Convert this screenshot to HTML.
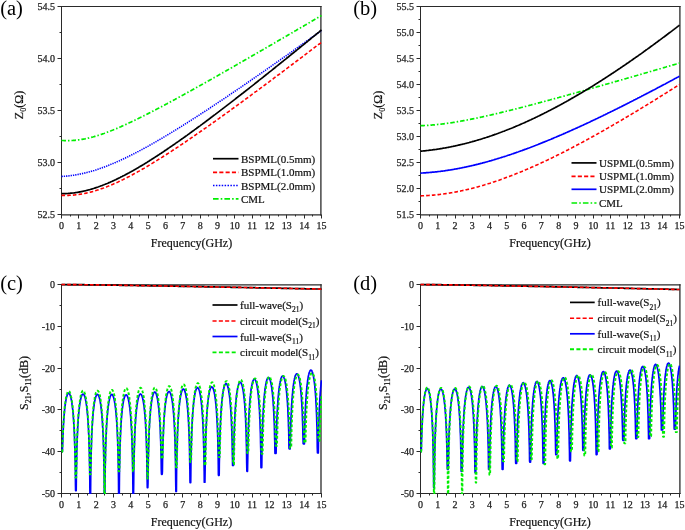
<!DOCTYPE html>
<html><head><meta charset="utf-8"><title>Figure</title><style>
html,body{margin:0;padding:0;background:#fff;}
body{width:685px;height:530px;overflow:hidden;}
svg{display:block;font-family:"Liberation Serif", serif;will-change:transform;}
.tk{font-size:10px;fill:#222;stroke:#222;stroke-width:0.25px;}
.ti{font-size:12px;fill:#111;stroke:#111;stroke-width:0.2px;}
.lg{font-size:11px;fill:#111;stroke:#111;stroke-width:0.2px;}
.pl{font-size:20.5px;fill:#000;}
</style></head><body>
<svg width="685" height="530" viewBox="0 0 685 530">
<rect width="685" height="530" fill="#fff"/>
<path d="M61.00,6.50H321.55" stroke="#2a2a2a" stroke-width="1"/>
<path d="M61.00,214.85H321.55" stroke="#2a2a2a" stroke-width="1.3"/>
<path d="M61.50,6.00V215.50" stroke="#2a2a2a" stroke-width="1"/>
<path d="M320.90,6.00V215.50" stroke="#2a2a2a" stroke-width="1.3"/>
<path d="M61.50,214.8V218.5M70.50,214.8V216.5M78.50,214.8V218.5M87.50,214.8V216.5M96.50,214.8V218.5M104.50,214.8V216.5M113.50,214.8V218.5M122.50,214.8V216.5M130.50,214.8V218.5M139.50,214.8V216.5M148.50,214.8V218.5M156.50,214.8V216.5M165.50,214.8V218.5M174.50,214.8V216.5M182.50,214.8V218.5M191.50,214.8V216.5M200.50,214.8V218.5M208.50,214.8V216.5M217.50,214.8V218.5M226.50,214.8V216.5M234.50,214.8V218.5M243.50,214.8V216.5M252.50,214.8V218.5M260.50,214.8V216.5M269.50,214.8V218.5M278.50,214.8V216.5M286.50,214.8V218.5M295.50,214.8V216.5M304.50,214.8V218.5M312.50,214.8V216.5M321.50,214.8V218.5M61.5,214.50h-4M61.5,188.50h-2M61.5,162.50h-4M61.5,136.50h-2M61.5,110.50h-4M61.5,84.50h-2M61.5,58.50h-4M61.5,32.50h-2M61.5,6.50h-4" stroke="#2a2a2a" stroke-width="1" fill="none"/>
<text x="61.50" y="229.3" text-anchor="middle" class="tk">0</text>
<text x="78.83" y="229.3" text-anchor="middle" class="tk">1</text>
<text x="96.17" y="229.3" text-anchor="middle" class="tk">2</text>
<text x="113.50" y="229.3" text-anchor="middle" class="tk">3</text>
<text x="130.83" y="229.3" text-anchor="middle" class="tk">4</text>
<text x="148.17" y="229.3" text-anchor="middle" class="tk">5</text>
<text x="165.50" y="229.3" text-anchor="middle" class="tk">6</text>
<text x="182.83" y="229.3" text-anchor="middle" class="tk">7</text>
<text x="200.17" y="229.3" text-anchor="middle" class="tk">8</text>
<text x="217.50" y="229.3" text-anchor="middle" class="tk">9</text>
<text x="234.83" y="229.3" text-anchor="middle" class="tk">10</text>
<text x="252.17" y="229.3" text-anchor="middle" class="tk">11</text>
<text x="269.50" y="229.3" text-anchor="middle" class="tk">12</text>
<text x="286.83" y="229.3" text-anchor="middle" class="tk">13</text>
<text x="304.17" y="229.3" text-anchor="middle" class="tk">14</text>
<text x="321.50" y="229.3" text-anchor="middle" class="tk">15</text>
<text x="55.0" y="218.00" text-anchor="end" class="tk">52.5</text>
<text x="55.0" y="166.00" text-anchor="end" class="tk">53.0</text>
<text x="55.0" y="114.00" text-anchor="end" class="tk">53.5</text>
<text x="55.0" y="62.00" text-anchor="end" class="tk">54.0</text>
<text x="55.0" y="10.00" text-anchor="end" class="tk">54.5</text>
<text x="191.5" y="246.8" text-anchor="middle" class="ti">Frequency(GHz)</text>
<polyline points="61.5,140.4 62.2,140.5 62.8,140.5 63.5,140.5 64.1,140.6 64.8,140.6 65.4,140.6 66.1,140.6 66.7,140.6 67.4,140.6 68.0,140.6 68.7,140.6 69.3,140.6 70.0,140.6 70.6,140.6 71.3,140.6 71.9,140.5 72.6,140.5 73.2,140.4 73.9,140.4 74.5,140.4 75.2,140.3 75.8,140.2 76.5,140.2 77.1,140.1 77.8,140.0 78.4,139.9 79.1,139.8 79.7,139.8 80.4,139.7 81.0,139.6 81.7,139.4 82.4,139.3 83.0,139.2 83.7,139.1 84.3,139.0 85.0,138.9 85.6,138.7 86.3,138.6 86.9,138.4 87.6,138.3 88.2,138.1 88.9,138.0 89.5,137.8 90.2,137.7 90.8,137.5 91.5,137.3 92.1,137.2 92.8,137.0 93.4,136.8 94.1,136.6 94.7,136.4 95.4,136.3 96.0,136.1 96.7,135.9 97.3,135.7 98.0,135.5 98.6,135.2 99.3,135.0 99.9,134.8 100.6,134.6 101.2,134.4 101.9,134.2 102.6,133.9 103.2,133.7 103.9,133.5 104.5,133.3 105.2,133.0 105.8,132.8 106.5,132.5 107.1,132.3 107.8,132.0 108.4,131.8 109.1,131.6 109.7,131.3 110.4,131.0 111.0,130.8 111.7,130.5 112.3,130.3 113.0,130.0 113.6,129.7 114.3,129.5 114.9,129.2 115.6,128.9 116.2,128.7 116.9,128.4 117.5,128.1 118.2,127.8 118.8,127.5 119.5,127.3 120.1,127.0 120.8,126.7 121.4,126.4 122.1,126.1 122.8,125.8 123.4,125.5 124.1,125.2 124.7,124.9 125.4,124.6 126.0,124.4 126.7,124.1 127.3,123.8 128.0,123.5 128.6,123.1 129.3,122.8 129.9,122.5 130.6,122.2 131.2,121.9 131.9,121.6 132.5,121.3 133.2,121.0 133.8,120.7 134.5,120.4 135.1,120.1 135.8,119.7 136.4,119.4 137.1,119.1 137.7,118.8 138.4,118.5 139.0,118.1 139.7,117.8 140.3,117.5 141.0,117.2 141.7,116.9 142.3,116.5 143.0,116.2 143.6,115.9 144.3,115.5 144.9,115.2 145.6,114.9 146.2,114.6 146.9,114.2 147.5,113.9 148.2,113.6 148.8,113.2 149.5,112.9 150.1,112.6 150.8,112.2 151.4,111.9 152.1,111.6 152.7,111.2 153.4,110.9 154.0,110.5 154.7,110.2 155.3,109.9 156.0,109.5 156.6,109.2 157.3,108.8 157.9,108.5 158.6,108.2 159.2,107.8 159.9,107.5 160.5,107.1 161.2,106.8 161.9,106.4 162.5,106.1 163.2,105.8 163.8,105.4 164.5,105.1 165.1,104.7 165.8,104.4 166.4,104.0 167.1,103.7 167.7,103.3 168.4,103.0 169.0,102.6 169.7,102.3 170.3,101.9 171.0,101.6 171.6,101.2 172.3,100.9 172.9,100.5 173.6,100.2 174.2,99.8 174.9,99.5 175.5,99.1 176.2,98.7 176.8,98.4 177.5,98.0 178.1,97.7 178.8,97.3 179.4,97.0 180.1,96.6 180.7,96.3 181.4,95.9 182.1,95.5 182.7,95.2 183.4,94.8 184.0,94.5 184.7,94.1 185.3,93.7 186.0,93.4 186.6,93.0 187.3,92.7 187.9,92.3 188.6,91.9 189.2,91.6 189.9,91.2 190.5,90.9 191.2,90.5 191.8,90.1 192.5,89.8 193.1,89.4 193.8,89.1 194.4,88.7 195.1,88.3 195.7,88.0 196.4,87.6 197.0,87.2 197.7,86.9 198.3,86.5 199.0,86.1 199.6,85.8 200.3,85.4 200.9,85.1 201.6,84.7 202.3,84.3 202.9,84.0 203.6,83.6 204.2,83.2 204.9,82.9 205.5,82.5 206.2,82.1 206.8,81.8 207.5,81.4 208.1,81.0 208.8,80.7 209.4,80.3 210.1,79.9 210.7,79.6 211.4,79.2 212.0,78.8 212.7,78.4 213.3,78.1 214.0,77.7 214.6,77.3 215.3,77.0 215.9,76.6 216.6,76.2 217.2,75.9 217.9,75.5 218.5,75.1 219.2,74.8 219.8,74.4 220.5,74.0 221.1,73.6 221.8,73.3 222.5,72.9 223.1,72.5 223.8,72.2 224.4,71.8 225.1,71.4 225.7,71.0 226.4,70.7 227.0,70.3 227.7,69.9 228.3,69.6 229.0,69.2 229.6,68.8 230.3,68.4 230.9,68.1 231.6,67.7 232.2,67.3 232.9,67.0 233.5,66.6 234.2,66.2 234.8,65.8 235.5,65.5 236.1,65.1 236.8,64.7 237.4,64.3 238.1,64.0 238.7,63.6 239.4,63.2 240.0,62.8 240.7,62.5 241.3,62.1 242.0,61.7 242.7,61.3 243.3,61.0 244.0,60.6 244.6,60.2 245.3,59.8 245.9,59.5 246.6,59.1 247.2,58.7 247.9,58.3 248.5,58.0 249.2,57.6 249.8,57.2 250.5,56.8 251.1,56.5 251.8,56.1 252.4,55.7 253.1,55.3 253.7,55.0 254.4,54.6 255.0,54.2 255.7,53.8 256.3,53.5 257.0,53.1 257.6,52.7 258.3,52.3 258.9,52.0 259.6,51.6 260.2,51.2 260.9,50.8 261.6,50.4 262.2,50.1 262.9,49.7 263.5,49.3 264.2,48.9 264.8,48.6 265.5,48.2 266.1,47.8 266.8,47.4 267.4,47.1 268.1,46.7 268.7,46.3 269.4,45.9 270.0,45.5 270.7,45.2 271.3,44.8 272.0,44.4 272.6,44.0 273.3,43.6 273.9,43.3 274.6,42.9 275.2,42.5 275.9,42.1 276.5,41.8 277.2,41.4 277.8,41.0 278.5,40.6 279.1,40.2 279.8,39.9 280.4,39.5 281.1,39.1 281.8,38.7 282.4,38.3 283.1,38.0 283.7,37.6 284.4,37.2 285.0,36.8 285.7,36.5 286.3,36.1 287.0,35.7 287.6,35.3 288.3,34.9 288.9,34.6 289.6,34.2 290.2,33.8 290.9,33.4 291.5,33.0 292.2,32.7 292.8,32.3 293.5,31.9 294.1,31.5 294.8,31.1 295.4,30.8 296.1,30.4 296.7,30.0 297.4,29.6 298.0,29.2 298.7,28.9 299.3,28.5 300.0,28.1 300.6,27.7 301.3,27.3 302.0,26.9 302.6,26.6 303.3,26.2 303.9,25.8 304.6,25.4 305.2,25.0 305.9,24.7 306.5,24.3 307.2,23.9 307.8,23.5 308.5,23.1 309.1,22.8 309.8,22.4 310.4,22.0 311.1,21.6 311.7,21.2 312.4,20.9 313.0,20.5 313.7,20.1 314.3,19.7 315.0,19.3 315.6,18.9 316.3,18.6 316.9,18.2 317.6,17.8 318.2,17.4 318.9,17.0 319.5,16.7 320.2,16.3 320.8,15.9 321.5,15.5" fill="none" stroke="#00ee00" stroke-width="1.7" stroke-dasharray="4.5,2,1.5,2" stroke-linejoin="round"/>
<polyline points="61.5,176.4 62.2,176.4 62.8,176.3 63.5,176.3 64.1,176.3 64.8,176.2 65.4,176.2 66.1,176.1 66.7,176.1 67.4,176.0 68.0,175.9 68.7,175.9 69.3,175.8 70.0,175.7 70.6,175.6 71.3,175.5 71.9,175.5 72.6,175.4 73.2,175.3 73.9,175.2 74.5,175.1 75.2,175.0 75.8,174.9 76.5,174.8 77.1,174.6 77.8,174.5 78.4,174.4 79.1,174.3 79.7,174.1 80.4,174.0 81.0,173.9 81.7,173.7 82.4,173.6 83.0,173.4 83.7,173.3 84.3,173.1 85.0,173.0 85.6,172.8 86.3,172.7 86.9,172.5 87.6,172.3 88.2,172.2 88.9,172.0 89.5,171.8 90.2,171.6 90.8,171.4 91.5,171.3 92.1,171.1 92.8,170.9 93.4,170.7 94.1,170.5 94.7,170.3 95.4,170.1 96.0,169.9 96.7,169.6 97.3,169.4 98.0,169.2 98.6,169.0 99.3,168.8 99.9,168.6 100.6,168.3 101.2,168.1 101.9,167.9 102.6,167.6 103.2,167.4 103.9,167.2 104.5,166.9 105.2,166.7 105.8,166.4 106.5,166.2 107.1,165.9 107.8,165.7 108.4,165.4 109.1,165.1 109.7,164.9 110.4,164.6 111.0,164.3 111.7,164.1 112.3,163.8 113.0,163.5 113.6,163.3 114.3,163.0 114.9,162.7 115.6,162.4 116.2,162.1 116.9,161.8 117.5,161.6 118.2,161.3 118.8,161.0 119.5,160.7 120.1,160.4 120.8,160.1 121.4,159.8 122.1,159.5 122.8,159.2 123.4,158.9 124.1,158.6 124.7,158.3 125.4,158.0 126.0,157.6 126.7,157.3 127.3,157.0 128.0,156.7 128.6,156.4 129.3,156.1 129.9,155.7 130.6,155.4 131.2,155.1 131.9,154.8 132.5,154.4 133.2,154.1 133.8,153.8 134.5,153.4 135.1,153.1 135.8,152.8 136.4,152.4 137.1,152.1 137.7,151.7 138.4,151.4 139.0,151.1 139.7,150.7 140.3,150.4 141.0,150.0 141.7,149.7 142.3,149.3 143.0,149.0 143.6,148.6 144.3,148.3 144.9,147.9 145.6,147.5 146.2,147.2 146.9,146.8 147.5,146.5 148.2,146.1 148.8,145.7 149.5,145.4 150.1,145.0 150.8,144.6 151.4,144.3 152.1,143.9 152.7,143.5 153.4,143.2 154.0,142.8 154.7,142.4 155.3,142.1 156.0,141.7 156.6,141.3 157.3,140.9 157.9,140.5 158.6,140.2 159.2,139.8 159.9,139.4 160.5,139.0 161.2,138.6 161.9,138.3 162.5,137.9 163.2,137.5 163.8,137.1 164.5,136.7 165.1,136.3 165.8,135.9 166.4,135.6 167.1,135.2 167.7,134.8 168.4,134.4 169.0,134.0 169.7,133.6 170.3,133.2 171.0,132.8 171.6,132.4 172.3,132.0 172.9,131.6 173.6,131.2 174.2,130.8 174.9,130.4 175.5,130.0 176.2,129.6 176.8,129.2 177.5,128.8 178.1,128.4 178.8,128.0 179.4,127.6 180.1,127.2 180.7,126.8 181.4,126.4 182.1,126.0 182.7,125.6 183.4,125.2 184.0,124.7 184.7,124.3 185.3,123.9 186.0,123.5 186.6,123.1 187.3,122.7 187.9,122.3 188.6,121.9 189.2,121.4 189.9,121.0 190.5,120.6 191.2,120.2 191.8,119.8 192.5,119.4 193.1,118.9 193.8,118.5 194.4,118.1 195.1,117.7 195.7,117.3 196.4,116.9 197.0,116.4 197.7,116.0 198.3,115.6 199.0,115.2 199.6,114.7 200.3,114.3 200.9,113.9 201.6,113.5 202.3,113.0 202.9,112.6 203.6,112.2 204.2,111.8 204.9,111.3 205.5,110.9 206.2,110.5 206.8,110.1 207.5,109.6 208.1,109.2 208.8,108.8 209.4,108.3 210.1,107.9 210.7,107.5 211.4,107.1 212.0,106.6 212.7,106.2 213.3,105.8 214.0,105.3 214.6,104.9 215.3,104.5 215.9,104.0 216.6,103.6 217.2,103.2 217.9,102.7 218.5,102.3 219.2,101.9 219.8,101.4 220.5,101.0 221.1,100.5 221.8,100.1 222.5,99.7 223.1,99.2 223.8,98.8 224.4,98.4 225.1,97.9 225.7,97.5 226.4,97.0 227.0,96.6 227.7,96.2 228.3,95.7 229.0,95.3 229.6,94.8 230.3,94.4 230.9,94.0 231.6,93.5 232.2,93.1 232.9,92.6 233.5,92.2 234.2,91.8 234.8,91.3 235.5,90.9 236.1,90.4 236.8,90.0 237.4,89.5 238.1,89.1 238.7,88.6 239.4,88.2 240.0,87.8 240.7,87.3 241.3,86.9 242.0,86.4 242.7,86.0 243.3,85.5 244.0,85.1 244.6,84.6 245.3,84.2 245.9,83.7 246.6,83.3 247.2,82.8 247.9,82.4 248.5,81.9 249.2,81.5 249.8,81.0 250.5,80.6 251.1,80.1 251.8,79.7 252.4,79.2 253.1,78.8 253.7,78.3 254.4,77.9 255.0,77.4 255.7,77.0 256.3,76.5 257.0,76.1 257.6,75.6 258.3,75.2 258.9,74.7 259.6,74.3 260.2,73.8 260.9,73.4 261.6,72.9 262.2,72.5 262.9,72.0 263.5,71.6 264.2,71.1 264.8,70.6 265.5,70.2 266.1,69.7 266.8,69.3 267.4,68.8 268.1,68.4 268.7,67.9 269.4,67.5 270.0,67.0 270.7,66.5 271.3,66.1 272.0,65.6 272.6,65.2 273.3,64.7 273.9,64.3 274.6,63.8 275.2,63.4 275.9,62.9 276.5,62.4 277.2,62.0 277.8,61.5 278.5,61.1 279.1,60.6 279.8,60.1 280.4,59.7 281.1,59.2 281.8,58.8 282.4,58.3 283.1,57.9 283.7,57.4 284.4,56.9 285.0,56.5 285.7,56.0 286.3,55.6 287.0,55.1 287.6,54.6 288.3,54.2 288.9,53.7 289.6,53.3 290.2,52.8 290.9,52.3 291.5,51.9 292.2,51.4 292.8,50.9 293.5,50.5 294.1,50.0 294.8,49.6 295.4,49.1 296.1,48.6 296.7,48.2 297.4,47.7 298.0,47.3 298.7,46.8 299.3,46.3 300.0,45.9 300.6,45.4 301.3,44.9 302.0,44.5 302.6,44.0 303.3,43.5 303.9,43.1 304.6,42.6 305.2,42.2 305.9,41.7 306.5,41.2 307.2,40.8 307.8,40.3 308.5,39.8 309.1,39.4 309.8,38.9 310.4,38.4 311.1,38.0 311.7,37.5 312.4,37.0 313.0,36.6 313.7,36.1 314.3,35.7 315.0,35.2 315.6,34.7 316.3,34.3 316.9,33.8 317.6,33.3 318.2,32.9 318.9,32.4 319.5,31.9 320.2,31.5 320.8,31.0 321.5,30.5" fill="none" stroke="#0000ff" stroke-width="1.6" stroke-dasharray="1.3,1.0" stroke-linejoin="round"/>
<polyline points="61.5,193.7 62.2,193.7 62.8,193.7 63.5,193.7 64.1,193.6 64.8,193.6 65.4,193.6 66.1,193.6 66.7,193.5 67.4,193.5 68.0,193.5 68.7,193.4 69.3,193.4 70.0,193.3 70.6,193.2 71.3,193.2 71.9,193.1 72.6,193.0 73.2,193.0 73.9,192.9 74.5,192.8 75.2,192.7 75.8,192.6 76.5,192.5 77.1,192.4 77.8,192.3 78.4,192.2 79.1,192.1 79.7,191.9 80.4,191.8 81.0,191.7 81.7,191.6 82.4,191.4 83.0,191.3 83.7,191.1 84.3,191.0 85.0,190.8 85.6,190.7 86.3,190.5 86.9,190.3 87.6,190.2 88.2,190.0 88.9,189.8 89.5,189.7 90.2,189.5 90.8,189.3 91.5,189.1 92.1,188.9 92.8,188.7 93.4,188.5 94.1,188.3 94.7,188.1 95.4,187.9 96.0,187.6 96.7,187.4 97.3,187.2 98.0,187.0 98.6,186.8 99.3,186.5 99.9,186.3 100.6,186.0 101.2,185.8 101.9,185.6 102.6,185.3 103.2,185.0 103.9,184.8 104.5,184.5 105.2,184.3 105.8,184.0 106.5,183.7 107.1,183.5 107.8,183.2 108.4,182.9 109.1,182.6 109.7,182.4 110.4,182.1 111.0,181.8 111.7,181.5 112.3,181.2 113.0,180.9 113.6,180.6 114.3,180.3 114.9,180.0 115.6,179.7 116.2,179.4 116.9,179.1 117.5,178.7 118.2,178.4 118.8,178.1 119.5,177.8 120.1,177.5 120.8,177.1 121.4,176.8 122.1,176.5 122.8,176.1 123.4,175.8 124.1,175.5 124.7,175.1 125.4,174.8 126.0,174.4 126.7,174.1 127.3,173.7 128.0,173.4 128.6,173.0 129.3,172.7 129.9,172.3 130.6,172.0 131.2,171.6 131.9,171.2 132.5,170.9 133.2,170.5 133.8,170.1 134.5,169.8 135.1,169.4 135.8,169.0 136.4,168.6 137.1,168.3 137.7,167.9 138.4,167.5 139.0,167.1 139.7,166.7 140.3,166.3 141.0,165.9 141.7,165.6 142.3,165.2 143.0,164.8 143.6,164.4 144.3,164.0 144.9,163.6 145.6,163.2 146.2,162.8 146.9,162.4 147.5,162.0 148.2,161.6 148.8,161.2 149.5,160.7 150.1,160.3 150.8,159.9 151.4,159.5 152.1,159.1 152.7,158.7 153.4,158.3 154.0,157.8 154.7,157.4 155.3,157.0 156.0,156.6 156.6,156.2 157.3,155.7 157.9,155.3 158.6,154.9 159.2,154.5 159.9,154.0 160.5,153.6 161.2,153.2 161.9,152.7 162.5,152.3 163.2,151.9 163.8,151.4 164.5,151.0 165.1,150.5 165.8,150.1 166.4,149.7 167.1,149.2 167.7,148.8 168.4,148.3 169.0,147.9 169.7,147.4 170.3,147.0 171.0,146.6 171.6,146.1 172.3,145.7 172.9,145.2 173.6,144.8 174.2,144.3 174.9,143.9 175.5,143.4 176.2,142.9 176.8,142.5 177.5,142.0 178.1,141.6 178.8,141.1 179.4,140.7 180.1,140.2 180.7,139.7 181.4,139.3 182.1,138.8 182.7,138.3 183.4,137.9 184.0,137.4 184.7,137.0 185.3,136.5 186.0,136.0 186.6,135.6 187.3,135.1 187.9,134.6 188.6,134.1 189.2,133.7 189.9,133.2 190.5,132.7 191.2,132.3 191.8,131.8 192.5,131.3 193.1,130.8 193.8,130.4 194.4,129.9 195.1,129.4 195.7,128.9 196.4,128.5 197.0,128.0 197.7,127.5 198.3,127.0 199.0,126.5 199.6,126.1 200.3,125.6 200.9,125.1 201.6,124.6 202.3,124.1 202.9,123.6 203.6,123.2 204.2,122.7 204.9,122.2 205.5,121.7 206.2,121.2 206.8,120.7 207.5,120.2 208.1,119.8 208.8,119.3 209.4,118.8 210.1,118.3 210.7,117.8 211.4,117.3 212.0,116.8 212.7,116.3 213.3,115.8 214.0,115.3 214.6,114.9 215.3,114.4 215.9,113.9 216.6,113.4 217.2,112.9 217.9,112.4 218.5,111.9 219.2,111.4 219.8,110.9 220.5,110.4 221.1,109.9 221.8,109.4 222.5,108.9 223.1,108.4 223.8,107.9 224.4,107.4 225.1,106.9 225.7,106.4 226.4,105.9 227.0,105.4 227.7,104.9 228.3,104.4 229.0,103.9 229.6,103.4 230.3,102.9 230.9,102.4 231.6,101.9 232.2,101.4 232.9,100.9 233.5,100.4 234.2,99.9 234.8,99.4 235.5,98.9 236.1,98.3 236.8,97.8 237.4,97.3 238.1,96.8 238.7,96.3 239.4,95.8 240.0,95.3 240.7,94.8 241.3,94.3 242.0,93.8 242.7,93.3 243.3,92.8 244.0,92.3 244.6,91.7 245.3,91.2 245.9,90.7 246.6,90.2 247.2,89.7 247.9,89.2 248.5,88.7 249.2,88.2 249.8,87.6 250.5,87.1 251.1,86.6 251.8,86.1 252.4,85.6 253.1,85.1 253.7,84.6 254.4,84.1 255.0,83.5 255.7,83.0 256.3,82.5 257.0,82.0 257.6,81.5 258.3,81.0 258.9,80.4 259.6,79.9 260.2,79.4 260.9,78.9 261.6,78.4 262.2,77.9 262.9,77.3 263.5,76.8 264.2,76.3 264.8,75.8 265.5,75.3 266.1,74.7 266.8,74.2 267.4,73.7 268.1,73.2 268.7,72.7 269.4,72.1 270.0,71.6 270.7,71.1 271.3,70.6 272.0,70.1 272.6,69.5 273.3,69.0 273.9,68.5 274.6,68.0 275.2,67.5 275.9,66.9 276.5,66.4 277.2,65.9 277.8,65.4 278.5,64.8 279.1,64.3 279.8,63.8 280.4,63.3 281.1,62.8 281.8,62.2 282.4,61.7 283.1,61.2 283.7,60.7 284.4,60.1 285.0,59.6 285.7,59.1 286.3,58.6 287.0,58.0 287.6,57.5 288.3,57.0 288.9,56.5 289.6,55.9 290.2,55.4 290.9,54.9 291.5,54.3 292.2,53.8 292.8,53.3 293.5,52.8 294.1,52.2 294.8,51.7 295.4,51.2 296.1,50.7 296.7,50.1 297.4,49.6 298.0,49.1 298.7,48.5 299.3,48.0 300.0,47.5 300.6,47.0 301.3,46.4 302.0,45.9 302.6,45.4 303.3,44.8 303.9,44.3 304.6,43.8 305.2,43.3 305.9,42.7 306.5,42.2 307.2,41.7 307.8,41.1 308.5,40.6 309.1,40.1 309.8,39.5 310.4,39.0 311.1,38.5 311.7,37.9 312.4,37.4 313.0,36.9 313.7,36.3 314.3,35.8 315.0,35.3 315.6,34.8 316.3,34.2 316.9,33.7 317.6,33.2 318.2,32.6 318.9,32.1 319.5,31.6 320.2,31.0 320.8,30.5 321.5,30.0" fill="none" stroke="#000000" stroke-width="1.7" stroke-linejoin="round"/>
<polyline points="61.5,195.3 62.2,195.4 62.8,195.4 63.5,195.4 64.1,195.4 64.8,195.4 65.4,195.4 66.1,195.4 66.7,195.4 67.4,195.4 68.0,195.4 68.7,195.4 69.3,195.3 70.0,195.3 70.6,195.3 71.3,195.2 71.9,195.2 72.6,195.2 73.2,195.1 73.9,195.0 74.5,195.0 75.2,194.9 75.8,194.8 76.5,194.8 77.1,194.7 77.8,194.6 78.4,194.5 79.1,194.4 79.7,194.3 80.4,194.2 81.0,194.1 81.7,194.0 82.4,193.9 83.0,193.8 83.7,193.7 84.3,193.5 85.0,193.4 85.6,193.3 86.3,193.1 86.9,193.0 87.6,192.8 88.2,192.7 88.9,192.5 89.5,192.4 90.2,192.2 90.8,192.0 91.5,191.9 92.1,191.7 92.8,191.5 93.4,191.3 94.1,191.1 94.7,190.9 95.4,190.7 96.0,190.5 96.7,190.3 97.3,190.1 98.0,189.9 98.6,189.7 99.3,189.5 99.9,189.3 100.6,189.1 101.2,188.8 101.9,188.6 102.6,188.4 103.2,188.1 103.9,187.9 104.5,187.6 105.2,187.4 105.8,187.1 106.5,186.9 107.1,186.6 107.8,186.4 108.4,186.1 109.1,185.9 109.7,185.6 110.4,185.3 111.0,185.0 111.7,184.8 112.3,184.5 113.0,184.2 113.6,183.9 114.3,183.6 114.9,183.4 115.6,183.1 116.2,182.8 116.9,182.5 117.5,182.2 118.2,181.9 118.8,181.6 119.5,181.3 120.1,180.9 120.8,180.6 121.4,180.3 122.1,180.0 122.8,179.7 123.4,179.4 124.1,179.0 124.7,178.7 125.4,178.4 126.0,178.1 126.7,177.7 127.3,177.4 128.0,177.1 128.6,176.7 129.3,176.4 129.9,176.0 130.6,175.7 131.2,175.3 131.9,175.0 132.5,174.7 133.2,174.3 133.8,173.9 134.5,173.6 135.1,173.2 135.8,172.9 136.4,172.5 137.1,172.2 137.7,171.8 138.4,171.4 139.0,171.1 139.7,170.7 140.3,170.3 141.0,170.0 141.7,169.6 142.3,169.2 143.0,168.8 143.6,168.5 144.3,168.1 144.9,167.7 145.6,167.3 146.2,166.9 146.9,166.5 147.5,166.2 148.2,165.8 148.8,165.4 149.5,165.0 150.1,164.6 150.8,164.2 151.4,163.8 152.1,163.4 152.7,163.0 153.4,162.6 154.0,162.2 154.7,161.8 155.3,161.4 156.0,161.0 156.6,160.6 157.3,160.2 157.9,159.8 158.6,159.4 159.2,159.0 159.9,158.6 160.5,158.2 161.2,157.8 161.9,157.4 162.5,157.0 163.2,156.5 163.8,156.1 164.5,155.7 165.1,155.3 165.8,154.9 166.4,154.5 167.1,154.0 167.7,153.6 168.4,153.2 169.0,152.8 169.7,152.3 170.3,151.9 171.0,151.5 171.6,151.1 172.3,150.6 172.9,150.2 173.6,149.8 174.2,149.4 174.9,148.9 175.5,148.5 176.2,148.1 176.8,147.6 177.5,147.2 178.1,146.8 178.8,146.3 179.4,145.9 180.1,145.5 180.7,145.0 181.4,144.6 182.1,144.2 182.7,143.7 183.4,143.3 184.0,142.8 184.7,142.4 185.3,142.0 186.0,141.5 186.6,141.1 187.3,140.6 187.9,140.2 188.6,139.8 189.2,139.3 189.9,138.9 190.5,138.4 191.2,138.0 191.8,137.5 192.5,137.1 193.1,136.6 193.8,136.2 194.4,135.7 195.1,135.3 195.7,134.8 196.4,134.4 197.0,133.9 197.7,133.5 198.3,133.0 199.0,132.6 199.6,132.1 200.3,131.7 200.9,131.2 201.6,130.8 202.3,130.3 202.9,129.8 203.6,129.4 204.2,128.9 204.9,128.5 205.5,128.0 206.2,127.6 206.8,127.1 207.5,126.6 208.1,126.2 208.8,125.7 209.4,125.3 210.1,124.8 210.7,124.3 211.4,123.9 212.0,123.4 212.7,123.0 213.3,122.5 214.0,122.0 214.6,121.6 215.3,121.1 215.9,120.6 216.6,120.2 217.2,119.7 217.9,119.2 218.5,118.8 219.2,118.3 219.8,117.8 220.5,117.4 221.1,116.9 221.8,116.4 222.5,116.0 223.1,115.5 223.8,115.0 224.4,114.6 225.1,114.1 225.7,113.6 226.4,113.2 227.0,112.7 227.7,112.2 228.3,111.8 229.0,111.3 229.6,110.8 230.3,110.3 230.9,109.9 231.6,109.4 232.2,108.9 232.9,108.4 233.5,108.0 234.2,107.5 234.8,107.0 235.5,106.6 236.1,106.1 236.8,105.6 237.4,105.1 238.1,104.7 238.7,104.2 239.4,103.7 240.0,103.2 240.7,102.8 241.3,102.3 242.0,101.8 242.7,101.3 243.3,100.8 244.0,100.4 244.6,99.9 245.3,99.4 245.9,98.9 246.6,98.5 247.2,98.0 247.9,97.5 248.5,97.0 249.2,96.5 249.8,96.1 250.5,95.6 251.1,95.1 251.8,94.6 252.4,94.1 253.1,93.7 253.7,93.2 254.4,92.7 255.0,92.2 255.7,91.7 256.3,91.3 257.0,90.8 257.6,90.3 258.3,89.8 258.9,89.3 259.6,88.8 260.2,88.4 260.9,87.9 261.6,87.4 262.2,86.9 262.9,86.4 263.5,85.9 264.2,85.5 264.8,85.0 265.5,84.5 266.1,84.0 266.8,83.5 267.4,83.0 268.1,82.5 268.7,82.1 269.4,81.6 270.0,81.1 270.7,80.6 271.3,80.1 272.0,79.6 272.6,79.1 273.3,78.7 273.9,78.2 274.6,77.7 275.2,77.2 275.9,76.7 276.5,76.2 277.2,75.7 277.8,75.2 278.5,74.8 279.1,74.3 279.8,73.8 280.4,73.3 281.1,72.8 281.8,72.3 282.4,71.8 283.1,71.3 283.7,70.9 284.4,70.4 285.0,69.9 285.7,69.4 286.3,68.9 287.0,68.4 287.6,67.9 288.3,67.4 288.9,66.9 289.6,66.4 290.2,66.0 290.9,65.5 291.5,65.0 292.2,64.5 292.8,64.0 293.5,63.5 294.1,63.0 294.8,62.5 295.4,62.0 296.1,61.5 296.7,61.0 297.4,60.5 298.0,60.1 298.7,59.6 299.3,59.1 300.0,58.6 300.6,58.1 301.3,57.6 302.0,57.1 302.6,56.6 303.3,56.1 303.9,55.6 304.6,55.1 305.2,54.6 305.9,54.1 306.5,53.7 307.2,53.2 307.8,52.7 308.5,52.2 309.1,51.7 309.8,51.2 310.4,50.7 311.1,50.2 311.7,49.7 312.4,49.2 313.0,48.7 313.7,48.2 314.3,47.7 315.0,47.2 315.6,46.7 316.3,46.2 316.9,45.7 317.6,45.2 318.2,44.7 318.9,44.3 319.5,43.8 320.2,43.3 320.8,42.8 321.5,42.3" fill="none" stroke="#ff0000" stroke-width="1.6" stroke-dasharray="3.6,2.1" stroke-linejoin="round"/>
<path d="M420.00,6.50H680.55" stroke="#2a2a2a" stroke-width="1"/>
<path d="M420.00,214.85H680.55" stroke="#2a2a2a" stroke-width="1.3"/>
<path d="M420.50,6.00V215.50" stroke="#2a2a2a" stroke-width="1"/>
<path d="M679.90,6.00V215.50" stroke="#2a2a2a" stroke-width="1.3"/>
<path d="M420.50,214.8V218.5M429.50,214.8V216.5M437.50,214.8V218.5M446.50,214.8V216.5M455.50,214.8V218.5M463.50,214.8V216.5M472.50,214.8V218.5M480.50,214.8V216.5M489.50,214.8V218.5M498.50,214.8V216.5M506.50,214.8V218.5M515.50,214.8V216.5M524.50,214.8V218.5M532.50,214.8V216.5M541.50,214.8V218.5M550.50,214.8V216.5M558.50,214.8V218.5M567.50,214.8V216.5M575.50,214.8V218.5M584.50,214.8V216.5M593.50,214.8V218.5M601.50,214.8V216.5M610.50,214.8V218.5M619.50,214.8V216.5M627.50,214.8V218.5M636.50,214.8V216.5M644.50,214.8V218.5M653.50,214.8V216.5M662.50,214.8V218.5M670.50,214.8V216.5M679.50,214.8V218.5M420.5,214.50h-4M420.5,201.50h-2M420.5,188.50h-4M420.5,175.50h-2M420.5,162.50h-4M420.5,149.50h-2M420.5,136.50h-4M420.5,123.50h-2M420.5,110.50h-4M420.5,97.50h-2M420.5,84.50h-4M420.5,71.50h-2M420.5,58.50h-4M420.5,45.50h-2M420.5,32.50h-4M420.5,19.50h-2M420.5,6.50h-4" stroke="#2a2a2a" stroke-width="1" fill="none"/>
<text x="420.50" y="229.3" text-anchor="middle" class="tk">0</text>
<text x="437.77" y="229.3" text-anchor="middle" class="tk">1</text>
<text x="455.03" y="229.3" text-anchor="middle" class="tk">2</text>
<text x="472.30" y="229.3" text-anchor="middle" class="tk">3</text>
<text x="489.57" y="229.3" text-anchor="middle" class="tk">4</text>
<text x="506.83" y="229.3" text-anchor="middle" class="tk">5</text>
<text x="524.10" y="229.3" text-anchor="middle" class="tk">6</text>
<text x="541.37" y="229.3" text-anchor="middle" class="tk">7</text>
<text x="558.63" y="229.3" text-anchor="middle" class="tk">8</text>
<text x="575.90" y="229.3" text-anchor="middle" class="tk">9</text>
<text x="593.17" y="229.3" text-anchor="middle" class="tk">10</text>
<text x="610.43" y="229.3" text-anchor="middle" class="tk">11</text>
<text x="627.70" y="229.3" text-anchor="middle" class="tk">12</text>
<text x="644.97" y="229.3" text-anchor="middle" class="tk">13</text>
<text x="662.23" y="229.3" text-anchor="middle" class="tk">14</text>
<text x="679.50" y="229.3" text-anchor="middle" class="tk">15</text>
<text x="414.0" y="218.00" text-anchor="end" class="tk">51.5</text>
<text x="414.0" y="192.00" text-anchor="end" class="tk">52.0</text>
<text x="414.0" y="166.00" text-anchor="end" class="tk">52.5</text>
<text x="414.0" y="140.00" text-anchor="end" class="tk">53.0</text>
<text x="414.0" y="114.00" text-anchor="end" class="tk">53.5</text>
<text x="414.0" y="88.00" text-anchor="end" class="tk">54.0</text>
<text x="414.0" y="62.00" text-anchor="end" class="tk">54.5</text>
<text x="414.0" y="36.00" text-anchor="end" class="tk">55.0</text>
<text x="414.0" y="10.00" text-anchor="end" class="tk">55.5</text>
<text x="550.0" y="246.8" text-anchor="middle" class="ti">Frequency(GHz)</text>
<polyline points="420.5,125.7 421.1,125.7 421.8,125.6 422.4,125.6 423.1,125.6 423.7,125.6 424.4,125.5 425.0,125.5 425.7,125.5 426.3,125.4 427.0,125.4 427.6,125.3 428.3,125.3 428.9,125.2 429.6,125.2 430.2,125.2 430.9,125.1 431.5,125.1 432.2,125.0 432.8,124.9 433.5,124.9 434.1,124.8 434.8,124.8 435.4,124.7 436.1,124.6 436.7,124.6 437.4,124.5 438.0,124.4 438.7,124.4 439.3,124.3 440.0,124.2 440.6,124.2 441.3,124.1 441.9,124.0 442.6,123.9 443.2,123.8 443.9,123.8 444.5,123.7 445.2,123.6 445.8,123.5 446.5,123.4 447.1,123.3 447.8,123.2 448.4,123.1 449.1,123.0 449.7,123.0 450.4,122.9 451.0,122.8 451.7,122.7 452.3,122.6 453.0,122.5 453.6,122.4 454.3,122.3 454.9,122.2 455.6,122.0 456.2,121.9 456.9,121.8 457.5,121.7 458.1,121.6 458.8,121.5 459.4,121.4 460.1,121.3 460.7,121.2 461.4,121.0 462.0,120.9 462.7,120.8 463.3,120.7 464.0,120.6 464.6,120.5 465.3,120.3 465.9,120.2 466.6,120.1 467.2,120.0 467.9,119.8 468.5,119.7 469.2,119.6 469.8,119.5 470.5,119.3 471.1,119.2 471.8,119.1 472.4,118.9 473.1,118.8 473.7,118.7 474.4,118.5 475.0,118.4 475.7,118.3 476.3,118.1 477.0,118.0 477.6,117.9 478.3,117.7 478.9,117.6 479.6,117.5 480.2,117.3 480.9,117.2 481.5,117.0 482.2,116.9 482.8,116.8 483.5,116.6 484.1,116.5 484.8,116.3 485.4,116.2 486.1,116.0 486.7,115.9 487.4,115.7 488.0,115.6 488.7,115.4 489.3,115.3 490.0,115.2 490.6,115.0 491.3,114.9 491.9,114.7 492.6,114.6 493.2,114.4 493.9,114.3 494.5,114.1 495.1,113.9 495.8,113.8 496.4,113.6 497.1,113.5 497.7,113.3 498.4,113.2 499.0,113.0 499.7,112.9 500.3,112.7 501.0,112.6 501.6,112.4 502.3,112.2 502.9,112.1 503.6,111.9 504.2,111.8 504.9,111.6 505.5,111.5 506.2,111.3 506.8,111.1 507.5,111.0 508.1,110.8 508.8,110.7 509.4,110.5 510.1,110.3 510.7,110.2 511.4,110.0 512.0,109.8 512.7,109.7 513.3,109.5 514.0,109.4 514.6,109.2 515.3,109.0 515.9,108.9 516.6,108.7 517.2,108.5 517.9,108.4 518.5,108.2 519.2,108.0 519.8,107.9 520.5,107.7 521.1,107.5 521.8,107.4 522.4,107.2 523.1,107.0 523.7,106.9 524.4,106.7 525.0,106.5 525.7,106.4 526.3,106.2 527.0,106.0 527.6,105.9 528.3,105.7 528.9,105.5 529.6,105.3 530.2,105.2 530.9,105.0 531.5,104.8 532.1,104.7 532.8,104.5 533.4,104.3 534.1,104.1 534.7,104.0 535.4,103.8 536.0,103.6 536.7,103.5 537.3,103.3 538.0,103.1 538.6,102.9 539.3,102.8 539.9,102.6 540.6,102.4 541.2,102.2 541.9,102.1 542.5,101.9 543.2,101.7 543.8,101.6 544.5,101.4 545.1,101.2 545.8,101.0 546.4,100.9 547.1,100.7 547.7,100.5 548.4,100.3 549.0,100.2 549.7,100.0 550.3,99.8 551.0,99.6 551.6,99.4 552.3,99.3 552.9,99.1 553.6,98.9 554.2,98.7 554.9,98.6 555.5,98.4 556.2,98.2 556.8,98.0 557.5,97.9 558.1,97.7 558.8,97.5 559.4,97.3 560.1,97.1 560.7,97.0 561.4,96.8 562.0,96.6 562.7,96.4 563.3,96.2 564.0,96.1 564.6,95.9 565.3,95.7 565.9,95.5 566.6,95.4 567.2,95.2 567.9,95.0 568.5,94.8 569.1,94.6 569.8,94.5 570.4,94.3 571.1,94.1 571.7,93.9 572.4,93.7 573.0,93.6 573.7,93.4 574.3,93.2 575.0,93.0 575.6,92.8 576.3,92.6 576.9,92.5 577.6,92.3 578.2,92.1 578.9,91.9 579.5,91.7 580.2,91.6 580.8,91.4 581.5,91.2 582.1,91.0 582.8,90.8 583.4,90.7 584.1,90.5 584.7,90.3 585.4,90.1 586.0,89.9 586.7,89.7 587.3,89.6 588.0,89.4 588.6,89.2 589.3,89.0 589.9,88.8 590.6,88.6 591.2,88.5 591.9,88.3 592.5,88.1 593.2,87.9 593.8,87.7 594.5,87.5 595.1,87.4 595.8,87.2 596.4,87.0 597.1,86.8 597.7,86.6 598.4,86.4 599.0,86.3 599.7,86.1 600.3,85.9 601.0,85.7 601.6,85.5 602.3,85.3 602.9,85.2 603.6,85.0 604.2,84.8 604.9,84.6 605.5,84.4 606.1,84.2 606.8,84.0 607.4,83.9 608.1,83.7 608.7,83.5 609.4,83.3 610.0,83.1 610.7,82.9 611.3,82.7 612.0,82.6 612.6,82.4 613.3,82.2 613.9,82.0 614.6,81.8 615.2,81.6 615.9,81.4 616.5,81.3 617.2,81.1 617.8,80.9 618.5,80.7 619.1,80.5 619.8,80.3 620.4,80.1 621.1,80.0 621.7,79.8 622.4,79.6 623.0,79.4 623.7,79.2 624.3,79.0 625.0,78.8 625.6,78.7 626.3,78.5 626.9,78.3 627.6,78.1 628.2,77.9 628.9,77.7 629.5,77.5 630.2,77.4 630.8,77.2 631.5,77.0 632.1,76.8 632.8,76.6 633.4,76.4 634.1,76.2 634.7,76.0 635.4,75.9 636.0,75.7 636.7,75.5 637.3,75.3 638.0,75.1 638.6,74.9 639.3,74.7 639.9,74.5 640.6,74.4 641.2,74.2 641.9,74.0 642.5,73.8 643.1,73.6 643.8,73.4 644.4,73.2 645.1,73.0 645.7,72.9 646.4,72.7 647.0,72.5 647.7,72.3 648.3,72.1 649.0,71.9 649.6,71.7 650.3,71.5 650.9,71.4 651.6,71.2 652.2,71.0 652.9,70.8 653.5,70.6 654.2,70.4 654.8,70.2 655.5,70.0 656.1,69.8 656.8,69.7 657.4,69.5 658.1,69.3 658.7,69.1 659.4,68.9 660.0,68.7 660.7,68.5 661.3,68.3 662.0,68.2 662.6,68.0 663.3,67.8 663.9,67.6 664.6,67.4 665.2,67.2 665.9,67.0 666.5,66.8 667.2,66.6 667.8,66.5 668.5,66.3 669.1,66.1 669.8,65.9 670.4,65.7 671.1,65.5 671.7,65.3 672.4,65.1 673.0,64.9 673.7,64.8 674.3,64.6 675.0,64.4 675.6,64.2 676.3,64.0 676.9,63.8 677.6,63.6 678.2,63.4 678.9,63.2 679.5,63.0" fill="none" stroke="#00ee00" stroke-width="1.7" stroke-dasharray="4.5,2,1.5,2" stroke-linejoin="round"/>
<polyline points="420.5,173.1 421.1,173.1 421.8,173.0 422.4,173.0 423.1,173.0 423.7,172.9 424.4,172.9 425.0,172.8 425.7,172.8 426.3,172.7 427.0,172.7 427.6,172.6 428.3,172.6 428.9,172.5 429.6,172.5 430.2,172.4 430.9,172.4 431.5,172.3 432.2,172.2 432.8,172.2 433.5,172.1 434.1,172.1 434.8,172.0 435.4,171.9 436.1,171.8 436.7,171.8 437.4,171.7 438.0,171.6 438.7,171.5 439.3,171.5 440.0,171.4 440.6,171.3 441.3,171.2 441.9,171.1 442.6,171.1 443.2,171.0 443.9,170.9 444.5,170.8 445.2,170.7 445.8,170.6 446.5,170.5 447.1,170.4 447.8,170.3 448.4,170.2 449.1,170.1 449.7,170.0 450.4,169.9 451.0,169.8 451.7,169.7 452.3,169.6 453.0,169.5 453.6,169.4 454.3,169.2 454.9,169.1 455.6,169.0 456.2,168.9 456.9,168.8 457.5,168.7 458.1,168.5 458.8,168.4 459.4,168.3 460.1,168.2 460.7,168.0 461.4,167.9 462.0,167.8 462.7,167.6 463.3,167.5 464.0,167.4 464.6,167.2 465.3,167.1 465.9,167.0 466.6,166.8 467.2,166.7 467.9,166.5 468.5,166.4 469.2,166.3 469.8,166.1 470.5,166.0 471.1,165.8 471.8,165.7 472.4,165.5 473.1,165.4 473.7,165.2 474.4,165.1 475.0,164.9 475.7,164.7 476.3,164.6 477.0,164.4 477.6,164.3 478.3,164.1 478.9,163.9 479.6,163.8 480.2,163.6 480.9,163.4 481.5,163.3 482.2,163.1 482.8,162.9 483.5,162.7 484.1,162.6 484.8,162.4 485.4,162.2 486.1,162.0 486.7,161.9 487.4,161.7 488.0,161.5 488.7,161.3 489.3,161.1 490.0,160.9 490.6,160.8 491.3,160.6 491.9,160.4 492.6,160.2 493.2,160.0 493.9,159.8 494.5,159.6 495.1,159.4 495.8,159.2 496.4,159.0 497.1,158.8 497.7,158.6 498.4,158.4 499.0,158.2 499.7,158.0 500.3,157.8 501.0,157.6 501.6,157.4 502.3,157.2 502.9,157.0 503.6,156.8 504.2,156.6 504.9,156.4 505.5,156.2 506.2,156.0 506.8,155.8 507.5,155.5 508.1,155.3 508.8,155.1 509.4,154.9 510.1,154.7 510.7,154.5 511.4,154.2 512.0,154.0 512.7,153.8 513.3,153.6 514.0,153.4 514.6,153.1 515.3,152.9 515.9,152.7 516.6,152.4 517.2,152.2 517.9,152.0 518.5,151.8 519.2,151.5 519.8,151.3 520.5,151.1 521.1,150.8 521.8,150.6 522.4,150.4 523.1,150.1 523.7,149.9 524.4,149.6 525.0,149.4 525.7,149.2 526.3,148.9 527.0,148.7 527.6,148.4 528.3,148.2 528.9,148.0 529.6,147.7 530.2,147.5 530.9,147.2 531.5,147.0 532.1,146.7 532.8,146.5 533.4,146.2 534.1,146.0 534.7,145.7 535.4,145.5 536.0,145.2 536.7,145.0 537.3,144.7 538.0,144.5 538.6,144.2 539.3,143.9 539.9,143.7 540.6,143.4 541.2,143.2 541.9,142.9 542.5,142.6 543.2,142.4 543.8,142.1 544.5,141.9 545.1,141.6 545.8,141.3 546.4,141.1 547.1,140.8 547.7,140.5 548.4,140.3 549.0,140.0 549.7,139.7 550.3,139.5 551.0,139.2 551.6,138.9 552.3,138.6 552.9,138.4 553.6,138.1 554.2,137.8 554.9,137.5 555.5,137.3 556.2,137.0 556.8,136.7 557.5,136.4 558.1,136.2 558.8,135.9 559.4,135.6 560.1,135.3 560.7,135.1 561.4,134.8 562.0,134.5 562.7,134.2 563.3,133.9 564.0,133.6 564.6,133.4 565.3,133.1 565.9,132.8 566.6,132.5 567.2,132.2 567.9,131.9 568.5,131.6 569.1,131.4 569.8,131.1 570.4,130.8 571.1,130.5 571.7,130.2 572.4,129.9 573.0,129.6 573.7,129.3 574.3,129.0 575.0,128.7 575.6,128.4 576.3,128.2 576.9,127.9 577.6,127.6 578.2,127.3 578.9,127.0 579.5,126.7 580.2,126.4 580.8,126.1 581.5,125.8 582.1,125.5 582.8,125.2 583.4,124.9 584.1,124.6 584.7,124.3 585.4,124.0 586.0,123.7 586.7,123.4 587.3,123.1 588.0,122.8 588.6,122.5 589.3,122.2 589.9,121.9 590.6,121.5 591.2,121.2 591.9,120.9 592.5,120.6 593.2,120.3 593.8,120.0 594.5,119.7 595.1,119.4 595.8,119.1 596.4,118.8 597.1,118.5 597.7,118.2 598.4,117.8 599.0,117.5 599.7,117.2 600.3,116.9 601.0,116.6 601.6,116.3 602.3,116.0 602.9,115.7 603.6,115.3 604.2,115.0 604.9,114.7 605.5,114.4 606.1,114.1 606.8,113.8 607.4,113.5 608.1,113.1 608.7,112.8 609.4,112.5 610.0,112.2 610.7,111.9 611.3,111.5 612.0,111.2 612.6,110.9 613.3,110.6 613.9,110.3 614.6,109.9 615.2,109.6 615.9,109.3 616.5,109.0 617.2,108.7 617.8,108.3 618.5,108.0 619.1,107.7 619.8,107.4 620.4,107.0 621.1,106.7 621.7,106.4 622.4,106.1 623.0,105.7 623.7,105.4 624.3,105.1 625.0,104.8 625.6,104.4 626.3,104.1 626.9,103.8 627.6,103.4 628.2,103.1 628.9,102.8 629.5,102.5 630.2,102.1 630.8,101.8 631.5,101.5 632.1,101.1 632.8,100.8 633.4,100.5 634.1,100.1 634.7,99.8 635.4,99.5 636.0,99.1 636.7,98.8 637.3,98.5 638.0,98.1 638.6,97.8 639.3,97.5 639.9,97.1 640.6,96.8 641.2,96.5 641.9,96.1 642.5,95.8 643.1,95.5 643.8,95.1 644.4,94.8 645.1,94.4 645.7,94.1 646.4,93.8 647.0,93.4 647.7,93.1 648.3,92.8 649.0,92.4 649.6,92.1 650.3,91.7 650.9,91.4 651.6,91.1 652.2,90.7 652.9,90.4 653.5,90.0 654.2,89.7 654.8,89.4 655.5,89.0 656.1,88.7 656.8,88.3 657.4,88.0 658.1,87.6 658.7,87.3 659.4,87.0 660.0,86.6 660.7,86.3 661.3,85.9 662.0,85.6 662.6,85.2 663.3,84.9 663.9,84.5 664.6,84.2 665.2,83.9 665.9,83.5 666.5,83.2 667.2,82.8 667.8,82.5 668.5,82.1 669.1,81.8 669.8,81.4 670.4,81.1 671.1,80.7 671.7,80.4 672.4,80.0 673.0,79.7 673.7,79.3 674.3,79.0 675.0,78.6 675.6,78.3 676.3,77.9 676.9,77.6 677.6,77.2 678.2,76.9 678.9,76.5 679.5,76.2" fill="none" stroke="#0000ff" stroke-width="1.7" stroke-linejoin="round"/>
<polyline points="420.5,151.2 421.1,151.1 421.8,151.1 422.4,151.0 423.1,151.0 423.7,150.9 424.4,150.8 425.0,150.8 425.7,150.7 426.3,150.6 427.0,150.5 427.6,150.5 428.3,150.4 428.9,150.3 429.6,150.2 430.2,150.2 430.9,150.1 431.5,150.0 432.2,149.9 432.8,149.8 433.5,149.7 434.1,149.7 434.8,149.6 435.4,149.5 436.1,149.4 436.7,149.3 437.4,149.2 438.0,149.1 438.7,149.0 439.3,148.9 440.0,148.8 440.6,148.7 441.3,148.6 441.9,148.5 442.6,148.3 443.2,148.2 443.9,148.1 444.5,148.0 445.2,147.9 445.8,147.8 446.5,147.7 447.1,147.5 447.8,147.4 448.4,147.3 449.1,147.2 449.7,147.0 450.4,146.9 451.0,146.8 451.7,146.6 452.3,146.5 453.0,146.4 453.6,146.2 454.3,146.1 454.9,146.0 455.6,145.8 456.2,145.7 456.9,145.5 457.5,145.4 458.1,145.2 458.8,145.1 459.4,144.9 460.1,144.8 460.7,144.6 461.4,144.5 462.0,144.3 462.7,144.2 463.3,144.0 464.0,143.9 464.6,143.7 465.3,143.5 465.9,143.4 466.6,143.2 467.2,143.0 467.9,142.9 468.5,142.7 469.2,142.5 469.8,142.3 470.5,142.2 471.1,142.0 471.8,141.8 472.4,141.6 473.1,141.4 473.7,141.3 474.4,141.1 475.0,140.9 475.7,140.7 476.3,140.5 477.0,140.3 477.6,140.1 478.3,139.9 478.9,139.7 479.6,139.5 480.2,139.4 480.9,139.2 481.5,139.0 482.2,138.7 482.8,138.5 483.5,138.3 484.1,138.1 484.8,137.9 485.4,137.7 486.1,137.5 486.7,137.3 487.4,137.1 488.0,136.9 488.7,136.7 489.3,136.4 490.0,136.2 490.6,136.0 491.3,135.8 491.9,135.6 492.6,135.3 493.2,135.1 493.9,134.9 494.5,134.6 495.1,134.4 495.8,134.2 496.4,134.0 497.1,133.7 497.7,133.5 498.4,133.2 499.0,133.0 499.7,132.8 500.3,132.5 501.0,132.3 501.6,132.0 502.3,131.8 502.9,131.5 503.6,131.3 504.2,131.1 504.9,130.8 505.5,130.5 506.2,130.3 506.8,130.0 507.5,129.8 508.1,129.5 508.8,129.3 509.4,129.0 510.1,128.7 510.7,128.5 511.4,128.2 512.0,128.0 512.7,127.7 513.3,127.4 514.0,127.2 514.6,126.9 515.3,126.6 515.9,126.3 516.6,126.1 517.2,125.8 517.9,125.5 518.5,125.2 519.2,125.0 519.8,124.7 520.5,124.4 521.1,124.1 521.8,123.8 522.4,123.5 523.1,123.3 523.7,123.0 524.4,122.7 525.0,122.4 525.7,122.1 526.3,121.8 527.0,121.5 527.6,121.2 528.3,120.9 528.9,120.6 529.6,120.3 530.2,120.0 530.9,119.7 531.5,119.4 532.1,119.1 532.8,118.8 533.4,118.5 534.1,118.2 534.7,117.9 535.4,117.6 536.0,117.3 536.7,117.0 537.3,116.6 538.0,116.3 538.6,116.0 539.3,115.7 539.9,115.4 540.6,115.1 541.2,114.7 541.9,114.4 542.5,114.1 543.2,113.8 543.8,113.5 544.5,113.1 545.1,112.8 545.8,112.5 546.4,112.1 547.1,111.8 547.7,111.5 548.4,111.1 549.0,110.8 549.7,110.5 550.3,110.1 551.0,109.8 551.6,109.5 552.3,109.1 552.9,108.8 553.6,108.4 554.2,108.1 554.9,107.8 555.5,107.4 556.2,107.1 556.8,106.7 557.5,106.4 558.1,106.0 558.8,105.7 559.4,105.3 560.1,105.0 560.7,104.6 561.4,104.3 562.0,103.9 562.7,103.5 563.3,103.2 564.0,102.8 564.6,102.5 565.3,102.1 565.9,101.8 566.6,101.4 567.2,101.0 567.9,100.7 568.5,100.3 569.1,99.9 569.8,99.6 570.4,99.2 571.1,98.8 571.7,98.4 572.4,98.1 573.0,97.7 573.7,97.3 574.3,97.0 575.0,96.6 575.6,96.2 576.3,95.8 576.9,95.4 577.6,95.1 578.2,94.7 578.9,94.3 579.5,93.9 580.2,93.5 580.8,93.2 581.5,92.8 582.1,92.4 582.8,92.0 583.4,91.6 584.1,91.2 584.7,90.8 585.4,90.4 586.0,90.0 586.7,89.6 587.3,89.3 588.0,88.9 588.6,88.5 589.3,88.1 589.9,87.7 590.6,87.3 591.2,86.9 591.9,86.5 592.5,86.1 593.2,85.7 593.8,85.3 594.5,84.9 595.1,84.4 595.8,84.0 596.4,83.6 597.1,83.2 597.7,82.8 598.4,82.4 599.0,82.0 599.7,81.6 600.3,81.2 601.0,80.8 601.6,80.3 602.3,79.9 602.9,79.5 603.6,79.1 604.2,78.7 604.9,78.3 605.5,77.8 606.1,77.4 606.8,77.0 607.4,76.6 608.1,76.2 608.7,75.7 609.4,75.3 610.0,74.9 610.7,74.5 611.3,74.0 612.0,73.6 612.6,73.2 613.3,72.7 613.9,72.3 614.6,71.9 615.2,71.5 615.9,71.0 616.5,70.6 617.2,70.2 617.8,69.7 618.5,69.3 619.1,68.8 619.8,68.4 620.4,68.0 621.1,67.5 621.7,67.1 622.4,66.7 623.0,66.2 623.7,65.8 624.3,65.3 625.0,64.9 625.6,64.4 626.3,64.0 626.9,63.5 627.6,63.1 628.2,62.7 628.9,62.2 629.5,61.8 630.2,61.3 630.8,60.9 631.5,60.4 632.1,60.0 632.8,59.5 633.4,59.0 634.1,58.6 634.7,58.1 635.4,57.7 636.0,57.2 636.7,56.8 637.3,56.3 638.0,55.9 638.6,55.4 639.3,54.9 639.9,54.5 640.6,54.0 641.2,53.6 641.9,53.1 642.5,52.6 643.1,52.2 643.8,51.7 644.4,51.2 645.1,50.8 645.7,50.3 646.4,49.8 647.0,49.4 647.7,48.9 648.3,48.4 649.0,48.0 649.6,47.5 650.3,47.0 650.9,46.5 651.6,46.1 652.2,45.6 652.9,45.1 653.5,44.6 654.2,44.2 654.8,43.7 655.5,43.2 656.1,42.7 656.8,42.3 657.4,41.8 658.1,41.3 658.7,40.8 659.4,40.3 660.0,39.9 660.7,39.4 661.3,38.9 662.0,38.4 662.6,37.9 663.3,37.4 663.9,37.0 664.6,36.5 665.2,36.0 665.9,35.5 666.5,35.0 667.2,34.5 667.8,34.0 668.5,33.5 669.1,33.0 669.8,32.6 670.4,32.1 671.1,31.6 671.7,31.1 672.4,30.6 673.0,30.1 673.7,29.6 674.3,29.1 675.0,28.6 675.6,28.1 676.3,27.6 676.9,27.1 677.6,26.6 678.2,26.1 678.9,25.6 679.5,25.1" fill="none" stroke="#000000" stroke-width="1.7" stroke-linejoin="round"/>
<polyline points="420.5,195.9 421.1,195.9 421.8,195.8 422.4,195.8 423.1,195.8 423.7,195.8 424.4,195.7 425.0,195.7 425.7,195.7 426.3,195.6 427.0,195.6 427.6,195.5 428.3,195.5 428.9,195.5 429.6,195.4 430.2,195.4 430.9,195.3 431.5,195.3 432.2,195.2 432.8,195.1 433.5,195.1 434.1,195.0 434.8,195.0 435.4,194.9 436.1,194.8 436.7,194.8 437.4,194.7 438.0,194.6 438.7,194.6 439.3,194.5 440.0,194.4 440.6,194.3 441.3,194.2 441.9,194.2 442.6,194.1 443.2,194.0 443.9,193.9 444.5,193.8 445.2,193.7 445.8,193.6 446.5,193.5 447.1,193.4 447.8,193.3 448.4,193.2 449.1,193.1 449.7,193.0 450.4,192.9 451.0,192.8 451.7,192.7 452.3,192.6 453.0,192.5 453.6,192.3 454.3,192.2 454.9,192.1 455.6,192.0 456.2,191.9 456.9,191.7 457.5,191.6 458.1,191.5 458.8,191.4 459.4,191.2 460.1,191.1 460.7,191.0 461.4,190.8 462.0,190.7 462.7,190.5 463.3,190.4 464.0,190.3 464.6,190.1 465.3,190.0 465.9,189.8 466.6,189.7 467.2,189.5 467.9,189.4 468.5,189.2 469.2,189.0 469.8,188.9 470.5,188.7 471.1,188.6 471.8,188.4 472.4,188.2 473.1,188.1 473.7,187.9 474.4,187.7 475.0,187.6 475.7,187.4 476.3,187.2 477.0,187.0 477.6,186.9 478.3,186.7 478.9,186.5 479.6,186.3 480.2,186.1 480.9,185.9 481.5,185.8 482.2,185.6 482.8,185.4 483.5,185.2 484.1,185.0 484.8,184.8 485.4,184.6 486.1,184.4 486.7,184.2 487.4,184.0 488.0,183.8 488.7,183.6 489.3,183.4 490.0,183.2 490.6,183.0 491.3,182.8 491.9,182.6 492.6,182.4 493.2,182.1 493.9,181.9 494.5,181.7 495.1,181.5 495.8,181.3 496.4,181.1 497.1,180.8 497.7,180.6 498.4,180.4 499.0,180.2 499.7,179.9 500.3,179.7 501.0,179.5 501.6,179.2 502.3,179.0 502.9,178.8 503.6,178.5 504.2,178.3 504.9,178.1 505.5,177.8 506.2,177.6 506.8,177.3 507.5,177.1 508.1,176.9 508.8,176.6 509.4,176.4 510.1,176.1 510.7,175.9 511.4,175.6 512.0,175.4 512.7,175.1 513.3,174.9 514.0,174.6 514.6,174.4 515.3,174.1 515.9,173.8 516.6,173.6 517.2,173.3 517.9,173.1 518.5,172.8 519.2,172.5 519.8,172.3 520.5,172.0 521.1,171.7 521.8,171.5 522.4,171.2 523.1,170.9 523.7,170.6 524.4,170.4 525.0,170.1 525.7,169.8 526.3,169.5 527.0,169.3 527.6,169.0 528.3,168.7 528.9,168.4 529.6,168.1 530.2,167.9 530.9,167.6 531.5,167.3 532.1,167.0 532.8,166.7 533.4,166.4 534.1,166.1 534.7,165.9 535.4,165.6 536.0,165.3 536.7,165.0 537.3,164.7 538.0,164.4 538.6,164.1 539.3,163.8 539.9,163.5 540.6,163.2 541.2,162.9 541.9,162.6 542.5,162.3 543.2,162.0 543.8,161.7 544.5,161.4 545.1,161.1 545.8,160.8 546.4,160.5 547.1,160.2 547.7,159.9 548.4,159.6 549.0,159.2 549.7,158.9 550.3,158.6 551.0,158.3 551.6,158.0 552.3,157.7 552.9,157.4 553.6,157.0 554.2,156.7 554.9,156.4 555.5,156.1 556.2,155.8 556.8,155.4 557.5,155.1 558.1,154.8 558.8,154.5 559.4,154.2 560.1,153.8 560.7,153.5 561.4,153.2 562.0,152.9 562.7,152.5 563.3,152.2 564.0,151.9 564.6,151.5 565.3,151.2 565.9,150.9 566.6,150.5 567.2,150.2 567.9,149.9 568.5,149.5 569.1,149.2 569.8,148.9 570.4,148.5 571.1,148.2 571.7,147.9 572.4,147.5 573.0,147.2 573.7,146.8 574.3,146.5 575.0,146.2 575.6,145.8 576.3,145.5 576.9,145.1 577.6,144.8 578.2,144.4 578.9,144.1 579.5,143.7 580.2,143.4 580.8,143.1 581.5,142.7 582.1,142.4 582.8,142.0 583.4,141.7 584.1,141.3 584.7,141.0 585.4,140.6 586.0,140.2 586.7,139.9 587.3,139.5 588.0,139.2 588.6,138.8 589.3,138.5 589.9,138.1 590.6,137.8 591.2,137.4 591.9,137.0 592.5,136.7 593.2,136.3 593.8,136.0 594.5,135.6 595.1,135.2 595.8,134.9 596.4,134.5 597.1,134.2 597.7,133.8 598.4,133.4 599.0,133.1 599.7,132.7 600.3,132.3 601.0,132.0 601.6,131.6 602.3,131.2 602.9,130.9 603.6,130.5 604.2,130.1 604.9,129.8 605.5,129.4 606.1,129.0 606.8,128.6 607.4,128.3 608.1,127.9 608.7,127.5 609.4,127.2 610.0,126.8 610.7,126.4 611.3,126.0 612.0,125.7 612.6,125.3 613.3,124.9 613.9,124.5 614.6,124.2 615.2,123.8 615.9,123.4 616.5,123.0 617.2,122.6 617.8,122.3 618.5,121.9 619.1,121.5 619.8,121.1 620.4,120.7 621.1,120.4 621.7,120.0 622.4,119.6 623.0,119.2 623.7,118.8 624.3,118.4 625.0,118.1 625.6,117.7 626.3,117.3 626.9,116.9 627.6,116.5 628.2,116.1 628.9,115.8 629.5,115.4 630.2,115.0 630.8,114.6 631.5,114.2 632.1,113.8 632.8,113.4 633.4,113.0 634.1,112.6 634.7,112.3 635.4,111.9 636.0,111.5 636.7,111.1 637.3,110.7 638.0,110.3 638.6,109.9 639.3,109.5 639.9,109.1 640.6,108.7 641.2,108.3 641.9,107.9 642.5,107.5 643.1,107.1 643.8,106.7 644.4,106.3 645.1,106.0 645.7,105.6 646.4,105.2 647.0,104.8 647.7,104.4 648.3,104.0 649.0,103.6 649.6,103.2 650.3,102.8 650.9,102.4 651.6,102.0 652.2,101.6 652.9,101.2 653.5,100.8 654.2,100.4 654.8,100.0 655.5,99.6 656.1,99.2 656.8,98.8 657.4,98.4 658.1,97.9 658.7,97.5 659.4,97.1 660.0,96.7 660.7,96.3 661.3,95.9 662.0,95.5 662.6,95.1 663.3,94.7 663.9,94.3 664.6,93.9 665.2,93.5 665.9,93.1 666.5,92.7 667.2,92.3 667.8,91.9 668.5,91.4 669.1,91.0 669.8,90.6 670.4,90.2 671.1,89.8 671.7,89.4 672.4,89.0 673.0,88.6 673.7,88.2 674.3,87.8 675.0,87.3 675.6,86.9 676.3,86.5 676.9,86.1 677.6,85.7 678.2,85.3 678.9,84.9 679.5,84.5" fill="none" stroke="#ff0000" stroke-width="1.6" stroke-dasharray="3.6,2.1" stroke-linejoin="round"/>
<path d="M61.00,284.80H321.65" stroke="#2a2a2a" stroke-width="1.3"/>
<path d="M61.00,493.50H321.65" stroke="#2a2a2a" stroke-width="1"/>
<path d="M61.50,284.15V494.00" stroke="#2a2a2a" stroke-width="1"/>
<path d="M321.00,284.15V494.00" stroke="#2a2a2a" stroke-width="1.3"/>
<path d="M61.50,493.5V497.5M70.50,493.5V495.5M78.50,493.5V497.5M87.50,493.5V495.5M96.50,493.5V497.5M104.50,493.5V495.5M113.50,493.5V497.5M122.50,493.5V495.5M130.50,493.5V497.5M139.50,493.5V495.5M148.50,493.5V497.5M156.50,493.5V495.5M165.50,493.5V497.5M174.50,493.5V495.5M182.50,493.5V497.5M191.50,493.5V495.5M200.50,493.5V497.5M208.50,493.5V495.5M217.50,493.5V497.5M226.50,493.5V495.5M234.50,493.5V497.5M243.50,493.5V495.5M252.50,493.5V497.5M260.50,493.5V495.5M269.50,493.5V497.5M278.50,493.5V495.5M286.50,493.5V497.5M295.50,493.5V495.5M304.50,493.5V497.5M312.50,493.5V495.5M321.50,493.5V497.5M61.5,493.50h-4M61.5,472.50h-2M61.5,451.50h-4M61.5,430.50h-2M61.5,409.50h-4M61.5,389.50h-2M61.5,368.50h-4M61.5,347.50h-2M61.5,326.50h-4M61.5,305.50h-2M61.5,284.50h-4" stroke="#2a2a2a" stroke-width="1" fill="none"/>
<text x="61.50" y="508.3" text-anchor="middle" class="tk">0</text>
<text x="78.83" y="508.3" text-anchor="middle" class="tk">1</text>
<text x="96.17" y="508.3" text-anchor="middle" class="tk">2</text>
<text x="113.50" y="508.3" text-anchor="middle" class="tk">3</text>
<text x="130.83" y="508.3" text-anchor="middle" class="tk">4</text>
<text x="148.17" y="508.3" text-anchor="middle" class="tk">5</text>
<text x="165.50" y="508.3" text-anchor="middle" class="tk">6</text>
<text x="182.83" y="508.3" text-anchor="middle" class="tk">7</text>
<text x="200.17" y="508.3" text-anchor="middle" class="tk">8</text>
<text x="217.50" y="508.3" text-anchor="middle" class="tk">9</text>
<text x="234.83" y="508.3" text-anchor="middle" class="tk">10</text>
<text x="252.17" y="508.3" text-anchor="middle" class="tk">11</text>
<text x="269.50" y="508.3" text-anchor="middle" class="tk">12</text>
<text x="286.83" y="508.3" text-anchor="middle" class="tk">13</text>
<text x="304.17" y="508.3" text-anchor="middle" class="tk">14</text>
<text x="321.50" y="508.3" text-anchor="middle" class="tk">15</text>
<text x="55.0" y="497.00" text-anchor="end" class="tk">-50</text>
<text x="55.0" y="455.20" text-anchor="end" class="tk">-40</text>
<text x="55.0" y="413.40" text-anchor="end" class="tk">-30</text>
<text x="55.0" y="371.60" text-anchor="end" class="tk">-20</text>
<text x="55.0" y="329.80" text-anchor="end" class="tk">-10</text>
<text x="55.0" y="288.00" text-anchor="end" class="tk">0</text>
<text x="191.5" y="525.8" text-anchor="middle" class="ti">Frequency(GHz)</text>
<clipPath id="cpc"><rect x="61.0" y="284.0" width="261.0" height="210.0"/></clipPath>
<g clip-path="url(#cpc)">
<polyline points="62.0,451.7 62.1,451.7 62.3,451.7 62.4,451.7 62.5,447.3 62.7,443.1 62.8,439.4 62.9,436.1 63.1,433.0 63.2,430.2 63.3,427.7 63.4,425.3 63.6,423.1 63.7,421.1 63.8,419.2 64.0,417.4 64.1,415.7 64.2,414.2 64.4,412.7 64.5,411.3 64.6,410.0 64.7,408.8 64.9,407.6 65.0,406.5 65.1,405.5 65.3,404.5 65.4,403.5 65.5,402.7 65.7,401.8 65.8,401.1 65.9,400.3 66.0,399.6 66.2,399.0 66.3,398.4 66.4,397.8 66.6,397.3 66.7,396.8 66.8,396.3 67.0,395.9 67.1,395.5 67.2,395.1 67.3,394.8 67.5,394.5 67.6,394.2 67.7,394.0 67.9,393.8 68.0,393.6 68.1,393.5 68.3,393.3 68.4,393.3 68.5,393.2 68.6,393.2 68.8,393.2 68.9,393.3 69.0,393.3 69.2,393.4 69.3,393.5 69.4,393.7 69.5,393.9 69.7,394.1 69.8,394.4 69.9,394.6 70.1,394.9 70.2,395.3 70.3,395.7 70.5,396.1 70.6,396.5 70.7,397.0 70.8,397.5 71.0,398.0 71.1,398.6 71.2,399.3 71.4,399.9 71.5,400.6 71.6,401.4 71.8,402.2 71.9,403.0 72.0,403.9 72.1,404.9 72.3,405.9 72.4,406.9 72.5,408.1 72.7,409.2 72.8,410.5 72.9,411.8 73.1,413.2 73.2,414.7 73.3,416.3 73.4,418.0 73.6,419.8 73.7,421.8 73.8,423.8 74.0,426.1 74.1,428.5 74.2,431.1 74.4,433.9 74.5,437.0 74.6,440.4 74.7,444.2 74.9,448.5 75.0,453.4 75.1,459.1 75.3,465.9 75.4,474.3 75.5,485.3 75.6,490.6 75.8,490.6 75.9,490.6 76.0,490.6 76.2,490.6 76.3,481.1 76.4,471.2 76.6,463.5 76.7,457.1 76.8,451.7 76.9,447.1 77.1,443.0 77.2,439.3 77.3,436.0 77.5,433.0 77.6,430.3 77.7,427.8 77.9,425.5 78.0,423.3 78.1,421.3 78.2,419.4 78.4,417.7 78.5,416.0 78.6,414.5 78.8,413.0 78.9,411.7 79.0,410.4 79.2,409.2 79.3,408.0 79.4,406.9 79.5,405.9 79.7,404.9 79.8,404.0 79.9,403.2 80.1,402.4 80.2,401.6 80.3,400.9 80.5,400.2 80.6,399.6 80.7,399.0 80.8,398.4 81.0,397.9 81.1,397.4 81.2,396.9 81.4,396.5 81.5,396.2 81.6,395.8 81.8,395.5 81.9,395.2 82.0,395.0 82.1,394.7 82.3,394.5 82.4,394.4 82.5,394.3 82.7,394.2 82.8,394.1 82.9,394.0 83.0,394.0 83.2,394.0 83.3,394.1 83.4,394.2 83.6,394.3 83.7,394.4 83.8,394.5 84.0,394.7 84.1,395.0 84.2,395.2 84.3,395.5 84.5,395.8 84.6,396.1 84.7,396.5 84.9,396.9 85.0,397.4 85.1,397.9 85.3,398.4 85.4,398.9 85.5,399.5 85.6,400.2 85.8,400.8 85.9,401.6 86.0,402.3 86.2,403.1 86.3,404.0 86.4,404.9 86.6,405.8 86.7,406.9 86.8,407.9 86.9,409.1 87.1,410.3 87.2,411.5 87.3,412.9 87.5,414.3 87.6,415.8 87.7,417.5 87.9,419.2 88.0,421.0 88.1,423.0 88.2,425.1 88.4,427.4 88.5,429.8 88.6,432.5 88.8,435.4 88.9,438.6 89.0,442.1 89.1,446.1 89.3,450.5 89.4,455.6 89.5,461.6 89.7,468.8 89.8,477.8 89.9,489.9 90.1,501.9 90.2,501.9 90.3,501.9 90.4,501.9 90.6,490.8 90.7,478.4 90.8,469.3 91.0,462.0 91.1,456.0 91.2,450.8 91.4,446.3 91.5,442.4 91.6,438.8 91.7,435.6 91.9,432.7 92.0,430.1 92.1,427.6 92.3,425.3 92.4,423.2 92.5,421.2 92.7,419.4 92.8,417.7 92.9,416.1 93.0,414.5 93.2,413.1 93.3,411.8 93.4,410.5 93.6,409.3 93.7,408.2 93.8,407.1 94.0,406.1 94.1,405.1 94.2,404.2 94.3,403.4 94.5,402.6 94.6,401.8 94.7,401.1 94.9,400.5 95.0,399.8 95.1,399.2 95.3,398.7 95.4,398.2 95.5,397.7 95.6,397.3 95.8,396.9 95.9,396.5 96.0,396.1 96.2,395.8 96.3,395.6 96.4,395.3 96.5,395.1 96.7,394.9 96.8,394.8 96.9,394.6 97.1,394.5 97.2,394.5 97.3,394.4 97.5,394.4 97.6,394.5 97.7,394.5 97.8,394.6 98.0,394.7 98.1,394.8 98.2,395.0 98.4,395.2 98.5,395.4 98.6,395.7 98.8,396.0 98.9,396.3 99.0,396.7 99.1,397.0 99.3,397.5 99.4,397.9 99.5,398.4 99.7,398.9 99.8,399.5 99.9,400.1 100.1,400.8 100.2,401.4 100.3,402.2 100.4,403.0 100.6,403.8 100.7,404.6 100.8,405.6 101.0,406.5 101.1,407.6 101.2,408.7 101.4,409.8 101.5,411.1 101.6,412.4 101.7,413.7 101.9,415.2 102.0,416.8 102.1,418.4 102.3,420.2 102.4,422.1 102.5,424.1 102.6,426.3 102.8,428.6 102.9,431.1 103.0,433.9 103.2,436.9 103.3,440.2 103.4,443.9 103.6,448.1 103.7,452.8 103.8,458.2 103.9,464.7 104.1,472.5 104.2,482.6 104.3,496.7 104.5,501.9 104.6,501.9 104.7,501.9 104.9,500.5 105.0,485.1 105.1,474.4 105.2,466.1 105.4,459.4 105.5,453.8 105.6,449.0 105.8,444.7 105.9,440.9 106.0,437.5 106.2,434.5 106.3,431.7 106.4,429.1 106.5,426.7 106.7,424.5 106.8,422.4 106.9,420.5 107.1,418.7 107.2,417.1 107.3,415.5 107.5,414.0 107.6,412.6 107.7,411.3 107.8,410.0 108.0,408.9 108.1,407.8 108.2,406.7 108.4,405.7 108.5,404.8 108.6,403.9 108.7,403.1 108.9,402.3 109.0,401.6 109.1,400.9 109.3,400.2 109.4,399.6 109.5,399.0 109.7,398.5 109.8,398.0 109.9,397.5 110.0,397.1 110.2,396.7 110.3,396.4 110.4,396.0 110.6,395.7 110.7,395.5 110.8,395.2 111.0,395.0 111.1,394.9 111.2,394.7 111.3,394.6 111.5,394.5 111.6,394.5 111.7,394.4 111.9,394.4 112.0,394.5 112.1,394.5 112.3,394.6 112.4,394.8 112.5,394.9 112.6,395.1 112.8,395.3 112.9,395.6 113.0,395.9 113.2,396.2 113.3,396.5 113.4,396.9 113.6,397.3 113.7,397.7 113.8,398.2 113.9,398.7 114.1,399.3 114.2,399.9 114.3,400.5 114.5,401.2 114.6,401.9 114.7,402.7 114.9,403.5 115.0,404.3 115.1,405.2 115.2,406.2 115.4,407.2 115.5,408.3 115.6,409.4 115.8,410.6 115.9,411.9 116.0,413.2 116.1,414.6 116.3,416.2 116.4,417.8 116.5,419.5 116.7,421.3 116.8,423.3 116.9,425.4 117.1,427.7 117.2,430.1 117.3,432.8 117.4,435.7 117.6,438.9 117.7,442.4 117.8,446.3 118.0,450.8 118.1,455.9 118.2,461.8 118.4,469.0 118.5,478.0 118.6,490.0 118.7,501.9 118.9,501.9 119.0,501.9 119.1,501.9 119.3,491.3 119.4,478.9 119.5,469.7 119.7,462.4 119.8,456.4 119.9,451.2 120.0,446.7 120.2,442.8 120.3,439.2 120.4,436.0 120.6,433.1 120.7,430.4 120.8,428.0 121.0,425.7 121.1,423.6 121.2,421.6 121.3,419.8 121.5,418.0 121.6,416.4 121.7,414.9 121.9,413.5 122.0,412.1 122.1,410.9 122.2,409.7 122.4,408.5 122.5,407.5 122.6,406.5 122.8,405.5 122.9,404.6 123.0,403.8 123.2,403.0 123.3,402.2 123.4,401.5 123.5,400.8 123.7,400.2 123.8,399.6 123.9,399.1 124.1,398.6 124.2,398.1 124.3,397.6 124.5,397.2 124.6,396.9 124.7,396.5 124.8,396.2 125.0,396.0 125.1,395.7 125.2,395.5 125.4,395.3 125.5,395.2 125.6,395.0 125.8,395.0 125.9,394.9 126.0,394.8 126.1,394.8 126.3,394.9 126.4,394.9 126.5,395.0 126.7,395.1 126.8,395.2 126.9,395.4 127.1,395.6 127.2,395.8 127.3,396.1 127.4,396.3 127.6,396.7 127.7,397.0 127.8,397.4 128.0,397.8 128.1,398.3 128.2,398.8 128.4,399.3 128.5,399.9 128.6,400.5 128.7,401.1 128.9,401.8 129.0,402.5 129.1,403.3 129.3,404.1 129.4,405.0 129.5,406.0 129.6,406.9 129.8,408.0 129.9,409.1 130.0,410.2 130.2,411.5 130.3,412.8 130.4,414.2 130.6,415.7 130.7,417.2 130.8,418.9 130.9,420.7 131.1,422.6 131.2,424.7 131.3,426.9 131.5,429.2 131.6,431.8 131.7,434.6 131.9,437.7 132.0,441.1 132.1,444.9 132.2,449.2 132.4,454.0 132.5,459.7 132.6,466.4 132.8,474.7 132.9,485.6 133.0,501.2 133.2,501.9 133.3,501.9 133.4,501.9 133.5,495.9 133.7,482.0 133.8,472.0 133.9,464.2 134.1,457.8 134.2,452.4 134.3,447.7 134.5,443.6 134.6,439.9 134.7,436.6 134.8,433.6 135.0,430.8 135.1,428.3 135.2,426.0 135.4,423.8 135.5,421.8 135.6,419.9 135.7,418.1 135.9,416.4 136.0,414.9 136.1,413.4 136.3,412.0 136.4,410.7 136.5,409.5 136.7,408.3 136.8,407.2 136.9,406.2 137.0,405.2 137.2,404.3 137.3,403.4 137.4,402.6 137.6,401.8 137.7,401.1 137.8,400.4 138.0,399.7 138.1,399.1 138.2,398.6 138.3,398.0 138.5,397.5 138.6,397.1 138.7,396.7 138.9,396.3 139.0,395.9 139.1,395.6 139.3,395.3 139.4,395.0 139.5,394.8 139.6,394.6 139.8,394.4 139.9,394.3 140.0,394.2 140.2,394.1 140.3,394.1 140.4,394.0 140.6,394.0 140.7,394.1 140.8,394.1 140.9,394.2 141.1,394.3 141.2,394.5 141.3,394.7 141.5,394.9 141.6,395.1 141.7,395.4 141.9,395.7 142.0,396.0 142.1,396.4 142.2,396.8 142.4,397.2 142.5,397.7 142.6,398.2 142.8,398.8 142.9,399.3 143.0,400.0 143.1,400.6 143.3,401.3 143.4,402.1 143.5,402.9 143.7,403.8 143.8,404.7 143.9,405.6 144.1,406.6 144.2,407.7 144.3,408.9 144.4,410.1 144.6,411.4 144.7,412.7 144.8,414.2 145.0,415.7 145.1,417.4 145.2,419.1 145.4,421.0 145.5,423.0 145.6,425.2 145.7,427.5 145.9,430.0 146.0,432.8 146.1,435.8 146.3,439.1 146.4,442.8 146.5,447.0 146.7,451.7 146.8,457.2 146.9,463.7 147.0,471.7 147.2,481.9 147.3,487.6 147.4,487.6 147.6,487.6 147.7,487.6 147.8,487.6 148.0,482.7 148.1,472.1 148.2,464.0 148.3,457.4 148.5,451.8 148.6,447.0 148.7,442.7 148.9,439.0 149.0,435.6 149.1,432.5 149.2,429.7 149.4,427.1 149.5,424.7 149.6,422.5 149.8,420.4 149.9,418.5 150.0,416.7 150.2,415.0 150.3,413.4 150.4,411.9 150.5,410.5 150.7,409.2 150.8,408.0 150.9,406.8 151.1,405.7 151.2,404.6 151.3,403.6 151.5,402.6 151.6,401.8 151.7,400.9 151.8,400.1 152.0,399.4 152.1,398.7 152.2,398.0 152.4,397.4 152.5,396.8 152.6,396.2 152.8,395.7 152.9,395.2 153.0,394.8 153.1,394.4 153.3,394.0 153.4,393.7 153.5,393.4 153.7,393.1 153.8,392.8 153.9,392.6 154.1,392.4 154.2,392.3 154.3,392.2 154.4,392.1 154.6,392.0 154.7,392.0 154.8,392.0 155.0,392.0 155.1,392.0 155.2,392.1 155.3,392.3 155.5,392.4 155.6,392.6 155.7,392.8 155.9,393.1 156.0,393.4 156.1,393.7 156.3,394.0 156.4,394.4 156.5,394.8 156.6,395.3 156.8,395.8 156.9,396.3 157.0,396.8 157.2,397.4 157.3,398.1 157.4,398.8 157.6,399.5 157.7,400.3 157.8,401.1 157.9,401.9 158.1,402.9 158.2,403.8 158.3,404.9 158.5,405.9 158.6,407.1 158.7,408.3 158.9,409.6 159.0,411.0 159.1,412.5 159.2,414.0 159.4,415.7 159.5,417.4 159.6,419.3 159.8,421.3 159.9,423.5 160.0,425.8 160.2,428.4 160.3,431.1 160.4,434.1 160.5,437.5 160.7,441.2 160.8,445.3 160.9,450.0 161.1,455.5 161.2,461.9 161.3,469.8 161.5,474.3 161.6,474.3 161.7,474.3 161.8,474.3 162.0,474.3 162.1,474.3 162.2,474.3 162.4,471.3 162.5,463.1 162.6,456.4 162.7,450.8 162.9,446.0 163.0,441.7 163.1,438.0 163.3,434.6 163.4,431.5 163.5,428.7 163.7,426.1 163.8,423.7 163.9,421.5 164.0,419.5 164.2,417.6 164.3,415.8 164.4,414.1 164.6,412.5 164.7,411.0 164.8,409.6 165.0,408.3 165.1,407.1 165.2,405.9 165.3,404.8 165.5,403.8 165.6,402.8 165.7,401.8 165.9,401.0 166.0,400.1 166.1,399.3 166.3,398.6 166.4,397.9 166.5,397.3 166.6,396.6 166.8,396.1 166.9,395.5 167.0,395.0 167.2,394.6 167.3,394.2 167.4,393.8 167.6,393.4 167.7,393.1 167.8,392.8 167.9,392.5 168.1,392.3 168.2,392.1 168.3,391.9 168.5,391.8 168.6,391.7 168.7,391.6 168.8,391.5 169.0,391.5 169.1,391.5 169.2,391.6 169.4,391.6 169.5,391.7 169.6,391.8 169.8,392.0 169.9,392.1 170.0,392.3 170.1,392.6 170.3,392.8 170.4,393.1 170.5,393.5 170.7,393.8 170.8,394.2 170.9,394.6 171.1,395.1 171.2,395.6 171.3,396.2 171.4,396.7 171.6,397.4 171.7,398.0 171.8,398.7 172.0,399.5 172.1,400.3 172.2,401.1 172.4,402.0 172.5,403.0 172.6,404.0 172.7,405.1 172.9,406.2 173.0,407.4 173.1,408.7 173.3,410.1 173.4,411.5 173.5,413.1 173.7,414.7 173.8,416.5 173.9,418.3 174.0,420.3 174.2,422.5 174.3,424.8 174.4,427.4 174.6,430.1 174.7,433.2 174.8,436.5 175.0,440.2 175.1,444.4 175.2,449.1 175.3,454.6 175.5,461.2 175.6,469.2 175.7,479.6 175.9,491.4 176.0,491.4 176.1,491.4 176.2,491.4 176.4,491.4 176.5,479.5 176.6,469.0 176.8,460.9 176.9,454.4 177.0,448.8 177.2,444.0 177.3,439.8 177.4,436.0 177.5,432.6 177.7,429.6 177.8,426.8 177.9,424.2 178.1,421.8 178.2,419.6 178.3,417.5 178.5,415.6 178.6,413.8 178.7,412.1 178.8,410.5 179.0,409.0 179.1,407.6 179.2,406.3 179.4,405.1 179.5,403.9 179.6,402.7 179.8,401.7 179.9,400.7 180.0,399.7 180.1,398.8 180.3,398.0 180.4,397.2 180.5,396.4 180.7,395.7 180.8,395.1 180.9,394.4 181.1,393.9 181.2,393.3 181.3,392.8 181.4,392.3 181.6,391.9 181.7,391.5 181.8,391.1 182.0,390.8 182.1,390.4 182.2,390.2 182.3,389.9 182.5,389.7 182.6,389.5 182.7,389.4 182.9,389.2 183.0,389.1 183.1,389.1 183.3,389.0 183.4,389.0 183.5,389.1 183.6,389.1 183.8,389.2 183.9,389.4 184.0,389.5 184.2,389.7 184.3,389.9 184.4,390.2 184.6,390.4 184.7,390.8 184.8,391.1 184.9,391.5 185.1,391.9 185.2,392.3 185.3,392.8 185.5,393.4 185.6,393.9 185.7,394.5 185.9,395.2 186.0,395.8 186.1,396.6 186.2,397.3 186.4,398.2 186.5,399.0 186.6,399.9 186.8,400.9 186.9,402.0 187.0,403.1 187.2,404.2 187.3,405.5 187.4,406.8 187.5,408.2 187.7,409.6 187.8,411.2 187.9,412.9 188.1,414.7 188.2,416.6 188.3,418.6 188.4,420.8 188.6,423.2 188.7,425.8 188.8,428.6 189.0,431.7 189.1,435.1 189.2,439.0 189.4,443.2 189.5,448.1 189.6,453.9 189.7,460.7 189.9,469.1 190.0,480.2 190.1,482.6 190.3,482.6 190.4,482.6 190.5,482.6 190.7,482.6 190.8,475.0 190.9,465.2 191.0,457.5 191.2,451.2 191.3,445.8 191.4,441.1 191.6,437.0 191.7,433.4 191.8,430.1 192.0,427.1 192.1,424.3 192.2,421.8 192.3,419.5 192.5,417.3 192.6,415.3 192.7,413.4 192.9,411.7 193.0,410.0 193.1,408.5 193.3,407.0 193.4,405.6 193.5,404.3 193.6,403.1 193.8,401.9 193.9,400.8 194.0,399.8 194.2,398.8 194.3,397.9 194.4,397.0 194.6,396.2 194.7,395.4 194.8,394.7 194.9,394.0 195.1,393.3 195.2,392.7 195.3,392.2 195.5,391.6 195.6,391.1 195.7,390.7 195.8,390.3 196.0,389.9 196.1,389.5 196.2,389.2 196.4,388.9 196.5,388.7 196.6,388.4 196.8,388.2 196.9,388.1 197.0,387.9 197.1,387.8 197.3,387.8 197.4,387.7 197.5,387.7 197.7,387.7 197.8,387.8 197.9,387.9 198.1,388.0 198.2,388.1 198.3,388.3 198.4,388.5 198.6,388.7 198.7,389.0 198.8,389.3 199.0,389.6 199.1,390.0 199.2,390.3 199.4,390.8 199.5,391.2 199.6,391.7 199.7,392.3 199.9,392.9 200.0,393.5 200.1,394.1 200.3,394.8 200.4,395.6 200.5,396.4 200.7,397.2 200.8,398.1 200.9,399.1 201.0,400.1 201.2,401.1 201.3,402.2 201.4,403.4 201.6,404.7 201.7,406.0 201.8,407.5 201.9,409.0 202.1,410.6 202.2,412.3 202.3,414.1 202.5,416.1 202.6,418.2 202.7,420.5 202.9,422.9 203.0,425.6 203.1,428.5 203.2,431.7 203.4,435.3 203.5,439.2 203.6,443.7 203.8,448.9 203.9,454.9 204.0,462.2 204.2,471.4 204.3,482.2 204.4,482.2 204.5,482.2 204.7,482.2 204.8,482.2 204.9,482.2 205.1,470.3 205.2,461.3 205.3,454.1 205.5,448.2 205.6,443.1 205.7,438.6 205.8,434.7 206.0,431.2 206.1,428.0 206.2,425.1 206.4,422.4 206.5,420.0 206.6,417.7 206.8,415.6 206.9,413.6 207.0,411.8 207.1,410.1 207.3,408.5 207.4,407.0 207.5,405.5 207.7,404.2 207.8,402.9 207.9,401.7 208.1,400.6 208.2,399.5 208.3,398.5 208.4,397.6 208.6,396.7 208.7,395.8 208.8,395.0 209.0,394.2 209.1,393.5 209.2,392.9 209.3,392.2 209.5,391.7 209.6,391.1 209.7,390.6 209.9,390.1 210.0,389.7 210.1,389.3 210.3,388.9 210.4,388.6 210.5,388.3 210.6,388.0 210.8,387.7 210.9,387.5 211.0,387.4 211.2,387.2 211.3,387.1 211.4,387.0 211.6,386.9 211.7,386.9 211.8,386.9 211.9,386.9 212.1,387.0 212.2,387.0 212.3,387.1 212.5,387.3 212.6,387.4 212.7,387.6 212.9,387.8 213.0,388.1 213.1,388.4 213.2,388.7 213.4,389.0 213.5,389.4 213.6,389.9 213.8,390.3 213.9,390.8 214.0,391.3 214.2,391.9 214.3,392.5 214.4,393.2 214.5,393.9 214.7,394.6 214.8,395.4 214.9,396.3 215.1,397.2 215.2,398.1 215.3,399.1 215.4,400.2 215.6,401.3 215.7,402.5 215.8,403.8 216.0,405.2 216.1,406.6 216.2,408.1 216.4,409.8 216.5,411.5 216.6,413.4 216.7,415.4 216.9,417.6 217.0,419.9 217.1,422.4 217.3,425.2 217.4,428.2 217.5,431.5 217.7,435.2 217.8,439.4 217.9,444.2 218.0,449.7 218.2,456.3 218.3,464.4 218.4,474.8 218.6,475.5 218.7,475.5 218.8,475.5 219.0,475.5 219.1,475.5 219.2,474.0 219.3,463.6 219.5,455.6 219.6,449.0 219.7,443.5 219.9,438.7 220.0,434.5 220.1,430.7 220.3,427.3 220.4,424.3 220.5,421.5 220.6,418.9 220.8,416.5 220.9,414.3 221.0,412.2 221.2,410.3 221.3,408.5 221.4,406.8 221.6,405.2 221.7,403.7 221.8,402.3 221.9,401.0 222.1,399.7 222.2,398.6 222.3,397.4 222.5,396.4 222.6,395.4 222.7,394.4 222.8,393.5 223.0,392.7 223.1,391.9 223.2,391.1 223.4,390.4 223.5,389.7 223.6,389.1 223.8,388.5 223.9,388.0 224.0,387.5 224.1,387.0 224.3,386.5 224.4,386.1 224.5,385.7 224.7,385.4 224.8,385.1 224.9,384.8 225.1,384.6 225.2,384.4 225.3,384.2 225.4,384.0 225.6,383.9 225.7,383.8 225.8,383.7 226.0,383.7 226.1,383.7 226.2,383.7 226.4,383.8 226.5,383.9 226.6,384.0 226.7,384.1 226.9,384.3 227.0,384.6 227.1,384.8 227.3,385.1 227.4,385.4 227.5,385.8 227.7,386.2 227.8,386.6 227.9,387.1 228.0,387.6 228.2,388.1 228.3,388.7 228.4,389.3 228.6,390.0 228.7,390.7 228.8,391.4 228.9,392.2 229.1,393.0 229.2,393.9 229.3,394.9 229.5,395.9 229.6,396.9 229.7,398.1 229.9,399.2 230.0,400.5 230.1,401.8 230.2,403.3 230.4,404.8 230.5,406.4 230.6,408.1 230.8,410.0 230.9,411.9 231.0,414.0 231.2,416.3 231.3,418.8 231.4,421.5 231.5,424.4 231.7,427.6 231.8,431.2 231.9,435.2 232.1,439.7 232.2,444.9 232.3,451.1 232.5,458.5 232.6,465.5 232.7,465.5 232.8,465.5 233.0,465.5 233.1,465.5 233.2,465.5 233.4,465.5 233.5,465.1 233.6,456.3 233.8,449.2 233.9,443.3 234.0,438.3 234.1,433.9 234.3,430.0 234.4,426.5 234.5,423.3 234.7,420.4 234.8,417.8 234.9,415.3 235.0,413.1 235.2,411.0 235.3,409.0 235.4,407.2 235.6,405.5 235.7,403.9 235.8,402.4 236.0,400.9 236.1,399.6 236.2,398.3 236.3,397.1 236.5,396.0 236.6,394.9 236.7,393.9 236.9,393.0 237.0,392.1 237.1,391.2 237.3,390.4 237.4,389.7 237.5,389.0 237.6,388.3 237.8,387.7 237.9,387.1 238.0,386.5 238.2,386.0 238.3,385.6 238.4,385.1 238.6,384.7 238.7,384.3 238.8,384.0 238.9,383.7 239.1,383.4 239.2,383.2 239.3,383.0 239.5,382.8 239.6,382.7 239.7,382.5 239.9,382.4 240.0,382.4 240.1,382.4 240.2,382.4 240.4,382.4 240.5,382.5 240.6,382.6 240.8,382.7 240.9,382.8 241.0,383.0 241.2,383.2 241.3,383.4 241.4,383.7 241.5,384.0 241.7,384.3 241.8,384.7 241.9,385.0 242.1,385.5 242.2,385.9 242.3,386.4 242.4,387.0 242.6,387.6 242.7,388.2 242.8,388.9 243.0,389.6 243.1,390.3 243.2,391.1 243.4,392.0 243.5,392.9 243.6,393.9 243.7,394.9 243.9,396.0 244.0,397.1 244.1,398.4 244.3,399.7 244.4,401.0 244.5,402.5 244.7,404.1 244.8,405.7 244.9,407.5 245.0,409.4 245.2,411.5 245.3,413.7 245.4,416.1 245.6,418.7 245.7,421.6 245.8,424.7 246.0,428.1 246.1,432.0 246.2,436.3 246.3,441.3 246.5,447.2 246.6,454.2 246.7,462.9 246.9,471.3 247.0,471.3 247.1,471.3 247.3,471.3 247.4,471.3 247.5,471.3 247.6,465.4 247.8,456.0 247.9,448.5 248.0,442.4 248.2,437.1 248.3,432.5 248.4,428.5 248.5,424.9 248.7,421.6 248.8,418.6 248.9,415.9 249.1,413.4 249.2,411.1 249.3,408.9 249.5,406.9 249.6,405.0 249.7,403.3 249.8,401.6 250.0,400.0 250.1,398.6 250.2,397.2 250.4,395.9 250.5,394.7 250.6,393.5 250.8,392.4 250.9,391.3 251.0,390.4 251.1,389.4 251.3,388.5 251.4,387.7 251.5,386.9 251.7,386.2 251.8,385.5 251.9,384.8 252.1,384.2 252.2,383.6 252.3,383.1 252.4,382.6 252.6,382.1 252.7,381.7 252.8,381.3 253.0,380.9 253.1,380.6 253.2,380.3 253.4,380.1 253.5,379.8 253.6,379.6 253.7,379.4 253.9,379.3 254.0,379.2 254.1,379.1 254.3,379.0 254.4,379.0 254.5,379.0 254.7,379.1 254.8,379.2 254.9,379.3 255.0,379.4 255.2,379.6 255.3,379.8 255.4,380.1 255.6,380.3 255.7,380.6 255.8,381.0 255.9,381.4 256.1,381.8 256.2,382.2 256.3,382.7 256.5,383.2 256.6,383.8 256.7,384.3 256.9,385.0 257.0,385.7 257.1,386.4 257.2,387.2 257.4,388.0 257.5,388.8 257.6,389.8 257.8,390.7 257.9,391.8 258.0,392.9 258.2,394.0 258.3,395.2 258.4,396.6 258.5,397.9 258.7,399.4 258.8,401.0 258.9,402.7 259.1,404.5 259.2,406.4 259.3,408.4 259.5,410.6 259.6,413.0 259.7,415.6 259.8,418.4 260.0,421.5 260.1,425.0 260.2,428.8 260.4,433.1 260.5,438.0 260.6,443.7 260.8,450.6 260.9,459.1 261.0,467.6 261.1,467.6 261.3,467.6 261.4,467.6 261.5,467.6 261.7,467.6 261.8,464.4 261.9,454.7 262.0,447.0 262.2,440.7 262.3,435.4 262.4,430.7 262.6,426.6 262.7,423.0 262.8,419.7 263.0,416.7 263.1,414.0 263.2,411.5 263.3,409.1 263.5,407.0 263.6,405.0 263.7,403.1 263.9,401.3 264.0,399.7 264.1,398.1 264.3,396.7 264.4,395.3 264.5,394.0 264.6,392.8 264.8,391.6 264.9,390.5 265.0,389.5 265.2,388.5 265.3,387.6 265.4,386.7 265.6,385.9 265.7,385.1 265.8,384.4 265.9,383.7 266.1,383.1 266.2,382.5 266.3,381.9 266.5,381.4 266.6,380.9 266.7,380.4 266.9,380.0 267.0,379.6 267.1,379.3 267.2,379.0 267.4,378.7 267.5,378.4 267.6,378.2 267.8,378.0 267.9,377.9 268.0,377.7 268.2,377.7 268.3,377.6 268.4,377.5 268.5,377.5 268.7,377.6 268.8,377.6 268.9,377.7 269.1,377.8 269.2,378.0 269.3,378.1 269.4,378.3 269.6,378.6 269.7,378.9 269.8,379.2 270.0,379.5 270.1,379.9 270.2,380.3 270.4,380.7 270.5,381.2 270.6,381.7 270.7,382.3 270.9,382.9 271.0,383.5 271.1,384.2 271.3,384.9 271.4,385.7 271.5,386.5 271.7,387.3 271.8,388.3 271.9,389.2 272.0,390.3 272.2,391.4 272.3,392.5 272.4,393.7 272.6,395.0 272.7,396.4 272.8,397.9 273.0,399.5 273.1,401.2 273.2,402.9 273.3,404.9 273.5,406.9 273.6,409.1 273.7,411.5 273.9,414.1 274.0,416.9 274.1,420.0 274.3,423.4 274.4,427.2 274.5,431.5 274.6,436.5 274.8,442.2 274.9,449.0 275.0,453.4 275.2,453.4 275.3,453.4 275.4,453.4 275.5,453.4 275.7,453.4 275.8,453.4 275.9,453.4 276.1,453.2 276.2,445.5 276.3,439.2 276.5,433.9 276.6,429.2 276.7,425.1 276.8,421.5 277.0,418.2 277.1,415.2 277.2,412.5 277.4,409.9 277.5,407.6 277.6,405.4 277.8,403.4 277.9,401.6 278.0,399.8 278.1,398.1 278.3,396.6 278.4,395.1 278.5,393.8 278.7,392.5 278.8,391.2 278.9,390.1 279.1,389.0 279.2,388.0 279.3,387.0 279.4,386.1 279.6,385.2 279.7,384.4 279.8,383.6 280.0,382.9 280.1,382.2 280.2,381.6 280.4,381.0 280.5,380.4 280.6,379.9 280.7,379.4 280.9,378.9 281.0,378.5 281.1,378.1 281.3,377.8 281.4,377.5 281.5,377.2 281.6,376.9 281.8,376.7 281.9,376.5 282.0,376.4 282.2,376.3 282.3,376.2 282.4,376.1 282.6,376.1 282.7,376.0 282.8,376.1 282.9,376.1 283.1,376.2 283.2,376.3 283.3,376.5 283.5,376.6 283.6,376.8 283.7,377.1 283.9,377.3 284.0,377.6 284.1,378.0 284.2,378.3 284.4,378.7 284.5,379.2 284.6,379.7 284.8,380.2 284.9,380.7 285.0,381.3 285.2,381.9 285.3,382.6 285.4,383.3 285.5,384.1 285.7,384.9 285.8,385.8 285.9,386.7 286.1,387.7 286.2,388.7 286.3,389.8 286.5,391.0 286.6,392.2 286.7,393.5 286.8,394.9 287.0,396.4 287.1,397.9 287.2,399.6 287.4,401.4 287.5,403.3 287.6,405.4 287.8,407.6 287.9,410.0 288.0,412.7 288.1,415.5 288.3,418.6 288.4,422.1 288.5,426.0 288.7,430.3 288.8,435.3 288.9,441.2 289.0,448.2 289.2,448.8 289.3,448.8 289.4,448.8 289.6,448.8 289.7,448.8 289.8,448.8 290.0,448.8 290.1,448.8 290.2,448.8 290.3,442.7 290.5,436.6 290.6,431.3 290.7,426.7 290.9,422.7 291.0,419.1 291.1,415.9 291.3,412.9 291.4,410.2 291.5,407.7 291.6,405.4 291.8,403.2 291.9,401.2 292.0,399.4 292.2,397.6 292.3,396.0 292.4,394.4 292.6,393.0 292.7,391.6 292.8,390.3 292.9,389.1 293.1,387.9 293.2,386.8 293.3,385.8 293.5,384.8 293.6,383.9 293.7,383.0 293.9,382.2 294.0,381.5 294.1,380.7 294.2,380.1 294.4,379.4 294.5,378.8 294.6,378.2 294.8,377.7 294.9,377.2 295.0,376.8 295.1,376.4 295.3,376.0 295.4,375.6 295.5,375.3 295.7,375.0 295.8,374.8 295.9,374.6 296.1,374.4 296.2,374.2 296.3,374.1 296.4,374.0 296.6,373.9 296.7,373.9 296.8,373.8 297.0,373.8 297.1,373.9 297.2,374.0 297.4,374.1 297.5,374.2 297.6,374.4 297.7,374.6 297.9,374.8 298.0,375.0 298.1,375.3 298.3,375.7 298.4,376.0 298.5,376.4 298.7,376.8 298.8,377.3 298.9,377.8 299.0,378.4 299.2,379.0 299.3,379.6 299.4,380.3 299.6,381.0 299.7,381.7 299.8,382.5 300.0,383.4 300.1,384.3 300.2,385.3 300.3,386.3 300.5,387.4 300.6,388.6 300.7,389.8 300.9,391.1 301.0,392.5 301.1,394.0 301.3,395.6 301.4,397.3 301.5,399.1 301.6,401.1 301.8,403.1 301.9,405.4 302.0,407.8 302.2,410.5 302.3,413.4 302.4,416.6 302.5,420.1 302.7,424.1 302.8,428.6 302.9,433.8 303.1,439.9 303.2,443.8 303.3,443.8 303.5,443.8 303.6,443.8 303.7,443.8 303.8,443.8 304.0,443.8 304.1,443.8 304.2,443.8 304.4,443.8 304.5,437.9 304.6,431.9 304.8,426.9 304.9,422.4 305.0,418.5 305.1,415.0 305.3,411.8 305.4,408.9 305.5,406.2 305.7,403.8 305.8,401.5 305.9,399.4 306.1,397.4 306.2,395.5 306.3,393.8 306.4,392.2 306.6,390.6 306.7,389.2 306.8,387.8 307.0,386.5 307.1,385.3 307.2,384.2 307.4,383.1 307.5,382.0 307.6,381.1 307.7,380.2 307.9,379.3 308.0,378.5 308.1,377.7 308.3,377.0 308.4,376.3 308.5,375.6 308.6,375.0 308.8,374.5 308.9,373.9 309.0,373.4 309.2,373.0 309.3,372.6 309.4,372.2 309.6,371.8 309.7,371.5 309.8,371.2 309.9,371.0 310.1,370.7 310.2,370.5 310.3,370.4 310.5,370.3 310.6,370.2 310.7,370.1 310.9,370.1 311.0,370.1 311.1,370.1 311.2,370.2 311.4,370.3 311.5,370.4 311.6,370.6 311.8,370.8 311.9,371.0 312.0,371.3 312.2,371.6 312.3,371.9 312.4,372.2 312.5,372.6 312.7,373.0 312.8,373.5 312.9,374.0 313.1,374.5 313.2,375.1 313.3,375.7 313.5,376.4 313.6,377.1 313.7,377.9 313.8,378.6 314.0,379.5 314.1,380.4 314.2,381.3 314.4,382.4 314.5,383.4 314.6,384.6 314.8,385.8 314.9,387.1 315.0,388.4 315.1,389.9 315.3,391.4 315.4,393.1 315.5,394.8 315.7,396.7 315.8,398.7 315.9,400.9 316.0,403.2 316.2,405.7 316.3,408.5 316.4,411.5 316.6,414.9 316.7,418.6 316.8,422.8 317.0,427.5 317.1,433.0 317.2,439.6 317.3,447.7 317.5,453.0 317.6,453.0 317.7,453.0 317.9,453.0 318.0,453.0 318.1,453.0 318.3,453.0 318.4,447.3 318.5,439.3 318.6,432.7 318.8,427.2 318.9,422.4 319.0,418.2 319.2,414.4 319.3,411.1 319.4,408.0 319.6,405.2 319.7,402.6 319.8,400.3 319.9,398.1 320.1,396.0 320.2,394.1 320.3,392.3 320.5,390.6 320.6,389.1 320.7,387.6 320.9,386.2 321.0,384.9 321.1,383.6 321.2,382.5 321.4,381.3 321.5,380.3" fill="none" stroke="#0000ff" stroke-width="1.7" stroke-linejoin="round"/>
<polyline points="62.0,451.7 62.1,451.7 62.3,451.7 62.4,450.0 62.5,445.3 62.7,441.1 62.8,437.3 62.9,434.0 63.1,430.9 63.2,428.2 63.3,425.6 63.4,423.2 63.6,421.0 63.7,419.0 63.8,417.1 64.0,415.3 64.1,413.7 64.2,412.1 64.4,410.6 64.5,409.2 64.6,407.9 64.7,406.7 64.9,405.5 65.0,404.4 65.1,403.4 65.3,402.4 65.4,401.5 65.5,400.6 65.7,399.8 65.8,399.0 65.9,398.2 66.0,397.5 66.2,396.9 66.3,396.3 66.4,395.7 66.6,395.2 66.7,394.7 66.8,394.2 67.0,393.8 67.1,393.4 67.2,393.0 67.3,392.7 67.5,392.4 67.6,392.1 67.7,391.9 67.9,391.7 68.0,391.5 68.1,391.4 68.3,391.3 68.4,391.2 68.5,391.1 68.6,391.1 68.8,391.1 68.9,391.1 69.0,391.2 69.2,391.3 69.3,391.4 69.4,391.5 69.5,391.7 69.7,391.9 69.8,392.1 69.9,392.4 70.1,392.7 70.2,393.0 70.3,393.4 70.5,393.8 70.6,394.2 70.7,394.7 70.8,395.2 71.0,395.7 71.1,396.3 71.2,396.9 71.4,397.6 71.5,398.3 71.6,399.0 71.8,399.8 71.9,400.6 72.0,401.5 72.1,402.4 72.3,403.4 72.4,404.5 72.5,405.6 72.7,406.7 72.8,408.0 72.9,409.3 73.1,410.7 73.2,412.2 73.3,413.8 73.4,415.4 73.6,417.2 73.7,419.1 73.8,421.2 74.0,423.4 74.1,425.8 74.2,428.4 74.4,431.2 74.5,434.3 74.6,437.7 74.7,441.5 74.9,445.7 75.0,450.6 75.1,456.3 75.3,463.0 75.4,471.3 75.5,477.6 75.6,477.6 75.8,477.6 75.9,477.6 76.0,477.6 76.2,477.6 76.3,477.6 76.4,468.7 76.6,460.9 76.7,454.5 76.8,449.1 76.9,444.4 77.1,440.3 77.2,436.6 77.3,433.3 77.5,430.3 77.6,427.5 77.7,425.0 77.9,422.6 78.0,420.5 78.1,418.4 78.2,416.6 78.4,414.8 78.5,413.1 78.6,411.6 78.8,410.1 78.9,408.7 79.0,407.4 79.2,406.2 79.3,405.0 79.4,403.9 79.5,402.9 79.7,401.9 79.8,401.0 79.9,400.1 80.1,399.3 80.2,398.5 80.3,397.8 80.5,397.1 80.6,396.4 80.7,395.8 80.8,395.3 81.0,394.7 81.1,394.2 81.2,393.8 81.4,393.3 81.5,392.9 81.6,392.6 81.8,392.3 81.9,392.0 82.0,391.7 82.1,391.5 82.3,391.3 82.4,391.1 82.5,390.9 82.7,390.8 82.8,390.7 82.9,390.7 83.0,390.7 83.2,390.7 83.3,390.7 83.4,390.8 83.6,390.9 83.7,391.0 83.8,391.2 84.0,391.3 84.1,391.6 84.2,391.8 84.3,392.1 84.5,392.4 84.6,392.7 84.7,393.1 84.9,393.5 85.0,393.9 85.1,394.4 85.3,394.9 85.4,395.5 85.5,396.1 85.6,396.7 85.8,397.4 85.9,398.1 86.0,398.8 86.2,399.6 86.3,400.5 86.4,401.4 86.6,402.3 86.7,403.3 86.8,404.4 86.9,405.5 87.1,406.7 87.2,407.9 87.3,409.3 87.5,410.7 87.6,412.2 87.7,413.8 87.9,415.5 88.0,417.3 88.1,419.3 88.2,421.4 88.4,423.6 88.5,426.1 88.6,428.7 88.8,431.6 88.9,434.7 89.0,438.2 89.1,442.1 89.3,446.5 89.4,451.5 89.5,457.3 89.7,464.4 89.8,473.1 89.9,474.3 90.1,474.3 90.2,474.3 90.3,474.3 90.4,474.3 90.6,474.3 90.7,474.3 90.8,466.7 91.0,459.2 91.1,453.1 91.2,447.8 91.4,443.3 91.5,439.3 91.6,435.7 91.7,432.4 91.9,429.5 92.0,426.8 92.1,424.3 92.3,422.0 92.4,419.9 92.5,417.9 92.7,416.0 92.8,414.3 92.9,412.6 93.0,411.1 93.2,409.7 93.3,408.3 93.4,407.0 93.6,405.8 93.7,404.7 93.8,403.6 94.0,402.6 94.1,401.6 94.2,400.7 94.3,399.8 94.5,399.0 94.6,398.3 94.7,397.5 94.9,396.9 95.0,396.2 95.1,395.6 95.3,395.1 95.4,394.6 95.5,394.1 95.6,393.6 95.8,393.2 95.9,392.8 96.0,392.5 96.2,392.2 96.3,391.9 96.4,391.6 96.5,391.4 96.7,391.2 96.8,391.0 96.9,390.9 97.1,390.8 97.2,390.7 97.3,390.7 97.5,390.7 97.6,390.7 97.7,390.7 97.8,390.8 98.0,390.9 98.1,391.0 98.2,391.1 98.4,391.3 98.5,391.5 98.6,391.8 98.8,392.1 98.9,392.4 99.0,392.7 99.1,393.1 99.3,393.5 99.4,393.9 99.5,394.4 99.7,394.9 99.8,395.5 99.9,396.1 100.1,396.7 100.2,397.4 100.3,398.1 100.4,398.8 100.6,399.6 100.7,400.5 100.8,401.4 101.0,402.4 101.1,403.4 101.2,404.4 101.4,405.6 101.5,406.8 101.6,408.0 101.7,409.4 101.9,410.8 102.0,412.4 102.1,414.0 102.3,415.7 102.4,417.6 102.5,419.5 102.6,421.7 102.8,424.0 102.9,426.4 103.0,429.1 103.2,432.1 103.3,435.3 103.4,438.9 103.6,442.9 103.7,447.4 103.8,452.6 103.9,458.8 104.1,466.2 104.2,475.6 104.3,488.4 104.5,501.9 104.6,501.9 104.7,501.9 104.9,501.7 105.0,484.4 105.1,472.7 105.2,463.9 105.4,456.9 105.5,451.0 105.6,446.0 105.8,441.6 105.9,437.7 106.0,434.2 106.2,431.0 106.3,428.2 106.4,425.5 106.5,423.1 106.7,420.8 106.8,418.7 106.9,416.8 107.1,414.9 107.2,413.2 107.3,411.6 107.5,410.1 107.6,408.7 107.7,407.3 107.8,406.1 108.0,404.9 108.1,403.7 108.2,402.7 108.4,401.7 108.5,400.7 108.6,399.8 108.7,398.9 108.9,398.1 109.0,397.4 109.1,396.7 109.3,396.0 109.4,395.4 109.5,394.8 109.7,394.2 109.8,393.7 109.9,393.2 110.0,392.8 110.2,392.4 110.3,392.0 110.4,391.6 110.6,391.3 110.7,391.0 110.8,390.8 111.0,390.6 111.1,390.4 111.2,390.2 111.3,390.1 111.5,390.0 111.6,389.9 111.7,389.9 111.9,389.9 112.0,389.9 112.1,389.9 112.3,390.0 112.4,390.1 112.5,390.2 112.6,390.4 112.8,390.5 112.9,390.8 113.0,391.0 113.2,391.3 113.3,391.6 113.4,391.9 113.6,392.3 113.7,392.7 113.8,393.2 113.9,393.7 114.1,394.2 114.2,394.7 114.3,395.3 114.5,396.0 114.6,396.6 114.7,397.4 114.9,398.1 115.0,398.9 115.1,399.8 115.2,400.7 115.4,401.7 115.5,402.7 115.6,403.8 115.8,404.9 115.9,406.1 116.0,407.4 116.1,408.8 116.3,410.3 116.4,411.8 116.5,413.5 116.7,415.2 116.8,417.1 116.9,419.1 117.1,421.3 117.2,423.7 117.3,426.2 117.4,429.0 117.6,432.0 117.7,435.3 117.8,439.0 118.0,443.2 118.1,448.0 118.2,453.5 118.4,460.0 118.5,468.0 118.6,471.3 118.7,471.3 118.9,471.3 119.0,471.3 119.1,471.3 119.3,471.3 119.4,471.3 119.5,468.0 119.7,459.9 119.8,453.4 119.9,447.8 120.0,443.0 120.2,438.8 120.3,435.0 120.4,431.7 120.6,428.6 120.7,425.8 120.8,423.2 121.0,420.8 121.1,418.6 121.2,416.6 121.3,414.7 121.5,412.9 121.6,411.2 121.7,409.6 121.9,408.1 122.0,406.7 122.1,405.4 122.2,404.1 122.4,403.0 122.5,401.8 122.6,400.8 122.8,399.8 122.9,398.8 123.0,397.9 123.2,397.1 123.3,396.3 123.4,395.5 123.5,394.8 123.7,394.2 123.8,393.6 123.9,393.0 124.1,392.4 124.2,391.9 124.3,391.4 124.5,391.0 124.6,390.6 124.7,390.2 124.8,389.9 125.0,389.5 125.1,389.3 125.2,389.0 125.4,388.8 125.5,388.6 125.6,388.5 125.8,388.3 125.9,388.2 126.0,388.2 126.1,388.2 126.3,388.2 126.4,388.2 126.5,388.3 126.7,388.3 126.8,388.5 126.9,388.6 127.1,388.8 127.2,389.0 127.3,389.2 127.4,389.5 127.6,389.8 127.7,390.2 127.8,390.5 128.0,390.9 128.1,391.4 128.2,391.8 128.4,392.3 128.5,392.9 128.6,393.5 128.7,394.1 128.9,394.8 129.0,395.5 129.1,396.2 129.3,397.0 129.4,397.9 129.5,398.8 129.6,399.7 129.8,400.7 129.9,401.8 130.0,402.9 130.2,404.1 130.3,405.3 130.4,406.7 130.6,408.1 130.7,409.6 130.8,411.2 130.9,412.9 131.1,414.7 131.2,416.7 131.3,418.8 131.5,421.1 131.6,423.5 131.7,426.1 131.9,429.0 132.0,432.2 132.1,435.7 132.2,439.6 132.4,444.0 132.5,449.1 132.6,455.0 132.8,462.1 132.9,471.0 133.0,471.3 133.2,471.3 133.3,471.3 133.4,471.3 133.5,471.3 133.7,471.3 133.8,471.3 133.9,463.3 134.1,456.0 134.2,449.9 134.3,444.7 134.5,440.2 134.6,436.2 134.7,432.6 134.8,429.4 135.0,426.5 135.1,423.8 135.2,421.3 135.4,419.0 135.5,416.9 135.6,414.9 135.7,413.0 135.9,411.3 136.0,409.7 136.1,408.2 136.3,406.7 136.4,405.4 136.5,404.1 136.7,402.9 136.8,401.7 136.9,400.6 137.0,399.6 137.2,398.7 137.3,397.8 137.4,396.9 137.6,396.1 137.7,395.3 137.8,394.6 138.0,393.9 138.1,393.3 138.2,392.7 138.3,392.1 138.5,391.6 138.6,391.1 138.7,390.7 138.9,390.3 139.0,389.9 139.1,389.5 139.3,389.2 139.4,388.9 139.5,388.7 139.6,388.5 139.8,388.3 139.9,388.1 140.0,388.0 140.2,387.9 140.3,387.8 140.4,387.8 140.6,387.8 140.7,387.8 140.8,387.8 140.9,387.9 141.1,388.0 141.2,388.1 141.3,388.3 141.5,388.5 141.6,388.7 141.7,389.0 141.9,389.3 142.0,389.6 142.1,390.0 142.2,390.4 142.4,390.8 142.5,391.2 142.6,391.7 142.8,392.3 142.9,392.8 143.0,393.4 143.1,394.1 143.3,394.8 143.4,395.5 143.5,396.3 143.7,397.1 143.8,398.0 143.9,398.9 144.1,399.9 144.2,400.9 144.3,402.0 144.4,403.2 144.6,404.4 144.7,405.7 144.8,407.1 145.0,408.5 145.1,410.1 145.2,411.8 145.4,413.5 145.5,415.4 145.6,417.4 145.7,419.6 145.9,422.0 146.0,424.5 146.1,427.3 146.3,430.3 146.4,433.6 146.5,437.3 146.7,441.5 146.8,446.2 146.9,451.7 147.0,458.2 147.2,466.1 147.3,476.3 147.4,478.5 147.6,478.5 147.7,478.5 147.8,478.5 148.0,478.5 148.1,478.1 148.2,467.4 148.3,459.2 148.5,452.6 148.6,447.0 148.7,442.1 148.9,437.9 149.0,434.1 149.1,430.8 149.2,427.7 149.4,424.9 149.5,422.3 149.6,419.9 149.8,417.7 149.9,415.7 150.0,413.8 150.2,412.0 150.3,410.3 150.4,408.7 150.5,407.3 150.7,405.9 150.8,404.6 150.9,403.3 151.1,402.2 151.2,401.0 151.3,400.0 151.5,399.0 151.6,398.1 151.7,397.2 151.8,396.4 152.0,395.6 152.1,394.9 152.2,394.2 152.4,393.5 152.5,392.9 152.6,392.3 152.8,391.8 152.9,391.3 153.0,390.8 153.1,390.4 153.3,390.0 153.4,389.7 153.5,389.3 153.7,389.0 153.8,388.8 153.9,388.5 154.1,388.3 154.2,388.2 154.3,388.0 154.4,387.9 154.6,387.8 154.7,387.8 154.8,387.7 155.0,387.7 155.1,387.8 155.2,387.8 155.3,387.9 155.5,388.0 155.6,388.1 155.7,388.3 155.9,388.5 156.0,388.7 156.1,389.0 156.3,389.3 156.4,389.6 156.5,390.0 156.6,390.4 156.8,390.8 156.9,391.3 157.0,391.8 157.2,392.3 157.3,392.9 157.4,393.5 157.6,394.1 157.7,394.8 157.8,395.6 157.9,396.4 158.1,397.2 158.2,398.1 158.3,399.0 158.5,400.0 158.6,401.1 158.7,402.2 158.9,403.4 159.0,404.6 159.1,406.0 159.2,407.4 159.4,408.9 159.5,410.5 159.6,412.2 159.8,414.0 159.9,416.0 160.0,418.1 160.2,420.3 160.3,422.8 160.4,425.4 160.5,428.3 160.7,431.5 160.8,435.0 160.9,438.9 161.1,443.4 161.2,448.5 161.3,454.5 161.5,458.8 161.6,458.8 161.7,458.8 161.8,458.8 162.0,458.8 162.1,458.8 162.2,458.8 162.4,458.8 162.5,458.8 162.6,458.8 162.7,454.3 162.9,448.3 163.0,443.1 163.1,438.7 163.3,434.7 163.4,431.1 163.5,427.9 163.7,425.0 163.8,422.3 163.9,419.9 164.0,417.6 164.2,415.4 164.3,413.5 164.4,411.6 164.6,409.9 164.7,408.2 164.8,406.7 165.0,405.3 165.1,403.9 165.2,402.6 165.3,401.4 165.5,400.3 165.6,399.2 165.7,398.2 165.9,397.2 166.0,396.3 166.1,395.4 166.3,394.6 166.4,393.8 166.5,393.1 166.6,392.4 166.8,391.8 166.9,391.2 167.0,390.6 167.2,390.1 167.3,389.6 167.4,389.1 167.6,388.7 167.7,388.3 167.8,388.0 167.9,387.6 168.1,387.3 168.2,387.1 168.3,386.8 168.5,386.6 168.6,386.5 168.7,386.3 168.8,386.2 169.0,386.2 169.1,386.1 169.2,386.1 169.4,386.1 169.5,386.1 169.6,386.2 169.8,386.3 169.9,386.4 170.0,386.6 170.1,386.8 170.3,387.0 170.4,387.2 170.5,387.5 170.7,387.8 170.8,388.2 170.9,388.6 171.1,389.0 171.2,389.4 171.3,389.9 171.4,390.4 171.6,391.0 171.7,391.6 171.8,392.2 172.0,392.9 172.1,393.6 172.2,394.4 172.4,395.2 172.5,396.1 172.6,397.0 172.7,398.0 172.9,399.0 173.0,400.1 173.1,401.3 173.3,402.5 173.4,403.8 173.5,405.2 173.7,406.7 173.8,408.2 173.9,409.9 174.0,411.7 174.2,413.6 174.3,415.6 174.4,417.8 174.6,420.2 174.7,422.8 174.8,425.6 175.0,428.6 175.1,432.0 175.2,435.8 175.3,440.1 175.5,444.9 175.6,450.6 175.7,457.3 175.9,465.6 176.0,467.2 176.1,467.2 176.2,467.2 176.4,467.2 176.5,467.2 176.6,467.2 176.8,467.2 176.9,462.8 177.0,455.0 177.2,448.6 177.3,443.2 177.4,438.5 177.5,434.3 177.7,430.7 177.8,427.3 177.9,424.3 178.1,421.5 178.2,419.0 178.3,416.7 178.5,414.5 178.6,412.4 178.7,410.6 178.8,408.8 179.0,407.1 179.1,405.5 179.2,404.1 179.4,402.7 179.5,401.4 179.6,400.1 179.8,399.0 179.9,397.9 180.0,396.8 180.1,395.8 180.3,394.9 180.4,394.0 180.5,393.2 180.7,392.4 180.8,391.6 180.9,390.9 181.1,390.3 181.2,389.7 181.3,389.1 181.4,388.6 181.6,388.0 181.7,387.6 181.8,387.1 182.0,386.7 182.1,386.4 182.2,386.0 182.3,385.7 182.5,385.5 182.6,385.2 182.7,385.0 182.9,384.8 183.0,384.7 183.1,384.6 183.3,384.5 183.4,384.4 183.5,384.4 183.6,384.4 183.8,384.4 183.9,384.5 184.0,384.6 184.2,384.7 184.3,384.9 184.4,385.0 184.6,385.3 184.7,385.5 184.8,385.8 184.9,386.1 185.1,386.4 185.2,386.8 185.3,387.2 185.5,387.6 185.6,388.1 185.7,388.6 185.9,389.2 186.0,389.8 186.1,390.4 186.2,391.1 186.4,391.8 186.5,392.6 186.6,393.4 186.8,394.2 186.9,395.1 187.0,396.1 187.2,397.1 187.3,398.2 187.4,399.3 187.5,400.5 187.7,401.8 187.8,403.2 187.9,404.6 188.1,406.2 188.2,407.8 188.3,409.6 188.4,411.4 188.6,413.4 188.7,415.6 188.8,417.9 189.0,420.4 189.1,423.2 189.2,426.2 189.4,429.5 189.5,433.2 189.6,437.3 189.7,441.9 189.9,447.4 190.0,453.8 190.1,461.6 190.3,462.1 190.4,462.1 190.5,462.1 190.7,462.1 190.8,462.1 190.9,462.1 191.0,462.1 191.2,462.1 191.3,455.5 191.4,448.7 191.6,443.1 191.7,438.2 191.8,433.9 192.0,430.1 192.1,426.7 192.2,423.6 192.3,420.8 192.5,418.2 192.6,415.8 192.7,413.6 192.9,411.5 193.0,409.6 193.1,407.8 193.3,406.1 193.4,404.5 193.5,403.0 193.6,401.6 193.8,400.3 193.9,399.0 194.0,397.8 194.2,396.7 194.3,395.6 194.4,394.6 194.6,393.7 194.7,392.8 194.8,392.0 194.9,391.2 195.1,390.4 195.2,389.7 195.3,389.0 195.5,388.4 195.6,387.8 195.7,387.3 195.8,386.8 196.0,386.3 196.1,385.9 196.2,385.5 196.4,385.1 196.5,384.7 196.6,384.4 196.8,384.2 196.9,383.9 197.0,383.7 197.1,383.5 197.3,383.4 197.4,383.3 197.5,383.2 197.7,383.1 197.8,383.1 197.9,383.1 198.1,383.1 198.2,383.2 198.3,383.3 198.4,383.4 198.6,383.5 198.7,383.7 198.8,383.9 199.0,384.2 199.1,384.4 199.2,384.8 199.4,385.1 199.5,385.5 199.6,385.9 199.7,386.3 199.9,386.8 200.0,387.3 200.1,387.8 200.3,388.4 200.4,389.0 200.5,389.7 200.7,390.4 200.8,391.2 200.9,392.0 201.0,392.8 201.2,393.7 201.3,394.7 201.4,395.7 201.6,396.8 201.7,397.9 201.8,399.1 201.9,400.4 202.1,401.7 202.2,403.2 202.3,404.7 202.5,406.3 202.6,408.1 202.7,409.9 202.9,411.9 203.0,414.0 203.1,416.3 203.2,418.8 203.4,421.5 203.5,424.4 203.6,427.7 203.8,431.3 203.9,435.3 204.0,439.8 204.2,445.1 204.3,451.3 204.4,458.7 204.5,465.5 204.7,465.5 204.8,465.5 204.9,465.5 205.1,465.5 205.2,465.5 205.3,465.5 205.5,464.7 205.6,456.0 205.7,449.0 205.8,443.1 206.0,438.1 206.1,433.7 206.2,429.9 206.4,426.4 206.5,423.2 206.6,420.4 206.8,417.7 206.9,415.3 207.0,413.0 207.1,410.9 207.3,409.0 207.4,407.2 207.5,405.5 207.7,403.9 207.8,402.3 207.9,400.9 208.1,399.6 208.2,398.3 208.3,397.1 208.4,396.0 208.6,394.9 208.7,393.9 208.8,393.0 209.0,392.1 209.1,391.2 209.2,390.4 209.3,389.7 209.5,389.0 209.6,388.3 209.7,387.7 209.9,387.1 210.0,386.5 210.1,386.0 210.3,385.6 210.4,385.1 210.5,384.7 210.6,384.3 210.8,384.0 210.9,383.7 211.0,383.4 211.2,383.2 211.3,382.9 211.4,382.8 211.6,382.6 211.7,382.5 211.8,382.4 211.9,382.3 212.1,382.3 212.2,382.3 212.3,382.3 212.5,382.4 212.6,382.4 212.7,382.5 212.9,382.7 213.0,382.9 213.1,383.1 213.2,383.3 213.4,383.6 213.5,383.9 213.6,384.2 213.8,384.5 213.9,384.9 214.0,385.4 214.2,385.8 214.3,386.3 214.4,386.9 214.5,387.4 214.7,388.1 214.8,388.7 214.9,389.4 215.1,390.2 215.2,391.0 215.3,391.8 215.4,392.7 215.6,393.6 215.7,394.6 215.8,395.7 216.0,396.8 216.1,398.0 216.2,399.3 216.4,400.6 216.5,402.0 216.6,403.5 216.7,405.1 216.9,406.8 217.0,408.7 217.1,410.6 217.3,412.7 217.4,415.0 217.5,417.5 217.7,420.1 217.8,423.0 217.9,426.2 218.0,429.8 218.2,433.7 218.3,438.2 218.4,443.3 218.6,449.4 218.7,456.6 218.8,457.1 219.0,457.1 219.1,457.1 219.2,457.1 219.3,457.1 219.5,457.1 219.6,457.1 219.7,457.1 219.9,456.0 220.0,448.8 220.1,442.8 220.3,437.7 220.4,433.2 220.5,429.3 220.6,425.7 220.8,422.5 220.9,419.6 221.0,417.0 221.2,414.5 221.3,412.2 221.4,410.1 221.6,408.1 221.7,406.3 221.8,404.6 221.9,402.9 222.1,401.4 222.2,400.0 222.3,398.6 222.5,397.4 222.6,396.1 222.7,395.0 222.8,393.9 223.0,392.9 223.1,392.0 223.2,391.0 223.4,390.2 223.5,389.4 223.6,388.6 223.8,387.9 223.9,387.2 224.0,386.6 224.1,386.0 224.3,385.4 224.4,384.9 224.5,384.4 224.7,384.0 224.8,383.6 224.9,383.2 225.1,382.8 225.2,382.5 225.3,382.2 225.4,382.0 225.6,381.8 225.7,381.6 225.8,381.4 226.0,381.3 226.1,381.2 226.2,381.1 226.4,381.1 226.5,381.1 226.6,381.1 226.7,381.1 226.9,381.2 227.0,381.3 227.1,381.5 227.3,381.6 227.4,381.8 227.5,382.0 227.7,382.3 227.8,382.6 227.9,382.9 228.0,383.3 228.2,383.7 228.3,384.1 228.4,384.6 228.6,385.1 228.7,385.6 228.8,386.2 228.9,386.8 229.1,387.4 229.2,388.1 229.3,388.9 229.5,389.7 229.6,390.5 229.7,391.4 229.9,392.3 230.0,393.3 230.1,394.4 230.2,395.5 230.4,396.7 230.5,397.9 230.6,399.3 230.8,400.7 230.9,402.2 231.0,403.8 231.2,405.5 231.3,407.3 231.4,409.3 231.5,411.4 231.7,413.6 231.8,416.1 231.9,418.7 232.1,421.6 232.2,424.8 232.3,428.3 232.5,432.2 232.6,436.7 232.7,441.7 232.8,447.7 233.0,454.9 233.1,463.9 233.2,464.2 233.4,464.2 233.5,464.2 233.6,464.2 233.8,464.2 233.9,464.2 234.0,464.2 234.1,455.2 234.3,447.9 234.4,441.8 234.5,436.7 234.7,432.2 234.8,428.2 234.9,424.7 235.0,421.5 235.2,418.5 235.3,415.8 235.4,413.4 235.6,411.1 235.7,409.0 235.8,407.0 236.0,405.1 236.1,403.4 236.2,401.8 236.3,400.2 236.5,398.8 236.6,397.4 236.7,396.2 236.9,394.9 237.0,393.8 237.1,392.7 237.3,391.7 237.4,390.7 237.5,389.8 237.6,389.0 237.8,388.2 237.9,387.4 238.0,386.7 238.2,386.0 238.3,385.4 238.4,384.8 238.6,384.2 238.7,383.7 238.8,383.2 238.9,382.7 239.1,382.3 239.2,381.9 239.3,381.6 239.5,381.3 239.6,381.0 239.7,380.7 239.9,380.5 240.0,380.3 240.1,380.2 240.2,380.0 240.4,379.9 240.5,379.9 240.6,379.8 240.8,379.8 240.9,379.8 241.0,379.9 241.2,379.9 241.3,380.1 241.4,380.2 241.5,380.4 241.7,380.6 241.8,380.8 241.9,381.0 242.1,381.3 242.2,381.7 242.3,382.0 242.4,382.4 242.6,382.8 242.7,383.3 242.8,383.8 243.0,384.3 243.1,384.9 243.2,385.5 243.4,386.2 243.5,386.9 243.6,387.6 243.7,388.4 243.9,389.2 244.0,390.1 244.1,391.1 244.3,392.1 244.4,393.1 244.5,394.2 244.7,395.4 244.8,396.7 244.9,398.0 245.0,399.4 245.2,400.9 245.3,402.5 245.4,404.2 245.6,406.1 245.7,408.0 245.8,410.1 246.0,412.4 246.1,414.8 246.2,417.5 246.3,420.3 246.5,423.5 246.6,427.0 246.7,431.0 246.9,435.4 247.0,440.5 247.1,446.5 247.3,453.0 247.4,453.0 247.5,453.0 247.6,453.0 247.8,453.0 247.9,453.0 248.0,453.0 248.2,453.0 248.3,453.0 248.4,453.0 248.5,446.5 248.7,440.5 248.8,435.3 248.9,430.8 249.1,426.9 249.2,423.3 249.3,420.1 249.5,417.2 249.6,414.5 249.7,412.0 249.8,409.8 250.0,407.6 250.1,405.7 250.2,403.8 250.4,402.1 250.5,400.4 250.6,398.9 250.8,397.5 250.9,396.1 251.0,394.8 251.1,393.6 251.3,392.5 251.4,391.4 251.5,390.4 251.7,389.4 251.8,388.5 251.9,387.7 252.1,386.8 252.2,386.1 252.3,385.4 252.4,384.7 252.6,384.0 252.7,383.4 252.8,382.9 253.0,382.4 253.1,381.9 253.2,381.4 253.4,381.0 253.5,380.6 253.6,380.3 253.7,380.0 253.9,379.7 254.0,379.4 254.1,379.2 254.3,379.0 254.4,378.9 254.5,378.7 254.7,378.6 254.8,378.6 254.9,378.5 255.0,378.5 255.2,378.5 255.3,378.6 255.4,378.6 255.6,378.7 255.7,378.9 255.8,379.0 255.9,379.2 256.1,379.5 256.2,379.7 256.3,380.0 256.5,380.3 256.6,380.7 256.7,381.1 256.9,381.5 257.0,382.0 257.1,382.5 257.2,383.0 257.4,383.6 257.5,384.2 257.6,384.8 257.8,385.5 257.9,386.3 258.0,387.1 258.2,387.9 258.3,388.8 258.4,389.7 258.5,390.7 258.7,391.8 258.8,392.9 258.9,394.1 259.1,395.3 259.2,396.7 259.3,398.1 259.5,399.6 259.6,401.2 259.7,402.9 259.8,404.8 260.0,406.7 260.1,408.8 260.2,411.1 260.4,413.6 260.5,416.2 260.6,419.1 260.8,422.3 260.9,425.9 261.0,429.9 261.1,434.4 261.3,439.5 261.4,445.6 261.5,452.9 261.7,453.8 261.8,453.8 261.9,453.8 262.0,453.8 262.2,453.8 262.3,453.8 262.4,453.8 262.6,453.8 262.7,451.5 262.8,444.4 263.0,438.4 263.1,433.3 263.2,428.9 263.3,425.0 263.5,421.5 263.6,418.3 263.7,415.4 263.9,412.7 264.0,410.3 264.1,408.0 264.3,405.9 264.4,403.9 264.5,402.1 264.6,400.3 264.8,398.7 264.9,397.2 265.0,395.8 265.2,394.4 265.3,393.1 265.4,391.9 265.6,390.8 265.7,389.7 265.8,388.7 265.9,387.7 266.1,386.8 266.2,386.0 266.3,385.1 266.5,384.4 266.6,383.7 266.7,383.0 266.9,382.4 267.0,381.8 267.1,381.2 267.2,380.7 267.4,380.2 267.5,379.7 267.6,379.3 267.8,378.9 267.9,378.6 268.0,378.3 268.2,378.0 268.3,377.7 268.4,377.5 268.5,377.3 268.7,377.2 268.8,377.0 268.9,377.0 269.1,376.9 269.2,376.9 269.3,376.9 269.4,376.9 269.6,376.9 269.7,377.0 269.8,377.1 270.0,377.3 270.1,377.5 270.2,377.7 270.4,377.9 270.5,378.2 270.6,378.5 270.7,378.8 270.9,379.2 271.0,379.6 271.1,380.0 271.3,380.5 271.4,381.0 271.5,381.6 271.7,382.1 271.8,382.8 271.9,383.4 272.0,384.1 272.2,384.9 272.3,385.7 272.4,386.6 272.6,387.5 272.7,388.4 272.8,389.4 273.0,390.5 273.1,391.6 273.2,392.8 273.3,394.1 273.5,395.5 273.6,396.9 273.7,398.4 273.9,400.1 274.0,401.8 274.1,403.7 274.3,405.7 274.4,407.8 274.5,410.1 274.6,412.6 274.8,415.3 274.9,418.3 275.0,421.5 275.2,425.2 275.3,429.2 275.4,433.8 275.5,439.1 275.7,445.4 275.8,445.8 275.9,445.8 276.1,445.8 276.2,445.8 276.3,445.8 276.5,445.8 276.6,445.8 276.7,445.8 276.8,445.8 277.0,445.8 277.1,442.1 277.2,436.3 277.4,431.4 277.5,427.0 277.6,423.2 277.8,419.7 277.9,416.6 278.0,413.8 278.1,411.1 278.3,408.7 278.4,406.5 278.5,404.4 278.7,402.5 278.8,400.7 278.9,399.0 279.1,397.4 279.2,395.9 279.3,394.4 279.4,393.1 279.6,391.8 279.7,390.7 279.8,389.5 280.0,388.5 280.1,387.5 280.2,386.5 280.4,385.6 280.5,384.8 280.6,384.0 280.7,383.3 280.9,382.6 281.0,381.9 281.1,381.3 281.3,380.7 281.4,380.1 281.5,379.6 281.6,379.2 281.8,378.7 281.9,378.3 282.0,378.0 282.2,377.6 282.3,377.3 282.4,377.1 282.6,376.8 282.7,376.6 282.8,376.4 282.9,376.3 283.1,376.2 283.2,376.1 283.3,376.0 283.5,376.0 283.6,376.0 283.7,376.0 283.9,376.1 284.0,376.1 284.1,376.3 284.2,376.4 284.4,376.6 284.5,376.8 284.6,377.0 284.8,377.3 284.9,377.6 285.0,378.0 285.2,378.3 285.3,378.7 285.4,379.2 285.5,379.7 285.7,380.2 285.8,380.7 285.9,381.3 286.1,381.9 286.2,382.6 286.3,383.3 286.5,384.1 286.6,384.9 286.7,385.8 286.8,386.7 287.0,387.6 287.1,388.7 287.2,389.7 287.4,390.9 287.5,392.1 287.6,393.4 287.8,394.8 287.9,396.2 288.0,397.8 288.1,399.4 288.3,401.2 288.4,403.1 288.5,405.1 288.7,407.3 288.8,409.6 288.9,412.1 289.0,414.9 289.2,417.9 289.3,421.3 289.4,425.0 289.6,429.1 289.7,433.9 289.8,439.4 290.0,445.9 290.1,447.9 290.2,447.9 290.3,447.9 290.5,447.9 290.6,447.9 290.7,447.9 290.9,447.9 291.0,447.9 291.1,447.9 291.3,446.1 291.4,439.5 291.5,434.0 291.6,429.2 291.8,424.9 291.9,421.2 292.0,417.8 292.2,414.7 292.3,411.9 292.4,409.4 292.6,407.0 292.7,404.8 292.8,402.7 292.9,400.8 293.1,399.0 293.2,397.4 293.3,395.8 293.5,394.3 293.6,392.9 293.7,391.6 293.9,390.3 294.0,389.2 294.1,388.1 294.2,387.0 294.4,386.0 294.5,385.1 294.6,384.2 294.8,383.4 294.9,382.6 295.0,381.8 295.1,381.1 295.3,380.5 295.4,379.9 295.5,379.3 295.7,378.7 295.8,378.2 295.9,377.8 296.1,377.3 296.2,376.9 296.3,376.6 296.4,376.2 296.6,375.9 296.7,375.7 296.8,375.4 297.0,375.2 297.1,375.1 297.2,374.9 297.4,374.8 297.5,374.7 297.6,374.6 297.7,374.6 297.9,374.6 298.0,374.7 298.1,374.7 298.3,374.8 298.4,374.9 298.5,375.1 298.7,375.3 298.8,375.5 298.9,375.7 299.0,376.0 299.2,376.3 299.3,376.7 299.4,377.0 299.6,377.5 299.7,377.9 299.8,378.4 300.0,378.9 300.1,379.5 300.2,380.1 300.3,380.7 300.5,381.4 300.6,382.1 300.7,382.9 300.9,383.7 301.0,384.6 301.1,385.5 301.3,386.5 301.4,387.5 301.5,388.6 301.6,389.8 301.8,391.0 301.9,392.3 302.0,393.7 302.2,395.2 302.3,396.8 302.4,398.5 302.5,400.2 302.7,402.2 302.8,404.2 302.9,406.4 303.1,408.8 303.2,411.4 303.3,414.3 303.5,417.4 303.6,420.8 303.7,424.7 303.8,429.0 304.0,433.9 304.1,439.7 304.2,442.9 304.4,442.9 304.5,442.9 304.6,442.9 304.8,442.9 304.9,442.9 305.0,442.9 305.1,442.9 305.3,442.9 305.4,442.9 305.5,442.4 305.7,436.1 305.8,430.8 305.9,426.2 306.1,422.1 306.2,418.5 306.3,415.2 306.4,412.2 306.6,409.5 306.7,407.0 306.8,404.7 307.0,402.5 307.1,400.5 307.2,398.6 307.4,396.9 307.5,395.2 307.6,393.7 307.7,392.2 307.9,390.8 308.0,389.5 308.1,388.3 308.3,387.1 308.4,386.0 308.5,385.0 308.6,384.0 308.8,383.1 308.9,382.2 309.0,381.4 309.2,380.6 309.3,379.9 309.4,379.2 309.6,378.6 309.7,378.0 309.8,377.4 309.9,376.9 310.1,376.4 310.2,375.9 310.3,375.5 310.5,375.1 310.6,374.8 310.7,374.4 310.9,374.1 311.0,373.9 311.1,373.7 311.2,373.5 311.4,373.3 311.5,373.2 311.6,373.1 311.8,373.0 311.9,372.9 312.0,372.9 312.2,372.9 312.3,373.0 312.4,373.0 312.5,373.2 312.7,373.3 312.8,373.5 312.9,373.6 313.1,373.9 313.2,374.1 313.3,374.4 313.5,374.7 313.6,375.1 313.7,375.5 313.8,375.9 314.0,376.4 314.1,376.9 314.2,377.4 314.4,378.0 314.5,378.6 314.6,379.3 314.8,380.0 314.9,380.7 315.0,381.5 315.1,382.3 315.3,383.2 315.4,384.2 315.5,385.2 315.7,386.2 315.8,387.4 315.9,388.5 316.0,389.8 316.2,391.1 316.3,392.6 316.4,394.1 316.6,395.7 316.7,397.4 316.8,399.3 317.0,401.2 317.1,403.4 317.2,405.6 317.3,408.1 317.5,410.8 317.6,413.7 317.7,417.0 317.9,420.5 318.0,424.6 318.1,429.1 318.3,434.3 318.4,440.5 318.5,440.8 318.6,440.8 318.8,440.8 318.9,440.8 319.0,440.8 319.2,440.8 319.3,440.8 319.4,440.8 319.6,440.8 319.7,440.8 319.8,438.2 319.9,432.4 320.1,427.3 320.2,422.9 320.3,419.1 320.5,415.6 320.6,412.4 320.7,409.5 320.9,406.9 321.0,404.4 321.1,402.2 321.2,400.1 321.4,398.1 321.5,396.3" fill="none" stroke="#00ee00" stroke-width="1.9" stroke-dasharray="2.8,2" stroke-linejoin="round"/>
</g>
<polyline points="61.5,284.5 62.2,284.5 62.8,284.5 63.5,284.5 64.1,284.5 64.8,284.5 65.4,284.5 66.1,284.5 66.7,284.5 67.4,284.5 68.0,284.6 68.7,284.6 69.3,284.6 70.0,284.6 70.6,284.6 71.3,284.6 71.9,284.6 72.6,284.6 73.2,284.6 73.9,284.6 74.5,284.6 75.2,284.6 75.8,284.6 76.5,284.6 77.1,284.7 77.8,284.7 78.4,284.7 79.1,284.7 79.7,284.7 80.4,284.7 81.0,284.7 81.7,284.7 82.4,284.7 83.0,284.7 83.7,284.7 84.3,284.7 85.0,284.8 85.6,284.8 86.3,284.8 86.9,284.8 87.6,284.8 88.2,284.8 88.9,284.8 89.5,284.8 90.2,284.8 90.8,284.8 91.5,284.8 92.1,284.9 92.8,284.9 93.4,284.9 94.1,284.9 94.7,284.9 95.4,284.9 96.0,284.9 96.7,284.9 97.3,284.9 98.0,284.9 98.6,284.9 99.3,285.0 99.9,285.0 100.6,285.0 101.2,285.0 101.9,285.0 102.6,285.0 103.2,285.0 103.9,285.0 104.5,285.0 105.2,285.0 105.8,285.1 106.5,285.1 107.1,285.1 107.8,285.1 108.4,285.1 109.1,285.1 109.7,285.1 110.4,285.1 111.0,285.1 111.7,285.1 112.3,285.1 113.0,285.2 113.6,285.2 114.3,285.2 114.9,285.2 115.6,285.2 116.2,285.2 116.9,285.2 117.5,285.2 118.2,285.2 118.8,285.2 119.5,285.3 120.1,285.3 120.8,285.3 121.4,285.3 122.1,285.3 122.8,285.3 123.4,285.3 124.1,285.3 124.7,285.3 125.4,285.4 126.0,285.4 126.7,285.4 127.3,285.4 128.0,285.4 128.6,285.4 129.3,285.4 129.9,285.4 130.6,285.4 131.2,285.4 131.9,285.5 132.5,285.5 133.2,285.5 133.8,285.5 134.5,285.5 135.1,285.5 135.8,285.5 136.4,285.5 137.1,285.5 137.7,285.6 138.4,285.6 139.0,285.6 139.7,285.6 140.3,285.6 141.0,285.6 141.7,285.6 142.3,285.6 143.0,285.6 143.6,285.7 144.3,285.7 144.9,285.7 145.6,285.7 146.2,285.7 146.9,285.7 147.5,285.7 148.2,285.7 148.8,285.7 149.5,285.8 150.1,285.8 150.8,285.8 151.4,285.8 152.1,285.8 152.7,285.8 153.4,285.8 154.0,285.8 154.7,285.8 155.3,285.9 156.0,285.9 156.6,285.9 157.3,285.9 157.9,285.9 158.6,285.9 159.2,285.9 159.9,285.9 160.5,285.9 161.2,286.0 161.9,286.0 162.5,286.0 163.2,286.0 163.8,286.0 164.5,286.0 165.1,286.0 165.8,286.0 166.4,286.0 167.1,286.1 167.7,286.1 168.4,286.1 169.0,286.1 169.7,286.1 170.3,286.1 171.0,286.1 171.6,286.1 172.3,286.2 172.9,286.2 173.6,286.2 174.2,286.2 174.9,286.2 175.5,286.2 176.2,286.2 176.8,286.2 177.5,286.2 178.1,286.3 178.8,286.3 179.4,286.3 180.1,286.3 180.7,286.3 181.4,286.3 182.1,286.3 182.7,286.3 183.4,286.4 184.0,286.4 184.7,286.4 185.3,286.4 186.0,286.4 186.6,286.4 187.3,286.4 187.9,286.4 188.6,286.4 189.2,286.5 189.9,286.5 190.5,286.5 191.2,286.5 191.8,286.5 192.5,286.5 193.1,286.5 193.8,286.5 194.4,286.6 195.1,286.6 195.7,286.6 196.4,286.6 197.0,286.6 197.7,286.6 198.3,286.6 199.0,286.6 199.6,286.7 200.3,286.7 200.9,286.7 201.6,286.7 202.3,286.7 202.9,286.7 203.6,286.7 204.2,286.7 204.9,286.8 205.5,286.8 206.2,286.8 206.8,286.8 207.5,286.8 208.1,286.8 208.8,286.8 209.4,286.8 210.1,286.8 210.7,286.9 211.4,286.9 212.0,286.9 212.7,286.9 213.3,286.9 214.0,286.9 214.6,286.9 215.3,286.9 215.9,287.0 216.6,287.0 217.2,287.0 217.9,287.0 218.5,287.0 219.2,287.0 219.8,287.0 220.5,287.0 221.1,287.1 221.8,287.1 222.5,287.1 223.1,287.1 223.8,287.1 224.4,287.1 225.1,287.1 225.7,287.1 226.4,287.2 227.0,287.2 227.7,287.2 228.3,287.2 229.0,287.2 229.6,287.2 230.3,287.2 230.9,287.3 231.6,287.3 232.2,287.3 232.9,287.3 233.5,287.3 234.2,287.3 234.8,287.3 235.5,287.3 236.1,287.4 236.8,287.4 237.4,287.4 238.1,287.4 238.7,287.4 239.4,287.4 240.0,287.4 240.7,287.4 241.3,287.5 242.0,287.5 242.7,287.5 243.3,287.5 244.0,287.5 244.6,287.5 245.3,287.5 245.9,287.5 246.6,287.6 247.2,287.6 247.9,287.6 248.5,287.6 249.2,287.6 249.8,287.6 250.5,287.6 251.1,287.6 251.8,287.7 252.4,287.7 253.1,287.7 253.7,287.7 254.4,287.7 255.0,287.7 255.7,287.7 256.3,287.8 257.0,287.8 257.6,287.8 258.3,287.8 258.9,287.8 259.6,287.8 260.2,287.8 260.9,287.8 261.6,287.9 262.2,287.9 262.9,287.9 263.5,287.9 264.2,287.9 264.8,287.9 265.5,287.9 266.1,287.9 266.8,288.0 267.4,288.0 268.1,288.0 268.7,288.0 269.4,288.0 270.0,288.0 270.7,288.0 271.3,288.1 272.0,288.1 272.6,288.1 273.3,288.1 273.9,288.1 274.6,288.1 275.2,288.1 275.9,288.1 276.5,288.2 277.2,288.2 277.8,288.2 278.5,288.2 279.1,288.2 279.8,288.2 280.4,288.2 281.1,288.3 281.8,288.3 282.4,288.3 283.1,288.3 283.7,288.3 284.4,288.3 285.0,288.3 285.7,288.3 286.3,288.4 287.0,288.4 287.6,288.4 288.3,288.4 288.9,288.4 289.6,288.4 290.2,288.4 290.9,288.5 291.5,288.5 292.2,288.5 292.8,288.5 293.5,288.5 294.1,288.5 294.8,288.5 295.4,288.6 296.1,288.6 296.7,288.6 297.4,288.6 298.0,288.6 298.7,288.6 299.3,288.6 300.0,288.6 300.6,288.7 301.3,288.7 302.0,288.7 302.6,288.7 303.3,288.7 303.9,288.7 304.6,288.7 305.2,288.8 305.9,288.8 306.5,288.8 307.2,288.8 307.8,288.8 308.5,288.8 309.1,288.8 309.8,288.9 310.4,288.9 311.1,288.9 311.7,288.9 312.4,288.9 313.0,288.9 313.7,288.9 314.3,288.9 315.0,289.0 315.6,289.0 316.3,289.0 316.9,289.0 317.6,289.0 318.2,289.0 318.9,289.0 319.5,289.1 320.2,289.1 320.8,289.1 321.5,289.1" fill="none" stroke="#000000" stroke-width="1.7" stroke-linejoin="round"/>
<polyline points="61.5,284.5 62.2,284.5 62.8,284.5 63.5,284.5 64.1,284.5 64.8,284.5 65.4,284.5 66.1,284.5 66.7,284.5 67.4,284.5 68.0,284.6 68.7,284.6 69.3,284.6 70.0,284.6 70.6,284.6 71.3,284.6 71.9,284.6 72.6,284.6 73.2,284.6 73.9,284.6 74.5,284.6 75.2,284.6 75.8,284.6 76.5,284.6 77.1,284.7 77.8,284.7 78.4,284.7 79.1,284.7 79.7,284.7 80.4,284.7 81.0,284.7 81.7,284.7 82.4,284.7 83.0,284.7 83.7,284.7 84.3,284.7 85.0,284.8 85.6,284.8 86.3,284.8 86.9,284.8 87.6,284.8 88.2,284.8 88.9,284.8 89.5,284.8 90.2,284.8 90.8,284.8 91.5,284.8 92.1,284.9 92.8,284.9 93.4,284.9 94.1,284.9 94.7,284.9 95.4,284.9 96.0,284.9 96.7,284.9 97.3,284.9 98.0,284.9 98.6,284.9 99.3,285.0 99.9,285.0 100.6,285.0 101.2,285.0 101.9,285.0 102.6,285.0 103.2,285.0 103.9,285.0 104.5,285.0 105.2,285.0 105.8,285.1 106.5,285.1 107.1,285.1 107.8,285.1 108.4,285.1 109.1,285.1 109.7,285.1 110.4,285.1 111.0,285.1 111.7,285.1 112.3,285.1 113.0,285.2 113.6,285.2 114.3,285.2 114.9,285.2 115.6,285.2 116.2,285.2 116.9,285.2 117.5,285.2 118.2,285.2 118.8,285.2 119.5,285.3 120.1,285.3 120.8,285.3 121.4,285.3 122.1,285.3 122.8,285.3 123.4,285.3 124.1,285.3 124.7,285.3 125.4,285.4 126.0,285.4 126.7,285.4 127.3,285.4 128.0,285.4 128.6,285.4 129.3,285.4 129.9,285.4 130.6,285.4 131.2,285.4 131.9,285.5 132.5,285.5 133.2,285.5 133.8,285.5 134.5,285.5 135.1,285.5 135.8,285.5 136.4,285.5 137.1,285.5 137.7,285.6 138.4,285.6 139.0,285.6 139.7,285.6 140.3,285.6 141.0,285.6 141.7,285.6 142.3,285.6 143.0,285.6 143.6,285.7 144.3,285.7 144.9,285.7 145.6,285.7 146.2,285.7 146.9,285.7 147.5,285.7 148.2,285.7 148.8,285.7 149.5,285.8 150.1,285.8 150.8,285.8 151.4,285.8 152.1,285.8 152.7,285.8 153.4,285.8 154.0,285.8 154.7,285.8 155.3,285.9 156.0,285.9 156.6,285.9 157.3,285.9 157.9,285.9 158.6,285.9 159.2,285.9 159.9,285.9 160.5,285.9 161.2,286.0 161.9,286.0 162.5,286.0 163.2,286.0 163.8,286.0 164.5,286.0 165.1,286.0 165.8,286.0 166.4,286.0 167.1,286.1 167.7,286.1 168.4,286.1 169.0,286.1 169.7,286.1 170.3,286.1 171.0,286.1 171.6,286.1 172.3,286.2 172.9,286.2 173.6,286.2 174.2,286.2 174.9,286.2 175.5,286.2 176.2,286.2 176.8,286.2 177.5,286.2 178.1,286.3 178.8,286.3 179.4,286.3 180.1,286.3 180.7,286.3 181.4,286.3 182.1,286.3 182.7,286.3 183.4,286.4 184.0,286.4 184.7,286.4 185.3,286.4 186.0,286.4 186.6,286.4 187.3,286.4 187.9,286.4 188.6,286.4 189.2,286.5 189.9,286.5 190.5,286.5 191.2,286.5 191.8,286.5 192.5,286.5 193.1,286.5 193.8,286.5 194.4,286.6 195.1,286.6 195.7,286.6 196.4,286.6 197.0,286.6 197.7,286.6 198.3,286.6 199.0,286.6 199.6,286.7 200.3,286.7 200.9,286.7 201.6,286.7 202.3,286.7 202.9,286.7 203.6,286.7 204.2,286.7 204.9,286.8 205.5,286.8 206.2,286.8 206.8,286.8 207.5,286.8 208.1,286.8 208.8,286.8 209.4,286.8 210.1,286.8 210.7,286.9 211.4,286.9 212.0,286.9 212.7,286.9 213.3,286.9 214.0,286.9 214.6,286.9 215.3,286.9 215.9,287.0 216.6,287.0 217.2,287.0 217.9,287.0 218.5,287.0 219.2,287.0 219.8,287.0 220.5,287.0 221.1,287.1 221.8,287.1 222.5,287.1 223.1,287.1 223.8,287.1 224.4,287.1 225.1,287.1 225.7,287.1 226.4,287.2 227.0,287.2 227.7,287.2 228.3,287.2 229.0,287.2 229.6,287.2 230.3,287.2 230.9,287.3 231.6,287.3 232.2,287.3 232.9,287.3 233.5,287.3 234.2,287.3 234.8,287.3 235.5,287.3 236.1,287.4 236.8,287.4 237.4,287.4 238.1,287.4 238.7,287.4 239.4,287.4 240.0,287.4 240.7,287.4 241.3,287.5 242.0,287.5 242.7,287.5 243.3,287.5 244.0,287.5 244.6,287.5 245.3,287.5 245.9,287.5 246.6,287.6 247.2,287.6 247.9,287.6 248.5,287.6 249.2,287.6 249.8,287.6 250.5,287.6 251.1,287.6 251.8,287.7 252.4,287.7 253.1,287.7 253.7,287.7 254.4,287.7 255.0,287.7 255.7,287.7 256.3,287.8 257.0,287.8 257.6,287.8 258.3,287.8 258.9,287.8 259.6,287.8 260.2,287.8 260.9,287.8 261.6,287.9 262.2,287.9 262.9,287.9 263.5,287.9 264.2,287.9 264.8,287.9 265.5,287.9 266.1,287.9 266.8,288.0 267.4,288.0 268.1,288.0 268.7,288.0 269.4,288.0 270.0,288.0 270.7,288.0 271.3,288.1 272.0,288.1 272.6,288.1 273.3,288.1 273.9,288.1 274.6,288.1 275.2,288.1 275.9,288.1 276.5,288.2 277.2,288.2 277.8,288.2 278.5,288.2 279.1,288.2 279.8,288.2 280.4,288.2 281.1,288.3 281.8,288.3 282.4,288.3 283.1,288.3 283.7,288.3 284.4,288.3 285.0,288.3 285.7,288.3 286.3,288.4 287.0,288.4 287.6,288.4 288.3,288.4 288.9,288.4 289.6,288.4 290.2,288.4 290.9,288.5 291.5,288.5 292.2,288.5 292.8,288.5 293.5,288.5 294.1,288.5 294.8,288.5 295.4,288.6 296.1,288.6 296.7,288.6 297.4,288.6 298.0,288.6 298.7,288.6 299.3,288.6 300.0,288.6 300.6,288.7 301.3,288.7 302.0,288.7 302.6,288.7 303.3,288.7 303.9,288.7 304.6,288.7 305.2,288.8 305.9,288.8 306.5,288.8 307.2,288.8 307.8,288.8 308.5,288.8 309.1,288.8 309.8,288.9 310.4,288.9 311.1,288.9 311.7,288.9 312.4,288.9 313.0,288.9 313.7,288.9 314.3,288.9 315.0,289.0 315.6,289.0 316.3,289.0 316.9,289.0 317.6,289.0 318.2,289.0 318.9,289.0 319.5,289.1 320.2,289.1 320.8,289.1 321.5,289.1" fill="none" stroke="#ff0000" stroke-width="1.6" stroke-dasharray="3.6,2.1" stroke-linejoin="round"/>
<path d="M420.00,284.80H680.55" stroke="#2a2a2a" stroke-width="1.3"/>
<path d="M420.00,493.50H680.55" stroke="#2a2a2a" stroke-width="1"/>
<path d="M420.50,284.15V494.00" stroke="#2a2a2a" stroke-width="1"/>
<path d="M679.90,284.15V494.00" stroke="#2a2a2a" stroke-width="1.3"/>
<path d="M420.50,493.5V497.5M429.50,493.5V495.5M437.50,493.5V497.5M446.50,493.5V495.5M455.50,493.5V497.5M463.50,493.5V495.5M472.50,493.5V497.5M480.50,493.5V495.5M489.50,493.5V497.5M498.50,493.5V495.5M506.50,493.5V497.5M515.50,493.5V495.5M524.50,493.5V497.5M532.50,493.5V495.5M541.50,493.5V497.5M550.50,493.5V495.5M558.50,493.5V497.5M567.50,493.5V495.5M575.50,493.5V497.5M584.50,493.5V495.5M593.50,493.5V497.5M601.50,493.5V495.5M610.50,493.5V497.5M619.50,493.5V495.5M627.50,493.5V497.5M636.50,493.5V495.5M644.50,493.5V497.5M653.50,493.5V495.5M662.50,493.5V497.5M670.50,493.5V495.5M679.50,493.5V497.5M420.5,493.50h-4M420.5,472.50h-2M420.5,451.50h-4M420.5,430.50h-2M420.5,409.50h-4M420.5,389.50h-2M420.5,368.50h-4M420.5,347.50h-2M420.5,326.50h-4M420.5,305.50h-2M420.5,284.50h-4" stroke="#2a2a2a" stroke-width="1" fill="none"/>
<text x="420.50" y="508.3" text-anchor="middle" class="tk">0</text>
<text x="437.77" y="508.3" text-anchor="middle" class="tk">1</text>
<text x="455.03" y="508.3" text-anchor="middle" class="tk">2</text>
<text x="472.30" y="508.3" text-anchor="middle" class="tk">3</text>
<text x="489.57" y="508.3" text-anchor="middle" class="tk">4</text>
<text x="506.83" y="508.3" text-anchor="middle" class="tk">5</text>
<text x="524.10" y="508.3" text-anchor="middle" class="tk">6</text>
<text x="541.37" y="508.3" text-anchor="middle" class="tk">7</text>
<text x="558.63" y="508.3" text-anchor="middle" class="tk">8</text>
<text x="575.90" y="508.3" text-anchor="middle" class="tk">9</text>
<text x="593.17" y="508.3" text-anchor="middle" class="tk">10</text>
<text x="610.43" y="508.3" text-anchor="middle" class="tk">11</text>
<text x="627.70" y="508.3" text-anchor="middle" class="tk">12</text>
<text x="644.97" y="508.3" text-anchor="middle" class="tk">13</text>
<text x="662.23" y="508.3" text-anchor="middle" class="tk">14</text>
<text x="679.50" y="508.3" text-anchor="middle" class="tk">15</text>
<text x="414.0" y="497.00" text-anchor="end" class="tk">-50</text>
<text x="414.0" y="455.20" text-anchor="end" class="tk">-40</text>
<text x="414.0" y="413.40" text-anchor="end" class="tk">-30</text>
<text x="414.0" y="371.60" text-anchor="end" class="tk">-20</text>
<text x="414.0" y="329.80" text-anchor="end" class="tk">-10</text>
<text x="414.0" y="288.00" text-anchor="end" class="tk">0</text>
<text x="550.0" y="525.8" text-anchor="middle" class="ti">Frequency(GHz)</text>
<clipPath id="cpd"><rect x="420.0" y="284.0" width="260.0" height="210.0"/></clipPath>
<g clip-path="url(#cpd)">
<polyline points="421.0,451.7 421.1,451.7 421.3,450.8 421.4,445.3 421.5,440.5 421.7,436.3 421.8,432.6 421.9,429.3 422.1,426.3 422.2,423.5 422.3,421.0 422.4,418.6 422.6,416.4 422.7,414.4 422.8,412.5 423.0,410.8 423.1,409.2 423.2,407.6 423.3,406.2 423.5,404.8 423.6,403.5 423.7,402.3 423.9,401.2 424.0,400.1 424.1,399.1 424.3,398.2 424.4,397.3 424.5,396.5 424.6,395.7 424.8,395.0 424.9,394.3 425.0,393.6 425.2,393.0 425.3,392.5 425.4,392.0 425.5,391.5 425.7,391.0 425.8,390.6 425.9,390.3 426.1,390.0 426.2,389.7 426.3,389.4 426.4,389.2 426.6,389.0 426.7,388.9 426.8,388.7 427.0,388.7 427.1,388.6 427.2,388.6 427.4,388.6 427.5,388.7 427.6,388.7 427.7,388.9 427.9,389.0 428.0,389.2 428.1,389.4 428.3,389.7 428.4,390.0 428.5,390.3 428.6,390.6 428.8,391.0 428.9,391.5 429.0,391.9 429.2,392.5 429.3,393.0 429.4,393.6 429.6,394.2 429.7,394.9 429.8,395.7 429.9,396.4 430.1,397.3 430.2,398.2 430.3,399.1 430.5,400.1 430.6,401.2 430.7,402.3 430.8,403.5 431.0,404.7 431.1,406.1 431.2,407.5 431.4,409.1 431.5,410.7 431.6,412.4 431.8,414.3 431.9,416.3 432.0,418.4 432.1,420.8 432.3,423.3 432.4,426.0 432.5,429.0 432.7,432.3 432.8,436.0 432.9,440.1 433.0,444.7 433.2,450.1 433.3,456.5 433.4,464.3 433.6,474.3 433.7,487.6 433.8,487.6 433.9,487.6 434.1,487.6 434.2,487.6 434.3,478.9 434.5,468.0 434.6,459.6 434.7,452.9 434.9,447.2 435.0,442.4 435.1,438.1 435.2,434.3 435.4,430.9 435.5,427.9 435.6,425.1 435.8,422.5 435.9,420.1 436.0,417.9 436.1,415.9 436.3,414.0 436.4,412.2 436.5,410.5 436.7,408.9 436.8,407.5 436.9,406.1 437.1,404.8 437.2,403.6 437.3,402.4 437.4,401.3 437.6,400.3 437.7,399.3 437.8,398.4 438.0,397.6 438.1,396.8 438.2,396.0 438.3,395.3 438.5,394.6 438.6,394.0 438.7,393.4 438.9,392.9 439.0,392.4 439.1,391.9 439.3,391.5 439.4,391.1 439.5,390.8 439.6,390.4 439.8,390.1 439.9,389.9 440.0,389.7 440.2,389.5 440.3,389.3 440.4,389.2 440.5,389.1 440.7,389.0 440.8,389.0 440.9,389.0 441.1,389.0 441.2,389.1 441.3,389.2 441.4,389.3 441.6,389.5 441.7,389.7 441.8,389.9 442.0,390.1 442.1,390.4 442.2,390.7 442.4,391.1 442.5,391.5 442.6,391.9 442.7,392.4 442.9,392.9 443.0,393.4 443.1,394.0 443.3,394.6 443.4,395.3 443.5,396.0 443.6,396.7 443.8,397.6 443.9,398.4 444.0,399.3 444.2,400.3 444.3,401.3 444.4,402.4 444.6,403.5 444.7,404.7 444.8,406.0 444.9,407.4 445.1,408.9 445.2,410.4 445.3,412.1 445.5,413.8 445.6,415.7 445.7,417.8 445.8,420.0 446.0,422.3 446.1,424.9 446.2,427.6 446.4,430.7 446.5,434.0 446.6,437.8 446.7,442.0 446.9,446.8 447.0,452.3 447.1,458.9 447.3,467.0 447.4,469.3 447.5,469.3 447.7,469.3 447.8,469.3 447.9,469.3 448.0,469.3 448.2,469.3 448.3,466.8 448.4,458.8 448.6,452.3 448.7,446.7 448.8,442.0 448.9,437.8 449.1,434.1 449.2,430.8 449.3,427.7 449.5,425.0 449.6,422.4 449.7,420.1 449.9,417.9 450.0,415.9 450.1,414.0 450.2,412.2 450.4,410.6 450.5,409.0 450.6,407.5 450.8,406.2 450.9,404.9 451.0,403.7 451.1,402.5 451.3,401.4 451.4,400.4 451.5,399.4 451.7,398.5 451.8,397.7 451.9,396.9 452.1,396.1 452.2,395.4 452.3,394.7 452.4,394.1 452.6,393.5 452.7,393.0 452.8,392.5 453.0,392.0 453.1,391.6 453.2,391.2 453.3,390.8 453.5,390.5 453.6,390.2 453.7,389.9 453.9,389.7 454.0,389.5 454.1,389.3 454.2,389.2 454.4,389.1 454.5,389.0 454.6,389.0 454.8,389.0 454.9,389.0 455.0,389.0 455.2,389.1 455.3,389.2 455.4,389.3 455.5,389.5 455.7,389.7 455.8,389.9 455.9,390.2 456.1,390.5 456.2,390.8 456.3,391.2 456.4,391.6 456.6,392.0 456.7,392.5 456.8,393.0 457.0,393.6 457.1,394.2 457.2,394.8 457.4,395.5 457.5,396.2 457.6,396.9 457.7,397.8 457.9,398.6 458.0,399.6 458.1,400.5 458.3,401.6 458.4,402.7 458.5,403.9 458.6,405.1 458.8,406.4 458.9,407.8 459.0,409.3 459.2,410.9 459.3,412.6 459.4,414.4 459.6,416.4 459.7,418.5 459.8,420.7 459.9,423.1 460.1,425.8 460.2,428.7 460.3,431.9 460.5,435.4 460.6,439.3 460.7,443.8 460.8,448.9 461.0,454.9 461.1,462.2 461.2,471.3 461.4,471.3 461.5,471.3 461.6,471.3 461.7,471.3 461.9,471.3 462.0,471.3 462.1,470.2 462.3,461.2 462.4,453.9 462.5,448.0 462.7,442.8 462.8,438.4 462.9,434.4 463.0,430.9 463.2,427.7 463.3,424.8 463.4,422.1 463.6,419.7 463.7,417.4 463.8,415.3 463.9,413.3 464.1,411.5 464.2,409.8 464.3,408.2 464.5,406.7 464.6,405.2 464.7,403.9 464.9,402.6 465.0,401.4 465.1,400.3 465.2,399.3 465.4,398.3 465.5,397.3 465.6,396.4 465.8,395.6 465.9,394.8 466.0,394.1 466.1,393.4 466.3,392.7 466.4,392.1 466.5,391.5 466.7,391.0 466.8,390.5 466.9,390.1 467.1,389.6 467.2,389.3 467.3,388.9 467.4,388.6 467.6,388.3 467.7,388.1 467.8,387.9 468.0,387.7 468.1,387.6 468.2,387.4 468.3,387.4 468.5,387.3 468.6,387.3 468.7,387.3 468.9,387.4 469.0,387.5 469.1,387.6 469.2,387.7 469.4,387.9 469.5,388.1 469.6,388.4 469.8,388.7 469.9,389.0 470.0,389.4 470.2,389.7 470.3,390.2 470.4,390.6 470.5,391.1 470.7,391.7 470.8,392.3 470.9,392.9 471.1,393.5 471.2,394.3 471.3,395.0 471.4,395.8 471.6,396.7 471.7,397.6 471.8,398.6 472.0,399.6 472.1,400.7 472.2,401.8 472.4,403.1 472.5,404.4 472.6,405.8 472.7,407.3 472.9,408.8 473.0,410.5 473.1,412.3 473.3,414.3 473.4,416.3 473.5,418.6 473.6,421.0 473.8,423.6 473.9,426.4 474.0,429.6 474.2,433.0 474.3,436.9 474.4,441.3 474.6,446.3 474.7,452.2 474.8,459.2 474.9,468.0 475.1,472.6 475.2,472.6 475.3,472.6 475.5,472.6 475.6,472.6 475.7,472.6 475.8,470.4 476.0,461.0 476.1,453.6 476.2,447.4 476.4,442.2 476.5,437.7 476.6,433.7 476.7,430.1 476.9,426.8 477.0,423.9 477.1,421.2 477.3,418.7 477.4,416.4 477.5,414.3 477.7,412.3 477.8,410.5 477.9,408.8 478.0,407.2 478.2,405.6 478.3,404.2 478.4,402.9 478.6,401.6 478.7,400.4 478.8,399.3 478.9,398.2 479.1,397.2 479.2,396.3 479.3,395.4 479.5,394.6 479.6,393.8 479.7,393.1 479.9,392.4 480.0,391.7 480.1,391.1 480.2,390.6 480.4,390.0 480.5,389.6 480.6,389.1 480.8,388.7 480.9,388.3 481.0,388.0 481.1,387.7 481.3,387.4 481.4,387.2 481.5,387.0 481.7,386.8 481.8,386.7 481.9,386.6 482.1,386.5 482.2,386.5 482.3,386.5 482.4,386.5 482.6,386.6 482.7,386.7 482.8,386.8 483.0,387.0 483.1,387.2 483.2,387.4 483.3,387.7 483.5,388.0 483.6,388.3 483.7,388.7 483.9,389.1 484.0,389.6 484.1,390.0 484.2,390.6 484.4,391.1 484.5,391.7 484.6,392.4 484.8,393.1 484.9,393.8 485.0,394.6 485.2,395.4 485.3,396.3 485.4,397.3 485.5,398.3 485.7,399.3 485.8,400.5 485.9,401.7 486.1,403.0 486.2,404.3 486.3,405.7 486.4,407.3 486.6,408.9 486.7,410.7 486.8,412.5 487.0,414.5 487.1,416.7 487.2,419.0 487.4,421.5 487.5,424.3 487.6,427.3 487.7,430.6 487.9,434.3 488.0,438.4 488.1,443.1 488.3,448.5 488.4,454.9 488.5,462.7 488.6,469.3 488.8,469.3 488.9,469.3 489.0,469.3 489.2,469.3 489.3,469.3 489.4,469.3 489.5,464.7 489.7,456.4 489.8,449.7 489.9,444.1 490.1,439.2 490.2,435.0 490.3,431.2 490.5,427.8 490.6,424.8 490.7,422.0 490.8,419.4 491.0,417.0 491.1,414.8 491.2,412.8 491.4,410.9 491.5,409.1 491.6,407.5 491.7,405.9 491.9,404.5 492.0,403.1 492.1,401.8 492.3,400.6 492.4,399.4 492.5,398.4 492.7,397.3 492.8,396.4 492.9,395.5 493.0,394.6 493.2,393.9 493.3,393.1 493.4,392.4 493.6,391.8 493.7,391.1 493.8,390.6 493.9,390.1 494.1,389.6 494.2,389.1 494.3,388.7 494.5,388.3 494.6,388.0 494.7,387.7 494.9,387.4 495.0,387.2 495.1,387.0 495.2,386.8 495.4,386.7 495.5,386.6 495.6,386.5 495.8,386.5 495.9,386.5 496.0,386.5 496.1,386.5 496.3,386.6 496.4,386.7 496.5,386.9 496.7,387.1 496.8,387.3 496.9,387.6 497.0,387.8 497.2,388.2 497.3,388.5 497.4,388.9 497.6,389.4 497.7,389.8 497.8,390.3 498.0,390.9 498.1,391.5 498.2,392.1 498.3,392.8 498.5,393.5 498.6,394.3 498.7,395.1 498.9,396.0 499.0,397.0 499.1,398.0 499.2,399.0 499.4,400.2 499.5,401.3 499.6,402.6 499.8,404.0 499.9,405.4 500.0,407.0 500.2,408.6 500.3,410.3 500.4,412.2 500.5,414.2 500.7,416.4 500.8,418.7 500.9,421.3 501.1,424.1 501.2,427.1 501.3,430.4 501.4,434.2 501.6,438.4 501.7,443.2 501.8,448.7 502.0,455.3 502.1,463.5 502.2,469.3 502.4,469.3 502.5,469.3 502.6,469.3 502.7,469.3 502.9,469.3 503.0,469.3 503.1,462.4 503.3,454.5 503.4,448.0 503.5,442.5 503.6,437.7 503.8,433.5 503.9,429.8 504.0,426.5 504.2,423.5 504.3,420.7 504.4,418.2 504.5,415.8 504.7,413.6 504.8,411.6 504.9,409.7 505.1,408.0 505.2,406.3 505.3,404.8 505.5,403.3 505.6,401.9 505.7,400.6 505.8,399.4 506.0,398.3 506.1,397.2 506.2,396.2 506.4,395.2 506.5,394.3 506.6,393.5 506.7,392.7 506.9,391.9 507.0,391.2 507.1,390.6 507.3,390.0 507.4,389.4 507.5,388.9 507.7,388.4 507.8,387.9 507.9,387.5 508.0,387.1 508.2,386.8 508.3,386.5 508.4,386.2 508.6,386.0 508.7,385.8 508.8,385.6 508.9,385.5 509.1,385.3 509.2,385.3 509.3,385.2 509.5,385.2 509.6,385.2 509.7,385.3 509.9,385.3 510.0,385.5 510.1,385.6 510.2,385.8 510.4,386.0 510.5,386.2 510.6,386.5 510.8,386.8 510.9,387.2 511.0,387.6 511.1,388.0 511.3,388.5 511.4,389.0 511.5,389.5 511.7,390.1 511.8,390.8 511.9,391.5 512.0,392.2 512.2,393.0 512.3,393.8 512.4,394.7 512.6,395.6 512.7,396.6 512.8,397.7 513.0,398.8 513.1,400.0 513.2,401.3 513.3,402.6 513.5,404.1 513.6,405.6 513.7,407.3 513.9,409.0 514.0,410.9 514.1,412.9 514.2,415.1 514.4,417.5 514.5,420.1 514.6,422.9 514.8,425.9 514.9,429.3 515.0,433.1 515.2,437.4 515.3,442.3 515.4,448.0 515.5,454.9 515.7,463.3 515.8,463.4 515.9,463.4 516.1,463.4 516.2,463.4 516.3,463.4 516.4,463.4 516.6,463.4 516.7,460.1 516.8,452.4 517.0,446.1 517.1,440.8 517.2,436.1 517.4,432.0 517.5,428.4 517.6,425.1 517.7,422.1 517.9,419.3 518.0,416.8 518.1,414.5 518.3,412.3 518.4,410.3 518.5,408.4 518.6,406.6 518.8,405.0 518.9,403.4 519.0,401.9 519.2,400.5 519.3,399.2 519.4,398.0 519.5,396.9 519.7,395.8 519.8,394.7 519.9,393.7 520.1,392.8 520.2,391.9 520.3,391.1 520.5,390.3 520.6,389.6 520.7,388.9 520.8,388.3 521.0,387.7 521.1,387.1 521.2,386.6 521.4,386.1 521.5,385.6 521.6,385.2 521.7,384.8 521.9,384.5 522.0,384.2 522.1,383.9 522.3,383.6 522.4,383.4 522.5,383.2 522.7,383.1 522.8,382.9 522.9,382.8 523.0,382.8 523.2,382.7 523.3,382.7 523.4,382.8 523.6,382.9 523.7,383.0 523.8,383.1 523.9,383.2 524.1,383.4 524.2,383.7 524.3,383.9 524.5,384.2 524.6,384.5 524.7,384.9 524.9,385.3 525.0,385.7 525.1,386.2 525.2,386.7 525.4,387.2 525.5,387.8 525.6,388.4 525.8,389.1 525.9,389.8 526.0,390.6 526.1,391.4 526.3,392.2 526.4,393.1 526.5,394.1 526.7,395.1 526.8,396.2 526.9,397.3 527.0,398.5 527.2,399.8 527.3,401.2 527.4,402.7 527.6,404.2 527.7,405.9 527.8,407.6 528.0,409.5 528.1,411.6 528.2,413.7 528.3,416.1 528.5,418.6 528.6,421.4 528.7,424.5 528.9,427.8 529.0,431.6 529.1,435.8 529.2,440.6 529.4,446.2 529.5,452.8 529.6,461.0 529.8,462.1 529.9,462.1 530.0,462.1 530.2,462.1 530.3,462.1 530.4,462.1 530.5,462.1 530.7,458.1 530.8,450.1 530.9,443.6 531.1,438.2 531.2,433.4 531.3,429.3 531.4,425.6 531.6,422.2 531.7,419.2 531.8,416.4 532.0,413.9 532.1,411.6 532.2,409.4 532.4,407.4 532.5,405.5 532.6,403.7 532.7,402.1 532.9,400.6 533.0,399.1 533.1,397.8 533.3,396.5 533.4,395.3 533.5,394.1 533.6,393.1 533.8,392.1 533.9,391.1 534.0,390.2 534.2,389.4 534.3,388.6 534.4,387.9 534.5,387.2 534.7,386.5 534.8,385.9 534.9,385.4 535.1,384.8 535.2,384.4 535.3,383.9 535.5,383.5 535.6,383.2 535.7,382.8 535.8,382.5 536.0,382.3 536.1,382.1 536.2,381.9 536.4,381.7 536.5,381.6 536.6,381.5 536.7,381.5 536.9,381.5 537.0,381.5 537.1,381.5 537.3,381.6 537.4,381.7 537.5,381.9 537.7,382.1 537.8,382.3 537.9,382.6 538.0,382.9 538.2,383.2 538.3,383.6 538.4,384.0 538.6,384.4 538.7,384.9 538.8,385.4 538.9,386.0 539.1,386.6 539.2,387.2 539.3,387.9 539.5,388.7 539.6,389.5 539.7,390.3 539.8,391.2 540.0,392.2 540.1,393.2 540.2,394.3 540.4,395.5 540.5,396.7 540.6,398.0 540.8,399.4 540.9,400.9 541.0,402.5 541.1,404.2 541.3,406.0 541.4,408.0 541.5,410.1 541.7,412.3 541.8,414.8 541.9,417.4 542.0,420.3 542.2,423.5 542.3,427.1 542.4,431.0 542.6,435.5 542.7,440.7 542.8,446.8 543.0,454.1 543.1,463.3 543.2,463.4 543.3,463.4 543.5,463.4 543.6,463.4 543.7,463.4 543.9,463.4 544.0,459.8 544.1,450.9 544.2,443.7 544.4,437.8 544.5,432.8 544.6,428.4 544.8,424.5 544.9,421.0 545.0,417.8 545.2,415.0 545.3,412.3 545.4,409.9 545.5,407.7 545.7,405.6 545.8,403.7 545.9,401.9 546.1,400.3 546.2,398.7 546.3,397.2 546.4,395.9 546.6,394.6 546.7,393.4 546.8,392.2 547.0,391.2 547.1,390.2 547.2,389.3 547.3,388.4 547.5,387.6 547.6,386.8 547.7,386.1 547.9,385.4 548.0,384.8 548.1,384.2 548.3,383.7 548.4,383.2 548.5,382.8 548.6,382.4 548.8,382.1 548.9,381.8 549.0,381.5 549.2,381.2 549.3,381.1 549.4,380.9 549.5,380.8 549.7,380.7 549.8,380.6 549.9,380.6 550.1,380.6 550.2,380.7 550.3,380.8 550.5,380.9 550.6,381.0 550.7,381.2 550.8,381.5 551.0,381.8 551.1,382.1 551.2,382.4 551.4,382.8 551.5,383.3 551.6,383.8 551.7,384.3 551.9,384.9 552.0,385.5 552.1,386.2 552.3,386.9 552.4,387.7 552.5,388.5 552.7,389.4 552.8,390.4 552.9,391.4 553.0,392.5 553.2,393.7 553.3,394.9 553.4,396.3 553.6,397.7 553.7,399.2 553.8,400.8 553.9,402.6 554.1,404.5 554.2,406.5 554.3,408.7 554.5,411.1 554.6,413.7 554.7,416.5 554.8,419.6 555.0,423.1 555.1,426.9 555.2,431.3 555.4,436.3 555.5,442.2 555.6,449.3 555.8,454.6 555.9,454.6 556.0,454.6 556.1,454.6 556.3,454.6 556.4,454.6 556.5,454.6 556.7,454.6 556.8,453.2 556.9,445.9 557.0,439.8 557.2,434.6 557.3,430.0 557.4,426.0 557.6,422.5 557.7,419.2 557.8,416.3 558.0,413.6 558.1,411.1 558.2,408.8 558.3,406.6 558.5,404.7 558.6,402.8 558.7,401.0 558.9,399.4 559.0,397.9 559.1,396.4 559.2,395.1 559.4,393.8 559.5,392.6 559.6,391.4 559.8,390.3 559.9,389.3 560.0,388.3 560.2,387.4 560.3,386.6 560.4,385.8 560.5,385.0 560.7,384.3 560.8,383.6 560.9,383.0 561.1,382.4 561.2,381.8 561.3,381.3 561.4,380.9 561.6,380.4 561.7,380.0 561.8,379.7 562.0,379.3 562.1,379.0 562.2,378.8 562.3,378.5 562.5,378.3 562.6,378.1 562.7,378.0 562.9,377.9 563.0,377.8 563.1,377.8 563.3,377.8 563.4,377.8 563.5,377.9 563.6,377.9 563.8,378.1 563.9,378.2 564.0,378.4 564.2,378.6 564.3,378.9 564.4,379.2 564.5,379.5 564.7,379.8 564.8,380.2 564.9,380.7 565.1,381.1 565.2,381.6 565.3,382.2 565.5,382.8 565.6,383.4 565.7,384.1 565.8,384.8 566.0,385.5 566.1,386.3 566.2,387.2 566.4,388.1 566.5,389.1 566.6,390.1 566.7,391.2 566.9,392.4 567.0,393.6 567.1,395.0 567.3,396.4 567.4,397.9 567.5,399.5 567.7,401.2 567.8,403.0 567.9,404.9 568.0,407.0 568.2,409.3 568.3,411.7 568.4,414.4 568.6,417.3 568.7,420.5 568.8,424.0 568.9,428.0 569.1,432.5 569.2,437.7 569.3,443.8 569.5,451.1 569.6,460.5 569.7,460.9 569.8,460.9 570.0,460.9 570.1,460.9 570.2,460.9 570.4,460.9 570.5,456.8 570.6,447.9 570.8,440.8 570.9,434.9 571.0,429.8 571.1,425.4 571.3,421.5 571.4,418.0 571.5,414.9 571.7,412.0 571.8,409.3 571.9,406.9 572.0,404.6 572.2,402.6 572.3,400.6 572.4,398.8 572.6,397.1 572.7,395.5 572.8,394.0 573.0,392.6 573.1,391.3 573.2,390.0 573.3,388.9 573.5,387.8 573.6,386.7 573.7,385.7 573.9,384.8 574.0,384.0 574.1,383.1 574.2,382.4 574.4,381.7 574.5,381.0 574.6,380.4 574.8,379.8 574.9,379.2 575.0,378.8 575.2,378.3 575.3,377.9 575.4,377.5 575.5,377.1 575.7,376.8 575.8,376.6 575.9,376.3 576.1,376.1 576.2,376.0 576.3,375.8 576.4,375.7 576.6,375.7 576.7,375.6 576.8,375.6 577.0,375.7 577.1,375.8 577.2,375.9 577.3,376.0 577.5,376.2 577.6,376.5 577.7,376.7 577.9,377.0 578.0,377.3 578.1,377.7 578.3,378.1 578.4,378.6 578.5,379.0 578.6,379.6 578.8,380.1 578.9,380.8 579.0,381.4 579.2,382.1 579.3,382.9 579.4,383.7 579.5,384.5 579.7,385.4 579.8,386.4 579.9,387.5 580.1,388.6 580.2,389.7 580.3,391.0 580.5,392.3 580.6,393.7 580.7,395.2 580.8,396.8 581.0,398.5 581.1,400.4 581.2,402.3 581.4,404.5 581.5,406.8 581.6,409.2 581.7,411.9 581.9,414.9 582.0,418.2 582.1,421.8 582.3,425.8 582.4,430.5 582.5,435.8 582.7,442.1 582.8,449.8 582.9,450.4 583.0,450.4 583.2,450.4 583.3,450.4 583.4,450.4 583.6,450.4 583.7,450.4 583.8,450.4 583.9,445.1 584.1,438.3 584.2,432.6 584.3,427.7 584.5,423.3 584.6,419.5 584.7,416.1 584.8,413.0 585.0,410.2 585.1,407.6 585.2,405.2 585.4,403.0 585.5,400.9 585.6,399.0 585.8,397.3 585.9,395.6 586.0,394.0 586.1,392.6 586.3,391.2 586.4,389.9 586.5,388.7 586.7,387.5 586.8,386.4 586.9,385.4 587.0,384.5 587.2,383.6 587.3,382.7 587.4,381.9 587.6,381.2 587.7,380.5 587.8,379.8 588.0,379.2 588.1,378.7 588.2,378.2 588.3,377.7 588.5,377.2 588.6,376.8 588.7,376.5 588.9,376.2 589.0,375.9 589.1,375.6 589.2,375.4 589.4,375.2 589.5,375.1 589.6,375.0 589.8,374.9 589.9,374.8 590.0,374.8 590.1,374.8 590.3,374.9 590.4,375.0 590.5,375.1 590.7,375.2 590.8,375.4 590.9,375.6 591.1,375.8 591.2,376.1 591.3,376.4 591.4,376.8 591.6,377.1 591.7,377.6 591.8,378.0 592.0,378.6 592.1,379.1 592.2,379.7 592.3,380.3 592.5,381.0 592.6,381.8 592.7,382.6 592.9,383.4 593.0,384.3 593.1,385.3 593.3,386.3 593.4,387.4 593.5,388.5 593.6,389.8 593.8,391.1 593.9,392.5 594.0,394.0 594.2,395.6 594.3,397.3 594.4,399.1 594.5,401.1 594.7,403.2 594.8,405.5 594.9,408.0 595.1,410.7 595.2,413.7 595.3,417.0 595.5,420.7 595.6,424.8 595.7,429.5 595.8,435.0 596.0,441.5 596.1,449.4 596.2,454.6 596.4,454.6 596.5,454.6 596.6,454.6 596.7,454.6 596.9,454.6 597.0,454.6 597.1,449.8 597.3,441.7 597.4,435.0 597.5,429.4 597.6,424.6 597.8,420.4 597.9,416.6 598.0,413.2 598.2,410.2 598.3,407.4 598.4,404.8 598.6,402.4 598.7,400.2 598.8,398.1 598.9,396.2 599.1,394.5 599.2,392.8 599.3,391.2 599.5,389.7 599.6,388.3 599.7,387.0 599.8,385.8 600.0,384.6 600.1,383.6 600.2,382.5 600.4,381.6 600.5,380.6 600.6,379.8 600.8,379.0 600.9,378.2 601.0,377.5 601.1,376.8 601.3,376.2 601.4,375.6 601.5,375.1 601.7,374.6 601.8,374.2 601.9,373.7 602.0,373.4 602.2,373.0 602.3,372.7 602.4,372.4 602.6,372.2 602.7,372.0 602.8,371.8 603.0,371.7 603.1,371.6 603.2,371.5 603.3,371.5 603.5,371.5 603.6,371.6 603.7,371.7 603.9,371.8 604.0,372.0 604.1,372.2 604.2,372.4 604.4,372.7 604.5,373.0 604.6,373.3 604.8,373.7 604.9,374.1 605.0,374.6 605.1,375.1 605.3,375.7 605.4,376.2 605.5,376.9 605.7,377.6 605.8,378.3 605.9,379.1 606.1,379.9 606.2,380.8 606.3,381.7 606.4,382.7 606.6,383.8 606.7,384.9 606.8,386.1 607.0,387.4 607.1,388.7 607.2,390.2 607.3,391.7 607.5,393.4 607.6,395.1 607.7,397.0 607.9,399.0 608.0,401.2 608.1,403.6 608.3,406.2 608.4,408.9 608.5,412.0 608.6,415.4 608.8,419.2 608.9,423.4 609.0,428.3 609.2,433.9 609.3,440.6 609.4,448.8 609.5,448.8 609.7,448.8 609.8,448.8 609.9,448.8 610.1,448.8 610.2,448.8 610.3,448.8 610.5,446.8 610.6,439.0 610.7,432.6 610.8,427.2 611.0,422.6 611.1,418.4 611.2,414.8 611.4,411.5 611.5,408.5 611.6,405.7 611.7,403.2 611.9,400.9 612.0,398.8 612.1,396.8 612.3,394.9 612.4,393.1 612.5,391.5 612.6,390.0 612.8,388.6 612.9,387.2 613.0,385.9 613.2,384.7 613.3,383.6 613.4,382.5 613.6,381.6 613.7,380.6 613.8,379.7 613.9,378.9 614.1,378.1 614.2,377.4 614.3,376.7 614.5,376.1 614.6,375.5 614.7,374.9 614.8,374.4 615.0,373.9 615.1,373.5 615.2,373.1 615.4,372.7 615.5,372.4 615.6,372.1 615.8,371.9 615.9,371.6 616.0,371.5 616.1,371.3 616.3,371.2 616.4,371.1 616.5,371.0 616.7,371.0 616.8,371.0 616.9,371.1 617.0,371.2 617.2,371.3 617.3,371.4 617.4,371.6 617.6,371.8 617.7,372.1 617.8,372.3 618.0,372.7 618.1,373.0 618.2,373.4 618.3,373.8 618.5,374.3 618.6,374.8 618.7,375.3 618.9,375.9 619.0,376.6 619.1,377.2 619.2,378.0 619.4,378.7 619.5,379.6 619.6,380.4 619.8,381.4 619.9,382.4 620.0,383.4 620.1,384.6 620.3,385.7 620.4,387.0 620.5,388.4 620.7,389.8 620.8,391.3 620.9,393.0 621.1,394.7 621.2,396.6 621.3,398.6 621.4,400.7 621.6,403.1 621.7,405.6 621.8,408.4 622.0,411.4 622.1,414.7 622.2,418.4 622.3,422.6 622.5,427.3 622.6,432.8 622.7,439.4 622.9,440.4 623.0,440.4 623.1,440.4 623.3,440.4 623.4,440.4 623.5,440.4 623.6,440.4 623.8,440.4 623.9,440.4 624.0,438.1 624.2,431.5 624.3,426.0 624.4,421.2 624.5,417.0 624.7,413.3 624.8,409.9 624.9,406.9 625.1,404.1 625.2,401.6 625.3,399.2 625.5,397.1 625.6,395.1 625.7,393.2 625.8,391.4 626.0,389.8 626.1,388.3 626.2,386.8 626.4,385.5 626.5,384.2 626.6,383.0 626.7,381.9 626.9,380.9 627.0,379.9 627.1,379.0 627.3,378.1 627.4,377.3 627.5,376.5 627.6,375.8 627.8,375.2 627.9,374.5 628.0,374.0 628.2,373.4 628.3,373.0 628.4,372.5 628.6,372.1 628.7,371.8 628.8,371.4 628.9,371.1 629.1,370.9 629.2,370.7 629.3,370.5 629.5,370.4 629.6,370.3 629.7,370.2 629.8,370.2 630.0,370.1 630.1,370.2 630.2,370.2 630.4,370.3 630.5,370.4 630.6,370.6 630.8,370.8 630.9,371.0 631.0,371.3 631.1,371.6 631.3,371.9 631.4,372.3 631.5,372.7 631.7,373.2 631.8,373.7 631.9,374.3 632.0,374.9 632.2,375.6 632.3,376.3 632.4,377.0 632.6,377.8 632.7,378.7 632.8,379.6 632.9,380.6 633.1,381.7 633.2,382.8 633.3,384.0 633.5,385.3 633.6,386.7 633.7,388.1 633.9,389.7 634.0,391.4 634.1,393.2 634.2,395.1 634.4,397.2 634.5,399.5 634.6,401.9 634.8,404.6 634.9,407.5 635.0,410.8 635.1,414.4 635.3,418.4 635.4,423.1 635.5,428.4 635.7,434.7 635.8,438.7 635.9,438.7 636.1,438.7 636.2,438.7 636.3,438.7 636.4,438.7 636.6,438.7 636.7,438.7 636.8,438.7 637.0,436.2 637.1,429.4 637.2,423.7 637.3,418.8 637.5,414.5 637.6,410.7 637.7,407.3 637.9,404.2 638.0,401.4 638.1,398.8 638.3,396.4 638.4,394.2 638.5,392.1 638.6,390.2 638.8,388.4 638.9,386.7 639.0,385.2 639.2,383.7 639.3,382.3 639.4,381.0 639.5,379.8 639.7,378.6 639.8,377.6 639.9,376.5 640.1,375.6 640.2,374.7 640.3,373.9 640.4,373.1 640.6,372.3 640.7,371.7 640.8,371.0 641.0,370.4 641.1,369.9 641.2,369.4 641.4,368.9 641.5,368.5 641.6,368.1 641.7,367.8 641.9,367.5 642.0,367.2 642.1,367.0 642.3,366.8 642.4,366.6 642.5,366.5 642.6,366.5 642.8,366.4 642.9,366.4 643.0,366.5 643.2,366.6 643.3,366.7 643.4,366.9 643.6,367.1 643.7,367.3 643.8,367.6 643.9,367.9 644.1,368.2 644.2,368.6 644.3,369.1 644.5,369.6 644.6,370.1 644.7,370.7 644.8,371.3 645.0,372.0 645.1,372.7 645.2,373.4 645.4,374.3 645.5,375.2 645.6,376.1 645.8,377.1 645.9,378.2 646.0,379.3 646.1,380.6 646.3,381.9 646.4,383.3 646.5,384.8 646.7,386.4 646.8,388.1 646.9,389.9 647.0,391.9 647.2,394.0 647.3,396.4 647.4,398.9 647.6,401.6 647.7,404.6 647.8,407.9 647.9,411.6 648.1,415.8 648.2,420.5 648.3,426.0 648.5,432.6 648.6,438.7 648.7,438.7 648.9,438.7 649.0,438.7 649.1,438.7 649.2,438.7 649.4,438.7 649.5,438.7 649.6,438.7 649.8,432.6 649.9,426.0 650.0,420.5 650.1,415.8 650.3,411.6 650.4,407.8 650.5,404.5 650.7,401.5 650.8,398.7 650.9,396.1 651.1,393.8 651.2,391.6 651.3,389.6 651.4,387.7 651.6,386.0 651.7,384.3 651.8,382.8 652.0,381.3 652.1,380.0 652.2,378.7 652.3,377.5 652.5,376.4 652.6,375.3 652.7,374.3 652.9,373.4 653.0,372.5 653.1,371.7 653.3,370.9 653.4,370.2 653.5,369.5 653.6,368.9 653.8,368.3 653.9,367.8 654.0,367.3 654.2,366.9 654.3,366.4 654.4,366.1 654.5,365.7 654.7,365.4 654.8,365.2 654.9,365.0 655.1,364.8 655.2,364.6 655.3,364.5 655.4,364.4 655.6,364.4 655.7,364.4 655.8,364.4 656.0,364.5 656.1,364.6 656.2,364.8 656.4,364.9 656.5,365.2 656.6,365.4 656.7,365.7 656.9,366.0 657.0,366.4 657.1,366.8 657.3,367.3 657.4,367.8 657.5,368.3 657.6,368.9 657.8,369.6 657.9,370.2 658.0,371.0 658.2,371.7 658.3,372.6 658.4,373.5 658.6,374.4 658.7,375.5 658.8,376.5 658.9,377.7 659.1,378.9 659.2,380.2 659.3,381.6 659.5,383.1 659.6,384.7 659.7,386.4 659.8,388.3 660.0,390.2 660.1,392.4 660.2,394.7 660.4,397.1 660.5,399.9 660.6,402.8 660.8,406.1 660.9,409.7 661.0,413.8 661.1,418.5 661.3,423.9 661.4,430.0 661.5,430.0 661.7,430.0 661.8,430.0 661.9,430.0 662.0,430.0 662.2,430.0 662.3,430.0 662.4,430.0 662.6,430.0 662.7,430.0 662.8,424.8 662.9,419.2 663.1,414.3 663.2,410.1 663.3,406.3 663.5,402.9 663.6,399.8 663.7,397.0 663.9,394.5 664.0,392.1 664.1,389.9 664.2,387.9 664.4,386.0 664.5,384.3 664.6,382.6 664.8,381.1 664.9,379.6 665.0,378.3 665.1,377.0 665.3,375.8 665.4,374.7 665.5,373.6 665.7,372.7 665.8,371.7 665.9,370.9 666.1,370.0 666.2,369.3 666.3,368.6 666.4,367.9 666.6,367.3 666.7,366.7 666.8,366.2 667.0,365.7 667.1,365.3 667.2,364.9 667.3,364.6 667.5,364.3 667.6,364.0 667.7,363.7 667.9,363.5 668.0,363.4 668.1,363.3 668.3,363.2 668.4,363.1 668.5,363.1 668.6,363.1 668.8,363.2 668.9,363.3 669.0,363.4 669.2,363.6 669.3,363.8 669.4,364.1 669.5,364.4 669.7,364.7 669.8,365.1 669.9,365.5 670.1,365.9 670.2,366.4 670.3,367.0 670.4,367.5 670.6,368.2 670.7,368.9 670.8,369.6 671.0,370.4 671.1,371.2 671.2,372.1 671.4,373.1 671.5,374.1 671.6,375.2 671.7,376.4 671.9,377.6 672.0,378.9 672.1,380.3 672.3,381.8 672.4,383.5 672.5,385.2 672.6,387.0 672.8,389.0 672.9,391.2 673.0,393.5 673.2,396.0 673.3,398.8 673.4,401.8 673.6,405.2 673.7,408.9 673.8,413.1 673.9,417.9 674.1,423.4 674.2,429.1 674.3,429.1 674.5,429.1 674.6,429.1 674.7,429.1 674.8,429.1 675.0,429.1 675.1,429.1 675.2,429.1 675.4,429.1 675.5,429.1 675.6,422.7 675.8,417.2 675.9,412.5 676.0,408.3 676.1,404.6 676.3,401.3 676.4,398.3 676.5,395.5 676.7,393.0 676.8,390.7 676.9,388.5 677.0,386.5 677.2,384.7 677.3,383.0 677.4,381.3 677.6,379.8 677.7,378.4 677.8,377.1 677.9,375.8 678.1,374.6 678.2,373.5 678.3,372.5 678.5,371.5 678.6,370.6 678.7,369.8 678.9,369.0 679.0,368.2 679.1,367.5 679.2,366.9 679.4,366.3 679.5,365.7" fill="none" stroke="#0000ff" stroke-width="1.7" stroke-linejoin="round"/>
<polyline points="421.0,451.7 421.1,451.7 421.3,449.9 421.4,444.4 421.5,439.7 421.7,435.5 421.8,431.8 421.9,428.4 422.1,425.4 422.2,422.6 422.3,420.1 422.4,417.7 422.6,415.6 422.7,413.5 422.8,411.7 423.0,409.9 423.1,408.3 423.2,406.7 423.3,405.3 423.5,403.9 423.6,402.6 423.7,401.4 423.9,400.3 424.0,399.2 424.1,398.2 424.3,397.3 424.4,396.4 424.5,395.5 424.6,394.7 424.8,394.0 424.9,393.3 425.0,392.6 425.2,392.0 425.3,391.5 425.4,390.9 425.5,390.5 425.7,390.0 425.8,389.6 425.9,389.2 426.1,388.9 426.2,388.6 426.3,388.3 426.4,388.1 426.6,387.9 426.7,387.7 426.8,387.6 427.0,387.5 427.1,387.4 427.2,387.4 427.4,387.4 427.5,387.4 427.6,387.5 427.7,387.6 427.9,387.7 428.0,387.9 428.1,388.1 428.3,388.3 428.4,388.6 428.5,388.9 428.6,389.2 428.8,389.6 428.9,390.0 429.0,390.4 429.2,390.9 429.3,391.4 429.4,392.0 429.6,392.6 429.7,393.2 429.8,393.9 429.9,394.6 430.1,395.4 430.2,396.3 430.3,397.1 430.5,398.1 430.6,399.1 430.7,400.1 430.8,401.3 431.0,402.5 431.1,403.7 431.2,405.1 431.4,406.5 431.5,408.0 431.6,409.6 431.8,411.4 431.9,413.2 432.0,415.2 432.1,417.4 432.3,419.7 432.4,422.1 432.5,424.8 432.7,427.8 432.8,431.1 432.9,434.7 433.0,438.7 433.2,443.3 433.3,448.6 433.4,454.8 433.6,462.4 433.7,472.0 433.8,485.2 433.9,506.0 434.1,506.0 434.2,506.0 434.3,496.5 434.5,479.9 434.6,468.5 434.7,459.9 434.9,453.0 435.0,447.2 435.1,442.2 435.2,437.9 435.4,434.1 435.5,430.6 435.6,427.5 435.8,424.7 435.9,422.0 436.0,419.6 436.1,417.4 436.3,415.4 436.4,413.4 436.5,411.6 436.7,409.9 436.8,408.4 436.9,406.9 437.1,405.5 437.2,404.2 437.3,402.9 437.4,401.8 437.6,400.7 437.7,399.6 437.8,398.7 438.0,397.7 438.1,396.9 438.2,396.0 438.3,395.3 438.5,394.5 438.6,393.9 438.7,393.2 438.9,392.6 439.0,392.1 439.1,391.6 439.3,391.1 439.4,390.6 439.5,390.2 439.6,389.9 439.8,389.5 439.9,389.2 440.0,389.0 440.2,388.7 440.3,388.5 440.4,388.3 440.5,388.2 440.7,388.1 440.8,388.0 440.9,387.9 441.1,387.9 441.2,387.9 441.3,388.0 441.4,388.0 441.6,388.1 441.7,388.3 441.8,388.4 442.0,388.6 442.1,388.8 442.2,389.1 442.4,389.4 442.5,389.7 442.6,390.1 442.7,390.5 442.9,390.9 443.0,391.4 443.1,391.9 443.3,392.4 443.4,393.0 443.5,393.6 443.6,394.3 443.8,395.0 443.9,395.7 444.0,396.5 444.2,397.4 444.3,398.3 444.4,399.2 444.6,400.3 444.7,401.3 444.8,402.5 444.9,403.7 445.1,404.9 445.2,406.3 445.3,407.7 445.5,409.3 445.6,410.9 445.7,412.7 445.8,414.5 446.0,416.5 446.1,418.7 446.2,421.0 446.4,423.5 446.5,426.2 446.6,429.2 446.7,432.4 446.9,436.1 447.0,440.1 447.1,444.7 447.3,450.1 447.4,456.3 447.5,464.0 447.7,473.7 447.8,487.0 447.9,506.0 448.0,506.0 448.2,506.0 448.3,496.3 448.4,479.9 448.6,468.7 448.7,460.1 448.8,453.3 448.9,447.5 449.1,442.6 449.2,438.2 449.3,434.4 449.5,431.0 449.6,427.9 449.7,425.0 449.9,422.4 450.0,420.0 450.1,417.8 450.2,415.7 450.4,413.8 450.5,412.0 450.6,410.3 450.8,408.7 450.9,407.2 451.0,405.8 451.1,404.5 451.3,403.3 451.4,402.1 451.5,401.0 451.7,400.0 451.8,399.0 451.9,398.1 452.1,397.2 452.2,396.4 452.3,395.6 452.4,394.8 452.6,394.2 452.7,393.5 452.8,392.9 453.0,392.3 453.1,391.8 453.2,391.3 453.3,390.9 453.5,390.5 453.6,390.1 453.7,389.7 453.9,389.4 454.0,389.1 454.1,388.9 454.2,388.7 454.4,388.5 454.5,388.3 454.6,388.2 454.8,388.1 454.9,388.0 455.0,388.0 455.2,388.0 455.3,388.0 455.4,388.0 455.5,388.1 455.7,388.2 455.8,388.3 455.9,388.5 456.1,388.7 456.2,388.9 456.3,389.2 456.4,389.5 456.6,389.8 456.7,390.2 456.8,390.6 457.0,391.0 457.1,391.5 457.2,392.0 457.4,392.5 457.5,393.1 457.6,393.8 457.7,394.4 457.9,395.1 458.0,395.9 458.1,396.7 458.3,397.6 458.4,398.5 458.5,399.4 458.6,400.4 458.8,401.5 458.9,402.7 459.0,403.9 459.2,405.2 459.3,406.6 459.4,408.0 459.6,409.6 459.7,411.2 459.8,413.0 459.9,414.9 460.1,416.9 460.2,419.1 460.3,421.5 460.5,424.1 460.6,426.9 460.7,429.9 460.8,433.3 461.0,437.1 461.1,441.3 461.2,446.1 461.4,451.8 461.5,458.5 461.6,466.7 461.7,477.5 461.9,493.0 462.0,506.0 462.1,506.0 462.3,506.0 462.4,488.0 462.5,474.0 462.7,464.0 462.8,456.1 462.9,449.7 463.0,444.2 463.2,439.5 463.3,435.4 463.4,431.7 463.6,428.4 463.7,425.4 463.8,422.6 463.9,420.1 464.1,417.7 464.2,415.5 464.3,413.5 464.5,411.6 464.6,409.9 464.7,408.2 464.9,406.6 465.0,405.2 465.1,403.8 465.2,402.5 465.4,401.3 465.5,400.1 465.6,399.0 465.8,398.0 465.9,397.0 466.0,396.1 466.1,395.3 466.3,394.4 466.4,393.7 466.5,393.0 466.7,392.3 466.8,391.6 466.9,391.0 467.1,390.5 467.2,390.0 467.3,389.5 467.4,389.1 467.6,388.7 467.7,388.3 467.8,387.9 468.0,387.6 468.1,387.4 468.2,387.1 468.3,386.9 468.5,386.8 468.6,386.6 468.7,386.5 468.9,386.5 469.0,386.4 469.1,386.4 469.2,386.4 469.4,386.5 469.5,386.6 469.6,386.7 469.8,386.9 469.9,387.0 470.0,387.2 470.2,387.5 470.3,387.8 470.4,388.1 470.5,388.4 470.7,388.8 470.8,389.2 470.9,389.7 471.1,390.2 471.2,390.7 471.3,391.3 471.4,391.9 471.6,392.5 471.7,393.2 471.8,394.0 472.0,394.8 472.1,395.6 472.2,396.5 472.4,397.5 472.5,398.5 472.6,399.5 472.7,400.7 472.9,401.9 473.0,403.1 473.1,404.5 473.3,405.9 473.4,407.5 473.5,409.1 473.6,410.8 473.8,412.7 473.9,414.7 474.0,416.8 474.2,419.1 474.3,421.6 474.4,424.4 474.6,427.4 474.7,430.6 474.8,434.3 474.9,438.4 475.1,443.0 475.2,448.4 475.3,454.8 475.5,462.5 475.6,472.4 475.7,482.6 475.8,482.6 476.0,482.6 476.1,482.6 476.2,482.6 476.4,476.3 476.5,465.3 476.6,457.0 476.7,450.2 476.9,444.5 477.0,439.6 477.1,435.3 477.3,431.5 477.4,428.1 477.5,425.0 477.7,422.2 477.8,419.6 477.9,417.2 478.0,415.0 478.2,412.9 478.3,411.0 478.4,409.2 478.6,407.5 478.7,406.0 478.8,404.5 478.9,403.1 479.1,401.8 479.2,400.5 479.3,399.4 479.5,398.3 479.6,397.2 479.7,396.3 479.9,395.4 480.0,394.5 480.1,393.7 480.2,392.9 480.4,392.2 480.5,391.5 480.6,390.9 480.8,390.3 480.9,389.7 481.0,389.2 481.1,388.7 481.3,388.3 481.4,387.9 481.5,387.5 481.7,387.2 481.8,386.9 481.9,386.6 482.1,386.4 482.2,386.2 482.3,386.1 482.4,385.9 482.6,385.8 482.7,385.8 482.8,385.7 483.0,385.7 483.1,385.8 483.2,385.8 483.3,385.9 483.5,386.1 483.6,386.2 483.7,386.4 483.9,386.6 484.0,386.9 484.1,387.2 484.2,387.5 484.4,387.9 484.5,388.3 484.6,388.7 484.8,389.2 484.9,389.7 485.0,390.2 485.2,390.8 485.3,391.5 485.4,392.1 485.5,392.8 485.7,393.6 485.8,394.4 485.9,395.3 486.1,396.2 486.2,397.2 486.3,398.2 486.4,399.3 486.6,400.5 486.7,401.7 486.8,403.0 487.0,404.4 487.1,405.9 487.2,407.4 487.4,409.1 487.5,410.9 487.6,412.8 487.7,414.9 487.9,417.1 488.0,419.5 488.1,422.1 488.3,424.9 488.4,428.0 488.5,431.4 488.6,435.2 488.8,439.5 488.9,444.4 489.0,450.1 489.2,456.9 489.3,465.4 489.4,474.7 489.5,474.7 489.7,474.7 489.8,474.7 489.9,474.7 490.1,474.7 490.2,471.3 490.3,461.5 490.5,453.8 490.6,447.5 490.7,442.1 490.8,437.5 491.0,433.4 491.1,429.8 491.2,426.5 491.4,423.5 491.5,420.8 491.6,418.3 491.7,416.0 491.9,413.8 492.0,411.8 492.1,410.0 492.3,408.3 492.4,406.6 492.5,405.1 492.7,403.7 492.8,402.3 492.9,401.0 493.0,399.8 493.2,398.7 493.3,397.7 493.4,396.7 493.6,395.7 493.7,394.8 493.8,394.0 493.9,393.2 494.1,392.5 494.2,391.8 494.3,391.1 494.5,390.5 494.6,390.0 494.7,389.4 494.9,389.0 495.0,388.5 495.1,388.1 495.2,387.7 495.4,387.4 495.5,387.1 495.6,386.8 495.8,386.6 495.9,386.4 496.0,386.2 496.1,386.0 496.3,385.9 496.4,385.8 496.5,385.8 496.7,385.8 496.8,385.8 496.9,385.8 497.0,385.9 497.2,386.0 497.3,386.1 497.4,386.3 497.6,386.5 497.7,386.8 497.8,387.0 498.0,387.3 498.1,387.7 498.2,388.1 498.3,388.5 498.5,388.9 498.6,389.4 498.7,390.0 498.9,390.5 499.0,391.1 499.1,391.8 499.2,392.5 499.4,393.2 499.5,394.0 499.6,394.9 499.8,395.8 499.9,396.8 500.0,397.8 500.2,398.9 500.3,400.0 500.4,401.2 500.5,402.5 500.7,403.9 500.8,405.4 500.9,406.9 501.1,408.6 501.2,410.4 501.3,412.3 501.4,414.3 501.6,416.5 501.7,418.9 501.8,421.5 502.0,424.3 502.1,427.4 502.2,430.8 502.4,434.6 502.5,438.9 502.6,443.9 502.7,449.6 502.9,456.5 503.0,461.3 503.1,461.3 503.3,461.3 503.4,461.3 503.5,461.3 503.6,461.3 503.8,461.3 503.9,461.3 504.0,460.5 504.2,452.9 504.3,446.6 504.4,441.2 504.5,436.6 504.7,432.5 504.8,428.9 504.9,425.6 505.1,422.6 505.2,419.9 505.3,417.4 505.5,415.1 505.6,413.0 505.7,411.0 505.8,409.1 506.0,407.3 506.1,405.7 506.2,404.2 506.4,402.7 506.5,401.4 506.6,400.1 506.7,398.9 506.9,397.7 507.0,396.7 507.1,395.7 507.3,394.7 507.4,393.8 507.5,393.0 507.7,392.2 507.8,391.4 507.9,390.7 508.0,390.1 508.2,389.5 508.3,388.9 508.4,388.4 508.6,387.9 508.7,387.4 508.8,387.0 508.9,386.6 509.1,386.2 509.2,385.9 509.3,385.6 509.5,385.4 509.6,385.2 509.7,385.0 509.9,384.8 510.0,384.7 510.1,384.6 510.2,384.5 510.4,384.5 510.5,384.5 510.6,384.5 510.8,384.6 510.9,384.7 511.0,384.8 511.1,385.0 511.3,385.2 511.4,385.4 511.5,385.7 511.7,386.0 511.8,386.3 511.9,386.7 512.0,387.1 512.2,387.5 512.3,388.0 512.4,388.5 512.6,389.1 512.7,389.7 512.8,390.4 513.0,391.1 513.1,391.8 513.2,392.6 513.3,393.4 513.5,394.3 513.6,395.3 513.7,396.3 513.9,397.3 514.0,398.5 514.1,399.7 514.2,401.0 514.4,402.4 514.5,403.8 514.6,405.4 514.8,407.0 514.9,408.8 515.0,410.7 515.2,412.7 515.3,414.9 515.4,417.3 515.5,419.9 515.7,422.7 515.8,425.8 515.9,429.2 516.1,433.1 516.2,437.4 516.3,442.3 516.4,448.1 516.6,455.0 516.7,461.3 516.8,461.3 517.0,461.3 517.1,461.3 517.2,461.3 517.4,461.3 517.5,461.3 517.6,461.3 517.7,459.4 517.9,451.8 518.0,445.5 518.1,440.2 518.3,435.6 518.4,431.5 518.5,427.9 518.6,424.6 518.8,421.6 518.9,418.9 519.0,416.4 519.2,414.0 519.3,411.9 519.4,409.9 519.5,408.0 519.7,406.2 519.8,404.6 519.9,403.0 520.1,401.5 520.2,400.2 520.3,398.9 520.5,397.6 520.6,396.5 520.7,395.4 520.8,394.3 521.0,393.3 521.1,392.4 521.2,391.5 521.4,390.7 521.5,389.9 521.6,389.2 521.7,388.5 521.9,387.9 522.0,387.2 522.1,386.7 522.3,386.1 522.4,385.6 522.5,385.2 522.7,384.7 522.8,384.4 522.9,384.0 523.0,383.7 523.2,383.4 523.3,383.1 523.4,382.9 523.6,382.7 523.7,382.6 523.8,382.4 523.9,382.3 524.1,382.3 524.2,382.2 524.3,382.2 524.5,382.2 524.6,382.3 524.7,382.4 524.9,382.5 525.0,382.6 525.1,382.8 525.2,383.0 525.4,383.3 525.5,383.5 525.6,383.8 525.8,384.2 525.9,384.5 526.0,384.9 526.1,385.4 526.3,385.8 526.4,386.4 526.5,386.9 526.7,387.5 526.8,388.1 526.9,388.8 527.0,389.5 527.2,390.3 527.3,391.1 527.4,391.9 527.6,392.8 527.7,393.8 527.8,394.8 528.0,395.9 528.1,397.0 528.2,398.3 528.3,399.6 528.5,400.9 528.6,402.4 528.7,403.9 528.9,405.6 529.0,407.3 529.1,409.2 529.2,411.2 529.4,413.4 529.5,415.8 529.6,418.3 529.8,421.1 529.9,424.1 530.0,427.4 530.2,431.2 530.3,435.3 530.4,440.1 530.5,445.6 530.7,452.1 530.8,459.2 530.9,459.2 531.1,459.2 531.2,459.2 531.3,459.2 531.4,459.2 531.6,459.2 531.7,459.2 531.8,458.7 532.0,450.6 532.1,444.0 532.2,438.5 532.4,433.7 532.5,429.5 532.6,425.8 532.7,422.4 532.9,419.4 533.0,416.6 533.1,414.0 533.3,411.7 533.4,409.5 533.5,407.4 533.6,405.6 533.8,403.8 533.9,402.1 534.0,400.6 534.2,399.1 534.3,397.7 534.4,396.4 534.5,395.2 534.7,394.1 534.8,393.0 534.9,392.0 535.1,391.0 535.2,390.1 535.3,389.3 535.5,388.5 535.6,387.7 535.7,387.0 535.8,386.4 536.0,385.8 536.1,385.2 536.2,384.7 536.4,384.2 536.5,383.7 536.6,383.3 536.7,382.9 536.9,382.6 537.0,382.3 537.1,382.0 537.3,381.8 537.4,381.6 537.5,381.4 537.7,381.3 537.8,381.2 537.9,381.1 538.0,381.1 538.2,381.1 538.3,381.1 538.4,381.2 538.6,381.3 538.7,381.4 538.8,381.6 538.9,381.8 539.1,382.0 539.2,382.3 539.3,382.6 539.5,382.9 539.6,383.3 539.7,383.7 539.8,384.1 540.0,384.6 540.1,385.1 540.2,385.7 540.4,386.3 540.5,387.0 540.6,387.7 540.8,388.4 540.9,389.2 541.0,390.1 541.1,391.0 541.3,391.9 541.4,393.0 541.5,394.0 541.7,395.2 541.8,396.4 541.9,397.7 542.0,399.1 542.2,400.6 542.3,402.1 542.4,403.8 542.6,405.6 542.7,407.5 542.8,409.6 543.0,411.8 543.1,414.2 543.2,416.8 543.3,419.7 543.5,422.8 543.6,426.3 543.7,430.2 543.9,434.5 544.0,439.6 544.1,445.4 544.2,452.4 544.4,461.2 544.5,464.2 544.6,464.2 544.8,464.2 544.9,464.2 545.0,464.2 545.2,464.2 545.3,462.1 545.4,452.7 545.5,445.2 545.7,439.1 545.8,433.9 545.9,429.3 546.1,425.3 546.2,421.8 546.3,418.5 546.4,415.6 546.6,412.9 546.7,410.5 546.8,408.2 547.0,406.1 547.1,404.2 547.2,402.4 547.3,400.7 547.5,399.1 547.6,397.6 547.7,396.2 547.9,394.9 548.0,393.6 548.1,392.5 548.3,391.4 548.4,390.4 548.5,389.4 548.6,388.5 548.8,387.7 548.9,386.9 549.0,386.2 549.2,385.5 549.3,384.9 549.4,384.3 549.5,383.7 549.7,383.2 549.8,382.8 549.9,382.4 550.1,382.0 550.2,381.6 550.3,381.3 550.5,381.0 550.6,380.8 550.7,380.6 550.8,380.4 551.0,380.3 551.1,380.2 551.2,380.1 551.4,380.1 551.5,380.1 551.6,380.2 551.7,380.3 551.9,380.4 552.0,380.6 552.1,380.8 552.3,381.0 552.4,381.3 552.5,381.6 552.7,382.0 552.8,382.4 552.9,382.8 553.0,383.3 553.2,383.8 553.3,384.4 553.4,385.0 553.6,385.7 553.7,386.4 553.8,387.2 553.9,388.0 554.1,388.9 554.2,389.9 554.3,390.9 554.5,391.9 554.6,393.1 554.7,394.3 554.8,395.6 555.0,397.0 555.1,398.5 555.2,400.1 555.4,401.9 555.5,403.7 555.6,405.7 555.8,407.8 555.9,410.1 556.0,412.6 556.1,415.4 556.3,418.4 556.4,421.7 556.5,425.5 556.7,429.6 556.8,434.4 556.9,440.0 557.0,446.6 557.2,454.8 557.3,458.8 557.4,458.8 557.6,458.8 557.7,458.8 557.8,458.8 558.0,458.8 558.1,458.8 558.2,455.8 558.3,447.8 558.5,441.3 558.6,435.9 558.7,431.1 558.9,426.9 559.0,423.2 559.1,419.9 559.2,416.8 559.4,414.0 559.5,411.5 559.6,409.1 559.8,406.9 559.9,404.9 560.0,403.0 560.2,401.2 560.3,399.5 560.4,398.0 560.5,396.5 560.7,395.1 560.8,393.8 560.9,392.5 561.1,391.4 561.2,390.3 561.3,389.2 561.4,388.2 561.6,387.3 561.7,386.4 561.8,385.6 562.0,384.8 562.1,384.1 562.2,383.4 562.3,382.8 562.5,382.2 562.6,381.6 562.7,381.1 562.9,380.6 563.0,380.2 563.1,379.7 563.3,379.4 563.4,379.0 563.5,378.7 563.6,378.4 563.8,378.2 563.9,378.0 564.0,377.8 564.2,377.7 564.3,377.6 564.4,377.5 564.5,377.5 564.7,377.4 564.8,377.5 564.9,377.5 565.1,377.6 565.2,377.7 565.3,377.8 565.5,378.0 565.6,378.2 565.7,378.5 565.8,378.7 566.0,379.1 566.1,379.4 566.2,379.8 566.4,380.2 566.5,380.7 566.6,381.1 566.7,381.7 566.9,382.2 567.0,382.9 567.1,383.5 567.3,384.2 567.4,385.0 567.5,385.8 567.7,386.6 567.8,387.5 567.9,388.5 568.0,389.5 568.2,390.6 568.3,391.7 568.4,392.9 568.6,394.2 568.7,395.6 568.8,397.0 568.9,398.6 569.1,400.3 569.2,402.0 569.3,403.9 569.5,406.0 569.6,408.2 569.7,410.6 569.8,413.1 570.0,416.0 570.1,419.1 570.2,422.5 570.4,426.3 570.5,430.6 570.6,435.5 570.8,441.3 570.9,448.1 571.0,451.3 571.1,451.3 571.3,451.3 571.4,451.3 571.5,451.3 571.7,451.3 571.8,451.3 571.9,451.3 572.0,450.5 572.2,442.9 572.3,436.6 572.4,431.3 572.6,426.7 572.7,422.6 572.8,419.0 573.0,415.7 573.1,412.7 573.2,410.0 573.3,407.5 573.5,405.2 573.6,403.0 573.7,401.0 573.9,399.2 574.0,397.4 574.1,395.8 574.2,394.3 574.4,392.8 574.5,391.5 574.6,390.2 574.8,389.0 574.9,387.9 575.0,386.8 575.2,385.8 575.3,384.9 575.4,384.0 575.5,383.2 575.7,382.4 575.8,381.7 575.9,381.0 576.1,380.4 576.2,379.8 576.3,379.2 576.4,378.7 576.6,378.2 576.7,377.8 576.8,377.4 577.0,377.1 577.1,376.8 577.2,376.5 577.3,376.2 577.5,376.0 577.6,375.9 577.7,375.7 577.9,375.7 578.0,375.6 578.1,375.6 578.3,375.6 578.4,375.6 578.5,375.7 578.6,375.8 578.8,375.9 578.9,376.1 579.0,376.3 579.2,376.6 579.3,376.8 579.4,377.2 579.5,377.5 579.7,377.9 579.8,378.3 579.9,378.8 580.1,379.3 580.2,379.9 580.3,380.5 580.5,381.1 580.6,381.8 580.7,382.5 580.8,383.3 581.0,384.2 581.1,385.1 581.2,386.0 581.4,387.0 581.5,388.1 581.6,389.3 581.7,390.5 581.9,391.8 582.0,393.2 582.1,394.6 582.3,396.2 582.4,397.9 582.5,399.7 582.7,401.6 582.8,403.7 582.9,405.9 583.0,408.3 583.2,410.9 583.3,413.8 583.4,417.0 583.6,420.4 583.7,424.3 583.8,428.7 583.9,433.8 584.1,439.7 584.2,446.9 584.3,455.5 584.5,455.5 584.6,455.5 584.7,455.5 584.8,455.5 585.0,455.5 585.1,455.5 585.2,455.5 585.4,447.9 585.5,440.5 585.6,434.5 585.8,429.3 585.9,424.8 586.0,420.8 586.1,417.3 586.3,414.1 586.4,411.1 586.5,408.5 586.7,406.0 586.8,403.7 586.9,401.6 587.0,399.7 587.2,397.9 587.3,396.2 587.4,394.6 587.6,393.1 587.7,391.7 587.8,390.3 588.0,389.1 588.1,387.9 588.2,386.8 588.3,385.8 588.5,384.8 588.6,383.9 588.7,383.0 588.9,382.2 589.0,381.5 589.1,380.8 589.2,380.1 589.4,379.5 589.5,378.9 589.6,378.4 589.8,377.9 589.9,377.4 590.0,377.0 590.1,376.6 590.3,376.3 590.4,376.0 590.5,375.7 590.7,375.4 590.8,375.2 590.9,375.0 591.1,374.9 591.2,374.8 591.3,374.7 591.4,374.6 591.6,374.6 591.7,374.7 591.8,374.7 592.0,374.8 592.1,374.9 592.2,375.1 592.3,375.3 592.5,375.5 592.6,375.8 592.7,376.1 592.9,376.4 593.0,376.8 593.1,377.2 593.3,377.6 593.4,378.1 593.5,378.7 593.6,379.3 593.8,379.9 593.9,380.6 594.0,381.3 594.2,382.0 594.3,382.9 594.4,383.8 594.5,384.7 594.7,385.7 594.8,386.8 594.9,387.9 595.1,389.1 595.2,390.4 595.3,391.8 595.5,393.2 595.6,394.8 595.7,396.5 595.8,398.3 596.0,400.2 596.1,402.2 596.2,404.5 596.4,406.9 596.5,409.5 596.6,412.4 596.7,415.6 596.9,419.1 597.0,423.1 597.1,427.6 597.3,432.8 597.4,438.8 597.5,446.2 597.6,451.3 597.8,451.3 597.9,451.3 598.0,451.3 598.2,451.3 598.3,451.3 598.4,451.3 598.6,451.3 598.7,444.1 598.8,437.0 598.9,431.1 599.1,426.1 599.2,421.6 599.3,417.7 599.5,414.2 599.6,411.0 599.7,408.1 599.8,405.5 600.0,403.0 600.1,400.8 600.2,398.7 600.4,396.7 600.5,394.9 600.6,393.2 600.8,391.6 600.9,390.1 601.0,388.6 601.1,387.3 601.3,386.1 601.4,384.9 601.5,383.8 601.7,382.7 601.8,381.7 601.9,380.8 602.0,379.9 602.2,379.1 602.3,378.3 602.4,377.6 602.6,376.9 602.7,376.3 602.8,375.7 603.0,375.1 603.1,374.6 603.2,374.2 603.3,373.7 603.5,373.3 603.6,373.0 603.7,372.7 603.9,372.4 604.0,372.2 604.1,372.0 604.2,371.9 604.4,371.8 604.5,371.7 604.6,371.7 604.8,371.6 604.9,371.7 605.0,371.7 605.1,371.8 605.3,371.9 605.4,372.1 605.5,372.3 605.7,372.5 605.8,372.8 605.9,373.1 606.1,373.4 606.2,373.8 606.3,374.2 606.4,374.6 606.6,375.1 606.7,375.7 606.8,376.2 607.0,376.9 607.1,377.5 607.2,378.2 607.3,379.0 607.5,379.8 607.6,380.7 607.7,381.6 607.9,382.6 608.0,383.6 608.1,384.7 608.3,385.9 608.4,387.1 608.5,388.5 608.6,389.9 608.8,391.4 608.9,393.0 609.0,394.7 609.2,396.6 609.3,398.5 609.4,400.7 609.5,403.0 609.7,405.5 609.8,408.2 609.9,411.1 610.1,414.4 610.2,418.0 610.3,422.1 610.5,426.7 610.6,432.1 610.7,438.4 610.8,446.1 611.0,447.5 611.1,447.5 611.2,447.5 611.4,447.5 611.5,447.5 611.6,447.5 611.7,447.5 611.9,447.5 612.0,441.8 612.1,435.0 612.3,429.3 612.4,424.4 612.5,420.1 612.6,416.3 612.8,412.8 612.9,409.8 613.0,406.9 613.2,404.3 613.3,402.0 613.4,399.7 613.6,397.7 613.7,395.8 613.8,394.0 613.9,392.3 614.1,390.8 614.2,389.3 614.3,387.9 614.5,386.6 614.6,385.4 614.7,384.3 614.8,383.2 615.0,382.2 615.1,381.2 615.2,380.3 615.4,379.5 615.5,378.7 615.6,377.9 615.8,377.2 615.9,376.6 616.0,375.9 616.1,375.4 616.3,374.9 616.4,374.4 616.5,373.9 616.7,373.5 616.8,373.1 616.9,372.8 617.0,372.5 617.2,372.2 617.3,372.0 617.4,371.8 617.6,371.6 617.7,371.5 617.8,371.4 618.0,371.3 618.1,371.3 618.2,371.3 618.3,371.3 618.5,371.4 618.6,371.5 618.7,371.6 618.9,371.8 619.0,372.0 619.1,372.2 619.2,372.5 619.4,372.8 619.5,373.1 619.6,373.5 619.8,373.9 619.9,374.4 620.0,374.9 620.1,375.4 620.3,376.0 620.4,376.6 620.5,377.3 620.7,378.0 620.8,378.7 620.9,379.5 621.1,380.4 621.2,381.3 621.3,382.3 621.4,383.3 621.6,384.4 621.7,385.6 621.8,386.8 622.0,388.2 622.1,389.6 622.2,391.1 622.3,392.7 622.5,394.4 622.6,396.2 622.7,398.1 622.9,400.2 623.0,402.5 623.1,405.0 623.3,407.6 623.4,410.6 623.5,413.8 623.6,417.4 623.8,421.3 623.9,425.9 624.0,431.1 624.2,437.2 624.3,443.3 624.4,443.3 624.5,443.3 624.7,443.3 624.8,443.3 624.9,443.3 625.1,443.3 625.2,443.3 625.3,443.3 625.5,441.0 625.6,434.0 625.7,428.1 625.8,423.1 626.0,418.7 626.1,414.8 626.2,411.4 626.4,408.2 626.5,405.4 626.6,402.8 626.7,400.3 626.9,398.1 627.0,396.1 627.1,394.1 627.3,392.4 627.4,390.7 627.5,389.1 627.6,387.7 627.8,386.3 627.9,385.0 628.0,383.8 628.2,382.6 628.3,381.6 628.4,380.6 628.6,379.6 628.7,378.7 628.8,377.9 628.9,377.1 629.1,376.4 629.2,375.7 629.3,375.1 629.5,374.5 629.6,374.0 629.7,373.5 629.8,373.0 630.0,372.6 630.1,372.1 630.2,371.8 630.4,371.5 630.5,371.2 630.6,370.9 630.8,370.7 630.9,370.5 631.0,370.4 631.1,370.3 631.3,370.2 631.4,370.2 631.5,370.2 631.7,370.2 631.8,370.3 631.9,370.4 632.0,370.5 632.2,370.7 632.3,370.9 632.4,371.2 632.6,371.5 632.7,371.8 632.8,372.2 632.9,372.6 633.1,373.1 633.2,373.6 633.3,374.1 633.5,374.7 633.6,375.4 633.7,376.0 633.9,376.8 634.0,377.6 634.1,378.4 634.2,379.3 634.4,380.3 634.5,381.3 634.6,382.4 634.8,383.6 634.9,384.9 635.0,386.2 635.1,387.6 635.3,389.2 635.4,390.8 635.5,392.6 635.7,394.5 635.8,396.5 635.9,398.7 636.1,401.1 636.2,403.7 636.3,406.5 636.4,409.7 636.6,413.1 636.7,417.0 636.8,421.4 637.0,426.5 637.1,432.4 637.2,437.1 637.3,437.1 637.5,437.1 637.6,437.1 637.7,437.1 637.9,437.1 638.0,437.1 638.1,437.1 638.3,437.1 638.4,437.1 638.5,431.8 638.6,425.7 638.8,420.6 638.9,416.1 639.0,412.1 639.2,408.5 639.3,405.3 639.4,402.4 639.5,399.7 639.7,397.3 639.8,395.0 639.9,392.9 640.1,390.9 640.2,389.1 640.3,387.4 640.4,385.8 640.6,384.3 640.7,382.9 640.8,381.5 641.0,380.3 641.1,379.1 641.2,378.0 641.4,377.0 641.5,376.0 641.6,375.1 641.7,374.3 641.9,373.5 642.0,372.7 642.1,372.0 642.3,371.3 642.4,370.7 642.5,370.2 642.6,369.7 642.8,369.2 642.9,368.8 643.0,368.4 643.2,368.1 643.3,367.8 643.4,367.5 643.6,367.3 643.7,367.1 643.8,367.0 643.9,366.9 644.1,366.8 644.2,366.7 644.3,366.7 644.5,366.8 644.6,366.9 644.7,367.0 644.8,367.1 645.0,367.3 645.1,367.5 645.2,367.8 645.4,368.1 645.5,368.4 645.6,368.8 645.8,369.3 645.9,369.7 646.0,370.2 646.1,370.8 646.3,371.4 646.4,372.1 646.5,372.8 646.7,373.5 646.8,374.3 646.9,375.2 647.0,376.1 647.2,377.1 647.3,378.2 647.4,379.3 647.6,380.5 647.7,381.8 647.8,383.1 647.9,384.6 648.1,386.2 648.2,387.8 648.3,389.6 648.5,391.6 648.6,393.6 648.7,395.9 648.9,398.3 649.0,401.0 649.1,403.9 649.2,407.1 649.4,410.6 649.5,414.6 649.6,419.1 649.8,424.4 649.9,430.5 650.0,436.2 650.1,436.2 650.3,436.2 650.4,436.2 650.5,436.2 650.7,436.2 650.8,436.2 650.9,436.2 651.1,436.2 651.2,435.6 651.3,428.6 651.4,422.7 651.6,417.7 651.7,413.4 651.8,409.5 652.0,406.0 652.1,402.9 652.2,400.0 652.3,397.4 652.5,395.0 652.6,392.8 652.7,390.7 652.9,388.8 653.0,387.0 653.1,385.3 653.3,383.7 653.4,382.2 653.5,380.9 653.6,379.5 653.8,378.3 653.9,377.2 654.0,376.1 654.2,375.1 654.3,374.1 654.4,373.2 654.5,372.4 654.7,371.6 654.8,370.9 654.9,370.2 655.1,369.5 655.2,368.9 655.3,368.4 655.4,367.9 655.6,367.4 655.7,367.0 655.8,366.6 656.0,366.3 656.1,366.0 656.2,365.7 656.4,365.5 656.5,365.3 656.6,365.1 656.7,365.0 656.9,364.9 657.0,364.9 657.1,364.9 657.3,364.9 657.4,365.0 657.5,365.1 657.6,365.2 657.8,365.4 657.9,365.6 658.0,365.8 658.2,366.1 658.3,366.4 658.4,366.8 658.6,367.2 658.7,367.7 658.8,368.1 658.9,368.7 659.1,369.2 659.2,369.9 659.3,370.5 659.5,371.2 659.6,372.0 659.7,372.8 659.8,373.7 660.0,374.6 660.1,375.6 660.2,376.7 660.4,377.8 660.5,379.0 660.6,380.3 660.8,381.7 660.9,383.1 661.0,384.7 661.1,386.4 661.3,388.2 661.4,390.1 661.5,392.1 661.7,394.4 661.8,396.8 661.9,399.4 662.0,402.3 662.2,405.5 662.3,409.0 662.4,412.9 662.6,417.3 662.7,422.5 662.8,428.5 662.9,435.7 663.1,436.7 663.2,436.7 663.3,436.7 663.5,436.7 663.6,436.7 663.7,436.7 663.9,436.7 664.0,436.7 664.1,434.8 664.2,427.6 664.4,421.6 664.5,416.5 664.6,412.1 664.8,408.1 664.9,404.6 665.0,401.4 665.1,398.6 665.3,395.9 665.4,393.5 665.5,391.2 665.7,389.2 665.8,387.2 665.9,385.4 666.1,383.8 666.2,382.2 666.3,380.7 666.4,379.3 666.6,378.0 666.7,376.8 666.8,375.7 667.0,374.6 667.1,373.6 667.2,372.6 667.3,371.7 667.5,370.9 667.6,370.1 667.7,369.4 667.9,368.7 668.0,368.1 668.1,367.5 668.3,367.0 668.4,366.5 668.5,366.1 668.6,365.7 668.8,365.3 668.9,365.0 669.0,364.7 669.2,364.4 669.3,364.2 669.4,364.1 669.5,363.9 669.7,363.8 669.8,363.8 669.9,363.8 670.1,363.8 670.2,363.8 670.3,363.9 670.4,364.0 670.6,364.2 670.7,364.4 670.8,364.6 671.0,364.9 671.1,365.2 671.2,365.6 671.4,366.0 671.5,366.4 671.6,366.9 671.7,367.4 671.9,368.0 672.0,368.6 672.1,369.3 672.3,370.0 672.4,370.8 672.5,371.6 672.6,372.5 672.8,373.4 672.9,374.4 673.0,375.5 673.2,376.6 673.3,377.8 673.4,379.1 673.6,380.5 673.7,382.0 673.8,383.6 673.9,385.3 674.1,387.1 674.2,389.0 674.3,391.1 674.5,393.4 674.6,395.8 674.7,398.5 674.8,401.4 675.0,404.7 675.1,408.2 675.2,412.3 675.4,416.8 675.5,422.1 675.6,428.3 675.8,432.1 675.9,432.1 676.0,432.1 676.1,432.1 676.3,432.1 676.4,432.1 676.5,432.1 676.7,432.1 676.8,432.1 676.9,432.1 677.0,425.5 677.2,419.7 677.3,414.8 677.4,410.4 677.6,406.6 677.7,403.1 677.8,400.0 677.9,397.2 678.1,394.6 678.2,392.2 678.3,390.0 678.5,388.0 678.6,386.1 678.7,384.3 678.9,382.6 679.0,381.1 679.1,379.6 679.2,378.3 679.4,377.0 679.5,375.8" fill="none" stroke="#00ee00" stroke-width="1.9" stroke-dasharray="2.8,2" stroke-linejoin="round"/>
</g>
<polyline points="420.5,284.5 421.1,284.5 421.8,284.5 422.4,284.5 423.1,284.5 423.7,284.5 424.4,284.5 425.0,284.5 425.7,284.5 426.3,284.6 427.0,284.6 427.6,284.6 428.3,284.6 428.9,284.6 429.6,284.6 430.2,284.6 430.9,284.6 431.5,284.6 432.2,284.6 432.8,284.6 433.5,284.6 434.1,284.6 434.8,284.7 435.4,284.7 436.1,284.7 436.7,284.7 437.4,284.7 438.0,284.7 438.7,284.7 439.3,284.7 440.0,284.7 440.6,284.7 441.3,284.7 441.9,284.8 442.6,284.8 443.2,284.8 443.9,284.8 444.5,284.8 445.2,284.8 445.8,284.8 446.5,284.8 447.1,284.8 447.8,284.8 448.4,284.8 449.1,284.9 449.7,284.9 450.4,284.9 451.0,284.9 451.7,284.9 452.3,284.9 453.0,284.9 453.6,284.9 454.3,284.9 454.9,284.9 455.6,285.0 456.2,285.0 456.9,285.0 457.5,285.0 458.1,285.0 458.8,285.0 459.4,285.0 460.1,285.0 460.7,285.0 461.4,285.0 462.0,285.1 462.7,285.1 463.3,285.1 464.0,285.1 464.6,285.1 465.3,285.1 465.9,285.1 466.6,285.1 467.2,285.1 467.9,285.2 468.5,285.2 469.2,285.2 469.8,285.2 470.5,285.2 471.1,285.2 471.8,285.2 472.4,285.2 473.1,285.2 473.7,285.3 474.4,285.3 475.0,285.3 475.7,285.3 476.3,285.3 477.0,285.3 477.6,285.3 478.3,285.3 478.9,285.3 479.6,285.4 480.2,285.4 480.9,285.4 481.5,285.4 482.2,285.4 482.8,285.4 483.5,285.4 484.1,285.4 484.8,285.4 485.4,285.5 486.1,285.5 486.7,285.5 487.4,285.5 488.0,285.5 488.7,285.5 489.3,285.5 490.0,285.5 490.6,285.5 491.3,285.6 491.9,285.6 492.6,285.6 493.2,285.6 493.9,285.6 494.5,285.6 495.1,285.6 495.8,285.6 496.4,285.7 497.1,285.7 497.7,285.7 498.4,285.7 499.0,285.7 499.7,285.7 500.3,285.7 501.0,285.7 501.6,285.7 502.3,285.8 502.9,285.8 503.6,285.8 504.2,285.8 504.9,285.8 505.5,285.8 506.2,285.8 506.8,285.8 507.5,285.9 508.1,285.9 508.8,285.9 509.4,285.9 510.1,285.9 510.7,285.9 511.4,285.9 512.0,285.9 512.7,286.0 513.3,286.0 514.0,286.0 514.6,286.0 515.3,286.0 515.9,286.0 516.6,286.0 517.2,286.0 517.9,286.1 518.5,286.1 519.2,286.1 519.8,286.1 520.5,286.1 521.1,286.1 521.8,286.1 522.4,286.1 523.1,286.2 523.7,286.2 524.4,286.2 525.0,286.2 525.7,286.2 526.3,286.2 527.0,286.2 527.6,286.2 528.3,286.3 528.9,286.3 529.6,286.3 530.2,286.3 530.9,286.3 531.5,286.3 532.1,286.3 532.8,286.3 533.4,286.4 534.1,286.4 534.7,286.4 535.4,286.4 536.0,286.4 536.7,286.4 537.3,286.4 538.0,286.4 538.6,286.5 539.3,286.5 539.9,286.5 540.6,286.5 541.2,286.5 541.9,286.5 542.5,286.5 543.2,286.5 543.8,286.6 544.5,286.6 545.1,286.6 545.8,286.6 546.4,286.6 547.1,286.6 547.7,286.6 548.4,286.7 549.0,286.7 549.7,286.7 550.3,286.7 551.0,286.7 551.6,286.7 552.3,286.7 552.9,286.7 553.6,286.8 554.2,286.8 554.9,286.8 555.5,286.8 556.2,286.8 556.8,286.8 557.5,286.8 558.1,286.8 558.8,286.9 559.4,286.9 560.1,286.9 560.7,286.9 561.4,286.9 562.0,286.9 562.7,286.9 563.3,287.0 564.0,287.0 564.6,287.0 565.3,287.0 565.9,287.0 566.6,287.0 567.2,287.0 567.9,287.0 568.5,287.1 569.1,287.1 569.8,287.1 570.4,287.1 571.1,287.1 571.7,287.1 572.4,287.1 573.0,287.2 573.7,287.2 574.3,287.2 575.0,287.2 575.6,287.2 576.3,287.2 576.9,287.2 577.6,287.3 578.2,287.3 578.9,287.3 579.5,287.3 580.2,287.3 580.8,287.3 581.5,287.3 582.1,287.3 582.8,287.4 583.4,287.4 584.1,287.4 584.7,287.4 585.4,287.4 586.0,287.4 586.7,287.4 587.3,287.5 588.0,287.5 588.6,287.5 589.3,287.5 589.9,287.5 590.6,287.5 591.2,287.5 591.9,287.6 592.5,287.6 593.2,287.6 593.8,287.6 594.5,287.6 595.1,287.6 595.8,287.6 596.4,287.7 597.1,287.7 597.7,287.7 598.4,287.7 599.0,287.7 599.7,287.7 600.3,287.7 601.0,287.8 601.6,287.8 602.3,287.8 602.9,287.8 603.6,287.8 604.2,287.8 604.9,287.8 605.5,287.8 606.1,287.9 606.8,287.9 607.4,287.9 608.1,287.9 608.7,287.9 609.4,287.9 610.0,287.9 610.7,288.0 611.3,288.0 612.0,288.0 612.6,288.0 613.3,288.0 613.9,288.0 614.6,288.0 615.2,288.1 615.9,288.1 616.5,288.1 617.2,288.1 617.8,288.1 618.5,288.1 619.1,288.1 619.8,288.2 620.4,288.2 621.1,288.2 621.7,288.2 622.4,288.2 623.0,288.2 623.7,288.2 624.3,288.3 625.0,288.3 625.6,288.3 626.3,288.3 626.9,288.3 627.6,288.3 628.2,288.3 628.9,288.4 629.5,288.4 630.2,288.4 630.8,288.4 631.5,288.4 632.1,288.4 632.8,288.5 633.4,288.5 634.1,288.5 634.7,288.5 635.4,288.5 636.0,288.5 636.7,288.5 637.3,288.6 638.0,288.6 638.6,288.6 639.3,288.6 639.9,288.6 640.6,288.6 641.2,288.6 641.9,288.7 642.5,288.7 643.1,288.7 643.8,288.7 644.4,288.7 645.1,288.7 645.7,288.7 646.4,288.8 647.0,288.8 647.7,288.8 648.3,288.8 649.0,288.8 649.6,288.8 650.3,288.8 650.9,288.9 651.6,288.9 652.2,288.9 652.9,288.9 653.5,288.9 654.2,288.9 654.8,288.9 655.5,289.0 656.1,289.0 656.8,289.0 657.4,289.0 658.1,289.0 658.7,289.0 659.4,289.1 660.0,289.1 660.7,289.1 661.3,289.1 662.0,289.1 662.6,289.1 663.3,289.1 663.9,289.2 664.6,289.2 665.2,289.2 665.9,289.2 666.5,289.2 667.2,289.2 667.8,289.2 668.5,289.3 669.1,289.3 669.8,289.3 670.4,289.3 671.1,289.3 671.7,289.3 672.4,289.4 673.0,289.4 673.7,289.4 674.3,289.4 675.0,289.4 675.6,289.4 676.3,289.4 676.9,289.5 677.6,289.5 678.2,289.5 678.9,289.5 679.5,289.5" fill="none" stroke="#000000" stroke-width="1.7" stroke-linejoin="round"/>
<polyline points="420.5,284.5 421.1,284.5 421.8,284.5 422.4,284.5 423.1,284.5 423.7,284.5 424.4,284.5 425.0,284.5 425.7,284.5 426.3,284.6 427.0,284.6 427.6,284.6 428.3,284.6 428.9,284.6 429.6,284.6 430.2,284.6 430.9,284.6 431.5,284.6 432.2,284.6 432.8,284.6 433.5,284.6 434.1,284.6 434.8,284.7 435.4,284.7 436.1,284.7 436.7,284.7 437.4,284.7 438.0,284.7 438.7,284.7 439.3,284.7 440.0,284.7 440.6,284.7 441.3,284.7 441.9,284.8 442.6,284.8 443.2,284.8 443.9,284.8 444.5,284.8 445.2,284.8 445.8,284.8 446.5,284.8 447.1,284.8 447.8,284.8 448.4,284.8 449.1,284.9 449.7,284.9 450.4,284.9 451.0,284.9 451.7,284.9 452.3,284.9 453.0,284.9 453.6,284.9 454.3,284.9 454.9,284.9 455.6,285.0 456.2,285.0 456.9,285.0 457.5,285.0 458.1,285.0 458.8,285.0 459.4,285.0 460.1,285.0 460.7,285.0 461.4,285.0 462.0,285.1 462.7,285.1 463.3,285.1 464.0,285.1 464.6,285.1 465.3,285.1 465.9,285.1 466.6,285.1 467.2,285.1 467.9,285.2 468.5,285.2 469.2,285.2 469.8,285.2 470.5,285.2 471.1,285.2 471.8,285.2 472.4,285.2 473.1,285.2 473.7,285.3 474.4,285.3 475.0,285.3 475.7,285.3 476.3,285.3 477.0,285.3 477.6,285.3 478.3,285.3 478.9,285.3 479.6,285.4 480.2,285.4 480.9,285.4 481.5,285.4 482.2,285.4 482.8,285.4 483.5,285.4 484.1,285.4 484.8,285.4 485.4,285.5 486.1,285.5 486.7,285.5 487.4,285.5 488.0,285.5 488.7,285.5 489.3,285.5 490.0,285.5 490.6,285.5 491.3,285.6 491.9,285.6 492.6,285.6 493.2,285.6 493.9,285.6 494.5,285.6 495.1,285.6 495.8,285.6 496.4,285.7 497.1,285.7 497.7,285.7 498.4,285.7 499.0,285.7 499.7,285.7 500.3,285.7 501.0,285.7 501.6,285.7 502.3,285.8 502.9,285.8 503.6,285.8 504.2,285.8 504.9,285.8 505.5,285.8 506.2,285.8 506.8,285.8 507.5,285.9 508.1,285.9 508.8,285.9 509.4,285.9 510.1,285.9 510.7,285.9 511.4,285.9 512.0,285.9 512.7,286.0 513.3,286.0 514.0,286.0 514.6,286.0 515.3,286.0 515.9,286.0 516.6,286.0 517.2,286.0 517.9,286.1 518.5,286.1 519.2,286.1 519.8,286.1 520.5,286.1 521.1,286.1 521.8,286.1 522.4,286.1 523.1,286.2 523.7,286.2 524.4,286.2 525.0,286.2 525.7,286.2 526.3,286.2 527.0,286.2 527.6,286.2 528.3,286.3 528.9,286.3 529.6,286.3 530.2,286.3 530.9,286.3 531.5,286.3 532.1,286.3 532.8,286.3 533.4,286.4 534.1,286.4 534.7,286.4 535.4,286.4 536.0,286.4 536.7,286.4 537.3,286.4 538.0,286.4 538.6,286.5 539.3,286.5 539.9,286.5 540.6,286.5 541.2,286.5 541.9,286.5 542.5,286.5 543.2,286.5 543.8,286.6 544.5,286.6 545.1,286.6 545.8,286.6 546.4,286.6 547.1,286.6 547.7,286.6 548.4,286.7 549.0,286.7 549.7,286.7 550.3,286.7 551.0,286.7 551.6,286.7 552.3,286.7 552.9,286.7 553.6,286.8 554.2,286.8 554.9,286.8 555.5,286.8 556.2,286.8 556.8,286.8 557.5,286.8 558.1,286.8 558.8,286.9 559.4,286.9 560.1,286.9 560.7,286.9 561.4,286.9 562.0,286.9 562.7,286.9 563.3,287.0 564.0,287.0 564.6,287.0 565.3,287.0 565.9,287.0 566.6,287.0 567.2,287.0 567.9,287.0 568.5,287.1 569.1,287.1 569.8,287.1 570.4,287.1 571.1,287.1 571.7,287.1 572.4,287.1 573.0,287.2 573.7,287.2 574.3,287.2 575.0,287.2 575.6,287.2 576.3,287.2 576.9,287.2 577.6,287.3 578.2,287.3 578.9,287.3 579.5,287.3 580.2,287.3 580.8,287.3 581.5,287.3 582.1,287.3 582.8,287.4 583.4,287.4 584.1,287.4 584.7,287.4 585.4,287.4 586.0,287.4 586.7,287.4 587.3,287.5 588.0,287.5 588.6,287.5 589.3,287.5 589.9,287.5 590.6,287.5 591.2,287.5 591.9,287.6 592.5,287.6 593.2,287.6 593.8,287.6 594.5,287.6 595.1,287.6 595.8,287.6 596.4,287.7 597.1,287.7 597.7,287.7 598.4,287.7 599.0,287.7 599.7,287.7 600.3,287.7 601.0,287.8 601.6,287.8 602.3,287.8 602.9,287.8 603.6,287.8 604.2,287.8 604.9,287.8 605.5,287.8 606.1,287.9 606.8,287.9 607.4,287.9 608.1,287.9 608.7,287.9 609.4,287.9 610.0,287.9 610.7,288.0 611.3,288.0 612.0,288.0 612.6,288.0 613.3,288.0 613.9,288.0 614.6,288.0 615.2,288.1 615.9,288.1 616.5,288.1 617.2,288.1 617.8,288.1 618.5,288.1 619.1,288.1 619.8,288.2 620.4,288.2 621.1,288.2 621.7,288.2 622.4,288.2 623.0,288.2 623.7,288.2 624.3,288.3 625.0,288.3 625.6,288.3 626.3,288.3 626.9,288.3 627.6,288.3 628.2,288.3 628.9,288.4 629.5,288.4 630.2,288.4 630.8,288.4 631.5,288.4 632.1,288.4 632.8,288.5 633.4,288.5 634.1,288.5 634.7,288.5 635.4,288.5 636.0,288.5 636.7,288.5 637.3,288.6 638.0,288.6 638.6,288.6 639.3,288.6 639.9,288.6 640.6,288.6 641.2,288.6 641.9,288.7 642.5,288.7 643.1,288.7 643.8,288.7 644.4,288.7 645.1,288.7 645.7,288.7 646.4,288.8 647.0,288.8 647.7,288.8 648.3,288.8 649.0,288.8 649.6,288.8 650.3,288.8 650.9,288.9 651.6,288.9 652.2,288.9 652.9,288.9 653.5,288.9 654.2,288.9 654.8,288.9 655.5,289.0 656.1,289.0 656.8,289.0 657.4,289.0 658.1,289.0 658.7,289.0 659.4,289.1 660.0,289.1 660.7,289.1 661.3,289.1 662.0,289.1 662.6,289.1 663.3,289.1 663.9,289.2 664.6,289.2 665.2,289.2 665.9,289.2 666.5,289.2 667.2,289.2 667.8,289.2 668.5,289.3 669.1,289.3 669.8,289.3 670.4,289.3 671.1,289.3 671.7,289.3 672.4,289.4 673.0,289.4 673.7,289.4 674.3,289.4 675.0,289.4 675.6,289.4 676.3,289.4 676.9,289.5 677.6,289.5 678.2,289.5 678.9,289.5 679.5,289.5" fill="none" stroke="#ff0000" stroke-width="1.6" stroke-dasharray="3.6,2.1" stroke-linejoin="round"/>
<text x="0.2" y="15.3" class="pl">(a)</text>
<text x="353.3" y="15.3" class="pl">(b)</text>
<text x="0.2" y="289.6" class="pl">(c)</text>
<text x="353.3" y="289.6" class="pl">(d)</text>
<text transform="translate(23.0,105.0) rotate(-90)" text-anchor="middle" class="ti">Z<tspan dy="3" font-size="8">0</tspan><tspan dy="-3">(&#937;)</tspan></text>
<text transform="translate(382.0,105.0) rotate(-90)" text-anchor="middle" class="ti">Z<tspan dy="3" font-size="8">0</tspan><tspan dy="-3">(&#937;)</tspan></text>
<text transform="translate(28.0,383.0) rotate(-90)" text-anchor="middle" class="ti">S<tspan dy="3" font-size="8">21</tspan><tspan dy="-3">,S</tspan><tspan dy="3" font-size="8">11</tspan><tspan dy="-3">(dB)</tspan></text>
<text transform="translate(387.0,383.0) rotate(-90)" text-anchor="middle" class="ti">S<tspan dy="3" font-size="8">21</tspan><tspan dy="-3">,S</tspan><tspan dy="3" font-size="8">11</tspan><tspan dy="-3">(dB)</tspan></text>
<line x1="213.0" y1="158.7" x2="238.5" y2="158.7" stroke="#000000" stroke-width="1.7"/>
<text x="241.0" y="162.7" class="lg">BSPML(0.5mm)</text>
<line x1="213.0" y1="172.4" x2="238.5" y2="172.4" stroke="#ff0000" stroke-width="1.6" stroke-dasharray="4.1,2.2"/>
<text x="241.0" y="176.4" class="lg">BSPML(1.0mm)</text>
<line x1="213.0" y1="185.5" x2="238.5" y2="185.5" stroke="#0000ff" stroke-width="1.6" stroke-dasharray="1.5,1.4"/>
<text x="241.0" y="189.5" class="lg">BSPML(2.0mm)</text>
<line x1="213.0" y1="198.8" x2="238.5" y2="198.8" stroke="#00ee00" stroke-width="1.7" stroke-dasharray="5.6,2.1,1.6,2.1"/>
<text x="241.0" y="202.8" class="lg">CML</text>
<line x1="571.5" y1="162.9" x2="596.5" y2="162.9" stroke="#000000" stroke-width="1.7"/>
<text x="599.0" y="166.9" class="lg">USPML(0.5mm)</text>
<line x1="571.5" y1="176.4" x2="596.5" y2="176.4" stroke="#ff0000" stroke-width="1.6" stroke-dasharray="4.1,2.2"/>
<text x="599.0" y="180.4" class="lg">USPML(1.0mm)</text>
<line x1="571.5" y1="189.3" x2="596.5" y2="189.3" stroke="#0000ff" stroke-width="1.7"/>
<text x="599.0" y="193.3" class="lg">USPML(2.0mm)</text>
<line x1="571.5" y1="203.0" x2="596.5" y2="203.0" stroke="#00ee00" stroke-width="1.7" stroke-dasharray="5.6,2.1,1.6,2.1"/>
<text x="599.0" y="207.0" class="lg">CML</text>
<line x1="212.5" y1="305.0" x2="237.5" y2="305.0" stroke="#000000" stroke-width="1.7"/>
<text x="240.0" y="309.0" class="lg">full-wave(S<tspan dy="3.2" font-size="7.5">21</tspan><tspan dy="-3.2">)</tspan></text>
<line x1="212.5" y1="321.0" x2="237.5" y2="321.0" stroke="#ff0000" stroke-width="1.6" stroke-dasharray="4.1,2.2"/>
<text x="240.0" y="325.0" class="lg">circuit model(S<tspan dy="3.2" font-size="7.5">21</tspan><tspan dy="-3.2">)</tspan></text>
<line x1="212.5" y1="336.5" x2="237.5" y2="336.5" stroke="#0000ff" stroke-width="1.7"/>
<text x="240.0" y="340.5" class="lg">full-wave(S<tspan dy="3.2" font-size="7.5">11</tspan><tspan dy="-3.2">)</tspan></text>
<line x1="212.5" y1="352.4" x2="237.5" y2="352.4" stroke="#00ee00" stroke-width="1.9" stroke-dasharray="4,2.4"/>
<text x="240.0" y="356.4" class="lg">circuit model(S<tspan dy="3.2" font-size="7.5">11</tspan><tspan dy="-3.2">)</tspan></text>
<line x1="570.0" y1="302.4" x2="594.7" y2="302.4" stroke="#000000" stroke-width="1.7"/>
<text x="597.5" y="306.4" class="lg">full-wave(S<tspan dy="3.2" font-size="7.5">21</tspan><tspan dy="-3.2">)</tspan></text>
<line x1="570.0" y1="318.3" x2="594.7" y2="318.3" stroke="#ff0000" stroke-width="1.6" stroke-dasharray="4.1,2.2"/>
<text x="597.5" y="322.3" class="lg">circuit model(S<tspan dy="3.2" font-size="7.5">21</tspan><tspan dy="-3.2">)</tspan></text>
<line x1="570.0" y1="333.8" x2="594.7" y2="333.8" stroke="#0000ff" stroke-width="1.7"/>
<text x="597.5" y="337.8" class="lg">full-wave(S<tspan dy="3.2" font-size="7.5">11</tspan><tspan dy="-3.2">)</tspan></text>
<line x1="570.0" y1="349.3" x2="594.7" y2="349.3" stroke="#00ee00" stroke-width="1.9" stroke-dasharray="4,2.4"/>
<text x="597.5" y="353.3" class="lg">circuit model(S<tspan dy="3.2" font-size="7.5">11</tspan><tspan dy="-3.2">)</tspan></text>
</svg>
</body></html>
